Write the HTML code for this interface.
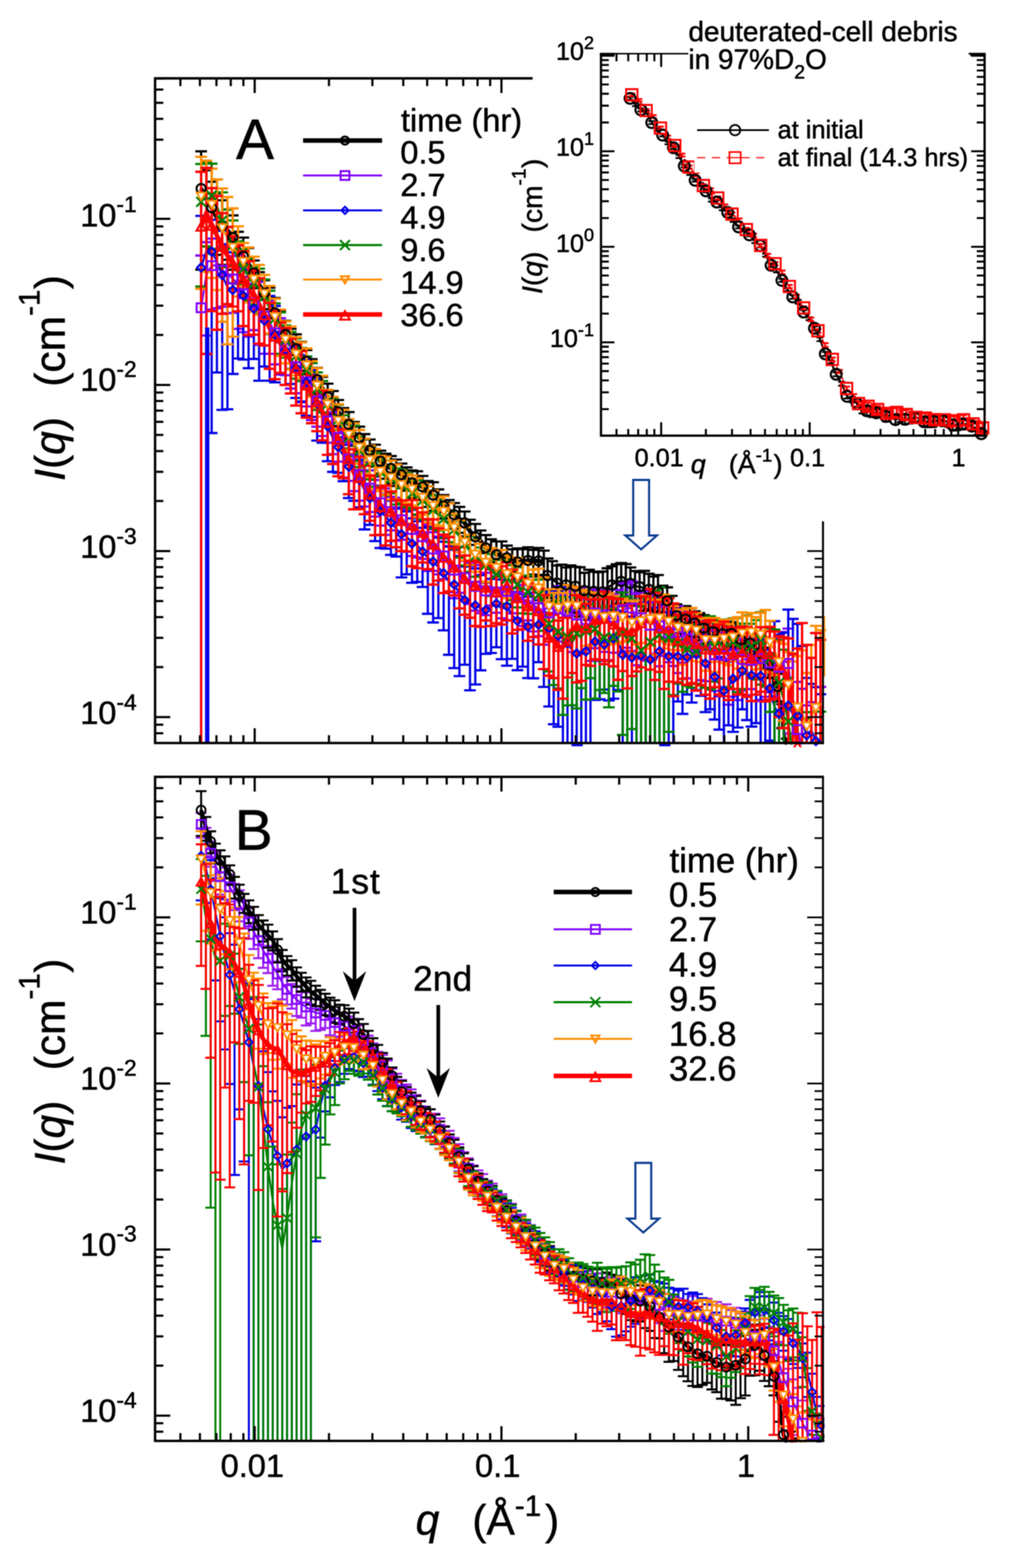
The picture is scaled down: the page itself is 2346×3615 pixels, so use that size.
<!DOCTYPE html>
<html lang="en"><head><meta charset="utf-8"><title>I(q) vs q : time evolution</title>
<style>html,body{margin:0;padding:0;background:#fff}svg{display:block}text{font-family:"Liberation Sans", sans-serif;fill:#000;stroke:#000;stroke-width:1.1px}</style>
</head><body>
<svg width="2346" height="3615" viewBox="0 0 2346 3615">
<defs><filter id="soft" filterUnits="userSpaceOnUse" x="0" y="0" width="2346" height="3615" color-interpolation-filters="sRGB"><feGaussianBlur stdDeviation="1.05"/></filter></defs>
<g filter="url(#soft)">
<rect width="2346" height="3615" fill="#fff"/>
<g id="panelA">
<clipPath id="clipA"><rect x="353.4" y="176.6" width="1550.8" height="1546.4"/></clipPath>
<g clip-path="url(#clipA)">
<g id="dataA">
<path d="M463.5 348.9V621.6M450 348.9h27M450 621.6h27M475.6 392.5V568.4M462.1 392.5h27M462.1 568.4h27M487.8 419V573.7M474.3 419h27M474.3 573.7h27M499.9 445.7V587.5M486.4 445.7h27M486.4 587.5h27M512.1 461.7V610.5M498.6 461.7h27M498.6 610.5h27M524.2 482.7V598.8M510.7 482.7h27M510.7 598.8h27M536.4 496.6V622M522.9 496.6h27M522.9 622h27M548.5 534.4V614.1M535 534.4h27M535 614.1h27M560.7 547.7V649.2M547.2 547.7h27M547.2 649.2h27M572.8 571.8V655.5M559.3 571.8h27M559.3 655.5h27M585 600.5V664.2M571.5 600.5h27M571.5 664.2h27M597.1 627.5V691.1M583.6 627.5h27M583.6 691.1h27M609.3 646.3V712.9M595.8 646.3h27M595.8 712.9h27M621.4 663.3V733.9M607.9 663.3h27M607.9 733.9h27M633.6 687V765.2M620.1 687h27M620.1 765.2h27M645.7 717V788.7M632.2 717h27M632.2 788.7h27M657.9 739.5V810.1M644.4 739.5h27M644.4 810.1h27M670 758.2V818.8M656.5 758.2h27M656.5 818.8h27M682.2 770.8V845.5M668.7 770.8h27M668.7 845.5h27M694.3 788V854.8M680.8 788h27M680.8 854.8h27M706.5 806.9V862.9M693 806.9h27M693 862.9h27M718.6 828V880.8M705.1 828h27M705.1 880.8h27M730.8 848.1V907.3M717.3 848.1h27M717.3 907.3h27M742.9 868.7V927.4M729.4 868.7h27M729.4 927.4h27M755.1 884.5V952.4M741.6 884.5h27M741.6 952.4h27M767.2 901.5V956.3M753.7 901.5h27M753.7 956.3h27M779.4 922.2V982M765.9 922.2h27M765.9 982h27M791.5 940.7V998.8M778 940.7h27M778 998.8h27M803.7 950V1012.6M790.2 950h27M790.2 1012.6h27M815.8 972.7V1028M802.3 972.7h27M802.3 1028h27M828 983.6V1039.9M814.5 983.6h27M814.5 1039.9h27M840.1 1000.9V1065.5M826.6 1000.9h27M826.6 1065.5h27M852.3 1013.3V1067.6M838.8 1013.3h27M838.8 1067.6h27M864.4 1025.3V1075.8M850.9 1025.3h27M850.9 1075.8h27M876.6 1039.1V1091.7M863.1 1039.1h27M863.1 1091.7h27M888.7 1046.1V1103.7M875.2 1046.1h27M875.2 1103.7h27M900.9 1051.4V1114.4M887.4 1051.4h27M887.4 1114.4h27M913 1059.5V1120.5M899.5 1059.5h27M899.5 1120.5h27M925.2 1068.8V1125.3M911.7 1068.8h27M911.7 1125.3h27M937.3 1077.6V1131.1M923.8 1077.6h27M923.8 1131.1h27M949.5 1084.6V1148M936 1084.6h27M936 1148h27M961.6 1086.5V1151.4M948.1 1086.5h27M948.1 1151.4h27M973.8 1097.2V1152.4M960.3 1097.2h27M960.3 1152.4h27M985.9 1109V1168.7M972.4 1109h27M972.4 1168.7h27M998.1 1111.7V1177.9M984.6 1111.7h27M984.6 1177.9h27M1010.2 1128.4V1180.9M996.7 1128.4h27M996.7 1180.9h27M1022.4 1141.4V1195.5M1008.9 1141.4h27M1008.9 1195.5h27M1034.5 1152.9V1202.4M1021 1152.9h27M1021 1202.4h27M1046.7 1159.7V1219M1033.2 1159.7h27M1033.2 1219h27M1058.8 1168.6V1228.5M1045.3 1168.6h27M1045.3 1228.5h27M1071 1179.3V1236.6M1057.5 1179.3h27M1057.5 1236.6h27M1083.1 1198.2V1256.3M1069.6 1198.2h27M1069.6 1256.3h27M1095.3 1208V1273.9M1081.8 1208h27M1081.8 1273.9h27M1107.4 1223V1275.2M1093.9 1223h27M1093.9 1275.2h27M1119.6 1233.6V1299M1106.1 1233.6h27M1106.1 1299h27M1131.7 1243.3V1296.6M1118.2 1243.3h27M1118.2 1296.6h27M1143.9 1248.3V1316.7M1130.4 1248.3h27M1130.4 1316.7h27M1156 1248.2V1317.1M1142.5 1248.2h27M1142.5 1317.1h27M1168.2 1257.9V1319.9M1154.7 1257.9h27M1154.7 1319.9h27M1180.4 1266.5V1318.9M1166.9 1266.5h27M1166.9 1318.9h27M1192.5 1264.4V1334.3M1179 1264.4h27M1179 1334.3h27M1204.7 1266.3V1331.2M1191.2 1266.3h27M1191.2 1331.2h27M1216.8 1261.7V1329.3M1203.3 1261.7h27M1203.3 1329.3h27M1229 1267.6V1324.6M1215.5 1267.6h27M1215.5 1324.6h27M1241.1 1263.4V1329.4M1227.6 1263.4h27M1227.6 1329.4h27M1253.3 1269.5V1325.6M1239.8 1269.5h27M1239.8 1325.6h27" stroke="#000" stroke-width="5.1" fill="none"/>
<path d="M463.5 434.7L475.6 458.2L487.8 479L499.9 501.9L512.1 520L524.2 530.8L536.4 547.8L548.5 569.5L560.7 590.8L572.8 608.5L585 629.3L597.1 656.3L609.3 676.3L621.4 694.9L633.6 721.5L645.7 749L657.9 771L670 785.8L682.2 804L694.3 818.1L706.5 832.6L718.6 852.3L730.8 875.1L742.9 895.5L755.1 915L767.2 926.6L779.4 949.5L791.5 967.2L803.7 978.4L815.8 998.1L828 1009.4L840.1 1030.1L852.3 1038.3L864.4 1048.7L876.6 1063.3L888.7 1072.4L900.9 1080L913 1087.2L925.2 1094.7L937.3 1102.2L949.5 1113.3L961.6 1115.8L973.8 1122.5L985.9 1136.2L998.1 1141.5L1010.2 1152.6L1022.4 1166.3L1034.5 1175.8L1046.7 1186.7L1058.8 1195.9L1071 1205.5L1083.1 1224.7L1095.3 1237.7L1107.4 1247L1119.6 1263.1L1131.7 1267.8L1143.9 1279L1156 1279.1L1168.2 1286L1180.4 1290.6L1192.5 1295.7L1204.7 1295.6L1216.8 1292.1L1229 1293.7L1241.1 1293.1L1253.3 1295.2" stroke="#000" stroke-width="10" fill="none" stroke-linejoin="round"/>
<path d="M1262 1287.5V1378.6M1248.5 1287.5h27M1248.5 1378.6h27M1272.6 1293.7V1387.3M1259.1 1293.7h27M1259.1 1387.3h27M1283.2 1303.8V1397.4M1269.7 1303.8h27M1269.7 1397.4h27M1293.8 1301.8V1406.4M1280.3 1301.8h27M1280.3 1406.4h27M1304.4 1308.2V1401.3M1290.9 1308.2h27M1290.9 1401.3h27M1315 1303.6V1411.5M1301.5 1303.6h27M1301.5 1411.5h27M1325.6 1306.7V1413.3M1312.1 1306.7h27M1312.1 1413.3h27M1336.2 1307.9V1422M1322.7 1307.9h27M1322.7 1422h27M1346.8 1320.6V1415.8M1333.3 1320.6h27M1333.3 1415.8h27M1357.4 1313.5V1429M1343.9 1313.5h27M1343.9 1429h27M1368 1317.9V1426.5M1354.5 1317.9h27M1354.5 1426.5h27M1378.6 1319.2V1426.3M1365.1 1319.2h27M1365.1 1426.3h27M1389.2 1317.6V1429.5M1375.7 1317.6h27M1375.7 1429.5h27M1399.8 1310.1V1414.1M1386.3 1310.1h27M1386.3 1414.1h27M1410.4 1305.5V1407M1396.9 1305.5h27M1396.9 1407h27M1421 1300.8V1392.3M1407.5 1300.8h27M1407.5 1392.3h27M1431.6 1298V1397.8M1418.1 1298h27M1418.1 1397.8h27M1442.2 1300.4V1389.5M1428.7 1300.4h27M1428.7 1389.5h27M1452.8 1308.3V1392.4M1439.3 1308.3h27M1439.3 1392.4h27M1463.4 1316.5V1396.5M1449.9 1316.5h27M1449.9 1396.5h27M1474 1319.1V1394.8M1460.5 1319.1h27M1460.5 1394.8h27M1484.6 1316.1V1408.4M1471.1 1316.1h27M1471.1 1408.4h27M1495.2 1322.9V1404.8M1481.7 1322.9h27M1481.7 1404.8h27M1505.8 1329.3V1408.7M1492.3 1329.3h27M1492.3 1408.7h27M1516.4 1325.8V1411.9M1502.9 1325.8h27M1502.9 1411.9h27M1527 1350.2V1412M1513.5 1350.2h27M1513.5 1412h27M1537.6 1354.1V1423.3M1524.1 1354.1h27M1524.1 1423.3h27M1548.2 1373.7V1436.9M1534.7 1373.7h27M1534.7 1436.9h27M1558.8 1393.3V1450.3M1545.3 1393.3h27M1545.3 1450.3h27M1569.4 1401.1V1459M1555.9 1401.1h27M1555.9 1459h27M1580 1397.3V1463.9M1566.5 1397.3h27M1566.5 1463.9h27M1590.6 1402.3V1470.2M1577.1 1402.3h27M1577.1 1470.2h27M1601.2 1409.3V1468.5M1587.7 1409.3h27M1587.7 1468.5h27M1611.8 1413.6V1476.8M1598.3 1413.6h27M1598.3 1476.8h27M1622.4 1418.4V1484.9M1608.9 1418.4h27M1608.9 1484.9h27M1633 1423.3V1481M1619.5 1423.3h27M1619.5 1481h27M1643.6 1431.5V1486.2M1630.1 1431.5h27M1630.1 1486.2h27M1654.2 1433V1483.3M1640.7 1433h27M1640.7 1483.3h27M1664.8 1430.5V1498.9M1651.3 1430.5h27M1651.3 1498.9h27M1675.4 1439V1491.2M1661.9 1439h27M1661.9 1491.2h27M1686 1434.3V1491.8M1672.5 1434.3h27M1672.5 1491.8h27M1696.6 1437.8V1494.7M1683.1 1437.8h27M1683.1 1494.7h27M1707.2 1444.1V1512.5M1693.7 1444.1h27M1693.7 1512.5h27M1717.8 1449.2V1511.8M1704.3 1449.2h27M1704.3 1511.8h27M1728.4 1459.9V1509.5M1714.9 1459.9h27M1714.9 1509.5h27M1739 1460.4V1523M1725.5 1460.4h27M1725.5 1523h27M1749.6 1482.1V1532.8M1736.1 1482.1h27M1736.1 1532.8h27M1760.2 1493.2V1542M1746.7 1493.2h27M1746.7 1542h27M1770.8 1506V1563.1M1757.3 1506h27M1757.3 1563.1h27M1781.4 1531.2V1584.8M1767.9 1531.2h27M1767.9 1584.8h27M1792 1553.8V1617.3M1778.5 1553.8h27M1778.5 1617.3h27M1802.6 1623.5V1678.6M1789.1 1623.5h27M1789.1 1678.6h27M1813.2 1703.1V1713M1799.7 1703.1h27M1823.8 1711.4V1713M1810.3 1711.4h27M1834.4 1711.5V1713M1820.9 1711.5h27" stroke="#000" stroke-width="5.1" fill="none"/>
<path d="M1262 1326.9L1272.6 1334L1283.2 1344.1L1293.8 1346L1304.4 1348.4L1315 1349L1325.6 1351.6L1336.2 1355.3L1346.8 1361.5L1357.4 1361.4L1368 1363.5L1378.6 1364.2L1389.2 1364.3L1399.8 1354.1L1410.4 1348.6L1421 1340.3L1431.6 1340.5L1442.2 1339.1L1452.8 1345.1L1463.4 1351.7L1474 1352.7L1484.6 1355.9L1495.2 1358.8L1505.8 1364.3L1516.4 1363.4L1527 1378.2L1537.6 1385.1L1548.2 1402.4L1558.8 1419.4L1569.4 1427.5L1580 1427.3L1590.6 1432.8L1601.2 1436.3L1611.8 1442.2L1622.4 1448.3L1633 1449.7L1643.6 1456.6L1654.2 1456.3L1664.8 1461.2L1675.4 1463.1L1686 1460.6L1696.6 1463.8L1707.2 1474.8L1717.8 1477.6L1728.4 1482.9L1739 1488.8L1749.6 1505.5L1760.2 1515.8L1770.8 1532.1L1781.4 1555.8L1792 1582.6L1802.6 1648.8L1811.3 1717" stroke="#000" stroke-width="5" fill="none" stroke-linejoin="round"/>
<path d="M463.5 589.1V1713M450 589.1h27M475.6 558.4V773.5M462.1 558.4h27M462.1 773.5h27M487.8 550.1V713.7M474.3 550.1h27M474.3 713.7h27M499.9 549.8V710.6M486.4 549.8h27M486.4 710.6h27M512.1 567.5V707.1M498.6 567.5h27M498.6 707.1h27M524.2 569.8V722M510.7 569.8h27M510.7 722h27M536.4 590.5V721.2M522.9 590.5h27M522.9 721.2h27M548.5 589.5V758.3M535 589.5h27M535 758.3h27M560.7 619.7V765.8M547.2 619.7h27M547.2 765.8h27M572.8 638.4V776.1M559.3 638.4h27M559.3 776.1h27M585 654.2V761.1M571.5 654.2h27M571.5 761.1h27M597.1 649.8V795.2M583.6 649.8h27M583.6 795.2h27M609.3 672.4V815.5M595.8 672.4h27M595.8 815.5h27M621.4 692.6V815.7M607.9 692.6h27M607.9 815.7h27M633.6 717.1V840.1M620.1 717.1h27M620.1 840.1h27M645.7 733.5V863.8M632.2 733.5h27M632.2 863.8h27M657.9 757.7V865M644.4 757.7h27M644.4 865h27M670 778.9V895.9M656.5 778.9h27M656.5 895.9h27M682.2 801.1V906.5M668.7 801.1h27M668.7 906.5h27M694.3 818.7V927.5M680.8 818.7h27M680.8 927.5h27M706.5 838V937M693 838h27M693 937h27M718.6 863.1V968.4M705.1 863.1h27M705.1 968.4h27M730.8 881.1V983.7M717.3 881.1h27M717.3 983.7h27M742.9 910.1V1005.3M729.4 910.1h27M729.4 1005.3h27M755.1 931.9V1020.8M741.6 931.9h27M741.6 1020.8h27M767.2 950.6V1047M753.7 950.6h27M753.7 1047h27M779.4 966.9V1064.3M765.9 966.9h27M765.9 1064.3h27M791.5 995.4V1101M778 995.4h27M778 1101h27M803.7 1019.6V1108.8M790.2 1019.6h27M790.2 1108.8h27M815.8 1036.8V1132.3M802.3 1036.8h27M802.3 1132.3h27M828 1050V1154.2M814.5 1050h27M814.5 1154.2h27M840.1 1066.6V1167.7M826.6 1066.6h27M826.6 1167.7h27M852.3 1084.4V1180.5M838.8 1084.4h27M838.8 1180.5h27M864.4 1106.8V1190.9M850.9 1106.8h27M850.9 1190.9h27M876.6 1119.2V1211.8M863.1 1119.2h27M863.1 1211.8h27M888.7 1126.3V1233.3M875.2 1126.3h27M875.2 1233.3h27M900.9 1145.4V1222.6M887.4 1145.4h27M887.4 1222.6h27M913 1147.6V1246.4M899.5 1147.6h27M899.5 1246.4h27M925.2 1162.3V1244.4M911.7 1162.3h27M911.7 1244.4h27M937.3 1174.2V1272.3M923.8 1174.2h27M923.8 1272.3h27M949.5 1175.8V1281.9M936 1175.8h27M936 1281.9h27M961.6 1187.1V1285.4M948.1 1187.1h27M948.1 1285.4h27M973.8 1198.3V1288.8M960.3 1198.3h27M960.3 1288.8h27M985.9 1209.6V1316.5M972.4 1209.6h27M972.4 1316.5h27M998.1 1227.1V1316.1M984.6 1227.1h27M984.6 1316.1h27M1010.2 1236.8V1324.2M996.7 1236.8h27M996.7 1324.2h27M1022.4 1241.4V1335.3M1008.9 1241.4h27M1008.9 1335.3h27M1034.5 1258.7V1365.4M1021 1258.7h27M1021 1365.4h27M1046.7 1267.9V1379.1M1033.2 1267.9h27M1033.2 1379.1h27M1058.8 1281.7V1366.6M1045.3 1281.7h27M1045.3 1366.6h27M1071 1293.2V1382.2M1057.5 1293.2h27M1057.5 1382.2h27M1083.1 1298.1V1392.5M1069.6 1298.1h27M1069.6 1392.5h27M1095.3 1310.1V1407.9M1081.8 1310.1h27M1081.8 1407.9h27M1107.4 1302.6V1413.7M1093.9 1302.6h27M1093.9 1413.7h27M1119.6 1320.6V1418.3M1106.1 1320.6h27M1106.1 1418.3h27M1131.7 1312.4V1396.1M1118.2 1312.4h27M1118.2 1396.1h27M1143.9 1328.2V1412.8M1130.4 1328.2h27M1130.4 1412.8h27M1156 1321.5V1425.6M1142.5 1321.5h27M1142.5 1425.6h27M1168.2 1316.3V1429.5M1154.7 1316.3h27M1154.7 1429.5h27M1180.4 1324.2V1413.9M1166.9 1324.2h27M1166.9 1413.9h27M1192.5 1339.1V1425.4M1179 1339.1h27M1179 1425.4h27M1204.7 1348.9V1443.3M1191.2 1348.9h27M1191.2 1443.3h27M1216.8 1342.3V1430.4M1203.3 1342.3h27M1203.3 1430.4h27M1229 1352V1455.7M1215.5 1352h27M1215.5 1455.7h27M1241.1 1354.2V1466.7M1227.6 1354.2h27M1227.6 1466.7h27M1253.3 1358.4V1486.3M1239.8 1358.4h27M1239.8 1486.3h27M1265.4 1369.2V1472.4M1251.9 1369.2h27M1251.9 1472.4h27M1276 1367.4V1475.3M1262.5 1367.4h27M1262.5 1475.3h27M1286.6 1351.6V1479.3M1273.1 1351.6h27M1273.1 1479.3h27M1297.2 1370.9V1490.3M1283.7 1370.9h27M1283.7 1490.3h27M1307.8 1357.1V1486.6M1294.3 1357.1h27M1294.3 1486.6h27M1318.4 1364.4V1503.3M1304.9 1364.4h27M1304.9 1503.3h27M1329 1358.5V1510.6M1315.5 1358.5h27M1315.5 1510.6h27M1339.6 1353.1V1507.2M1326.1 1353.1h27M1326.1 1507.2h27M1350.2 1380.3V1496.6M1336.7 1380.3h27M1336.7 1496.6h27M1360.8 1373.6V1523.8M1347.3 1373.6h27M1347.3 1523.8h27M1371.4 1359.2V1494.4M1357.9 1359.2h27M1357.9 1494.4h27M1382 1362.9V1524M1368.5 1362.9h27M1368.5 1524h27M1392.6 1361.5V1503M1379.1 1361.5h27M1379.1 1503h27M1403.2 1367.7V1522.1M1389.7 1367.7h27M1389.7 1522.1h27M1413.8 1368.9V1504.7M1400.3 1368.9h27M1400.3 1504.7h27M1424.4 1360V1482.2M1410.9 1360h27M1410.9 1482.2h27M1435 1345.7V1501.4M1421.5 1345.7h27M1421.5 1501.4h27M1445.6 1343.5V1493.4M1432.1 1343.5h27M1432.1 1493.4h27M1456.2 1340.4V1500.9M1442.7 1340.4h27M1442.7 1500.9h27M1466.8 1368.5V1533.7M1453.3 1368.5h27M1453.3 1533.7h27M1477.4 1364.8V1518.9M1463.9 1364.8h27M1463.9 1518.9h27M1488 1361.8V1522.9M1474.5 1361.8h27M1474.5 1522.9h27M1498.6 1388.9V1518.6M1485.1 1388.9h27M1485.1 1518.6h27M1509.2 1372.2V1506.7M1495.7 1372.2h27M1495.7 1506.7h27M1519.8 1383.2V1536M1506.3 1383.2h27M1506.3 1536h27M1530.4 1398.9V1512.3M1516.9 1398.9h27M1516.9 1512.3h27M1541 1411.7V1526.8M1527.5 1411.7h27M1527.5 1526.8h27M1551.6 1414.8V1535.4M1538.1 1414.8h27M1538.1 1535.4h27M1562.2 1397.8V1551.7M1548.7 1397.8h27M1548.7 1551.7h27M1572.8 1408.4V1527.8M1559.3 1408.4h27M1559.3 1527.8h27M1583.4 1413.7V1563.9M1569.9 1413.7h27M1569.9 1563.9h27M1594 1427.8V1576.1M1580.5 1427.8h27M1580.5 1576.1h27M1604.6 1439.2V1576.6M1591.1 1439.2h27M1591.1 1576.6h27M1615.2 1451.8V1568.1M1601.7 1451.8h27M1601.7 1568.1h27M1625.8 1431.3V1570.5M1612.3 1431.3h27M1612.3 1570.5h27M1636.4 1435.6V1586.1M1622.9 1435.6h27M1622.9 1586.1h27M1647 1453.9V1592.9M1633.5 1453.9h27M1633.5 1592.9h27M1657.6 1464.5V1605.5M1644.1 1464.5h27M1644.1 1605.5h27M1668.2 1458.1V1589.5M1654.7 1458.1h27M1654.7 1589.5h27M1678.8 1464.2V1624.8M1665.3 1464.2h27M1665.3 1624.8h27M1689.4 1448.7V1606.3M1675.9 1448.7h27M1675.9 1606.3h27M1700 1474.9V1614M1686.5 1474.9h27M1686.5 1614h27M1710.6 1470.3V1592.3M1697.1 1470.3h27M1697.1 1592.3h27M1721.2 1464.9V1602.8M1707.7 1464.9h27M1707.7 1602.8h27M1731.8 1475.2V1588.6M1718.3 1475.2h27M1718.3 1588.6h27M1742.4 1477.6V1616.2M1728.9 1477.6h27M1728.9 1616.2h27M1753 1458.6V1613.3M1739.5 1458.6h27M1739.5 1613.3h27M1763.6 1469.2V1606.5M1750.1 1469.2h27M1750.1 1606.5h27M1774.2 1480.8V1596M1760.7 1480.8h27M1760.7 1596h27M1784.8 1472V1605.1M1771.3 1472h27M1771.3 1605.1h27M1795.4 1476.4V1638.3M1781.9 1476.4h27M1781.9 1638.3h27M1806 1457V1627.3M1792.5 1457h27M1792.5 1627.3h27M1816.6 1449.3V1691.1M1803.1 1449.3h27M1803.1 1691.1h27M1827.2 1509.7V1713M1813.7 1509.7h27M1837.8 1572.1V1713M1824.3 1572.1h27M1848.4 1588.1V1713M1834.9 1588.1h27M1859 1626.2V1713M1845.5 1626.2h27M1869.6 1619V1713M1856.1 1619h27M1880.2 1584.2V1713M1866.7 1584.2h27M1890.8 1583.8V1713M1877.3 1583.8h27" stroke="#7f00ff" stroke-width="5.1" fill="none"/>
<path d="M463.5 709.5L475.6 633.3L487.8 612.5L499.9 611.4L512.1 623.1L524.2 629.1L536.4 643.3L548.5 653.4L560.7 677.2L572.8 693.4L585 699.2L597.1 707.1L609.3 729L621.4 743L633.6 767.5L645.7 786.2L657.9 802.8L670 827.3L682.2 845.6L694.3 864.4L706.5 880.2L718.6 907.5L730.8 924.6L742.9 951L755.1 970.5L767.2 991.9L779.4 1008.6L791.5 1039.9L803.7 1058.3L815.8 1077.8L828 1094L840.1 1109.6L852.3 1125.6L864.4 1143.6L876.6 1159.1L888.7 1171.3L900.9 1179.6L913 1189.8L925.2 1198.4L937.3 1216.2L949.5 1220.5L961.6 1229.1L973.8 1237.5L985.9 1254.6L998.1 1265.7L1010.2 1274.8L1022.4 1281.8L1034.5 1303.6L1046.7 1314.4L1058.8 1318.8L1071 1331.8L1083.1 1338.7L1095.3 1351.9L1107.4 1349.1L1119.6 1362.3L1131.7 1349.1L1143.9 1365.2L1156 1365.6L1168.2 1363.5L1180.4 1363.1L1192.5 1376.7L1204.7 1389.5L1216.8 1380.6L1229 1395.9L1241.1 1401.2L1253.3 1410.3L1265.4 1412.9L1276 1412.7L1286.6 1403.5L1297.2 1420.1L1307.8 1409.5L1318.4 1419.8L1329 1417.8L1339.6 1412.9L1350.2 1428.5L1360.8 1432.3L1371.4 1413.4L1382 1424.6L1392.6 1417.6L1403.2 1427.6L1413.8 1423.3L1424.4 1410.1L1435 1406L1445.6 1402.1L1456.2 1402L1466.8 1431.4L1477.4 1424.6L1488 1423.5L1498.6 1441.4L1509.2 1426.2L1519.8 1442.6L1530.4 1446.1L1541 1459.5L1551.6 1464.4L1562.2 1457.5L1572.8 1457.6L1583.4 1472.4L1594 1485.9L1604.6 1494.1L1615.2 1500L1625.8 1486.8L1636.4 1494.3L1647 1509.3L1657.6 1520.5L1668.2 1511.1L1678.8 1525.9L1689.4 1509.5L1700 1530.3L1710.6 1520.4L1721.2 1519.9L1731.8 1522.4L1742.4 1532.9L1753 1518.6L1763.6 1524.1L1774.2 1528.6L1784.8 1525.5L1795.4 1538.3L1806 1521.2L1816.6 1529.7L1827.2 1620.9L1837.8 1682.1L1846.6 1717" stroke="#7f00ff" stroke-width="4.4" fill="none" stroke-linejoin="round"/>
<path d="M463.5 497.8V1713M450 497.8h27M475.6 458.9V1713M462.1 458.9h27M487.8 471.7V998.4M474.3 471.7h27M474.3 998.4h27M499.9 506.8V858.8M486.4 506.8h27M486.4 858.8h27M512.1 532.1V945M498.6 532.1h27M498.6 945h27M524.2 563.1V943.5M510.7 563.1h27M510.7 943.5h27M536.4 581.6V862.1M522.9 581.6h27M522.9 862.1h27M548.5 583V826.5M535 583h27M535 826.5h27M560.7 604.4V829M547.2 604.4h27M547.2 829h27M572.8 621.8V848.9M559.3 621.8h27M559.3 848.9h27M585 643.7V827.6M571.5 643.7h27M571.5 827.6h27M597.1 642.6V877.7M583.6 642.6h27M583.6 877.7h27M609.3 675V845M595.8 675h27M595.8 845h27M621.4 682.4V877.8M607.9 682.4h27M607.9 877.8h27M633.6 705.4V881.5M620.1 705.4h27M620.1 881.5h27M645.7 750.3V860.7M632.2 750.3h27M632.2 860.7h27M657.9 754.7V887.2M644.4 754.7h27M644.4 887.2h27M670 781.5V885.3M656.5 781.5h27M656.5 885.3h27M682.2 799.2V917.5M668.7 799.2h27M668.7 917.5h27M694.3 820.5V925.6M680.8 820.5h27M680.8 925.6h27M706.5 827.9V958.4M693 827.9h27M693 958.4h27M718.6 853V961.3M705.1 853h27M705.1 961.3h27M730.8 874.1V1015.8M717.3 874.1h27M717.3 1015.8h27M742.9 916.2V1020.8M729.4 916.2h27M729.4 1020.8h27M755.1 929.1V1063.2M741.6 929.1h27M741.6 1063.2h27M767.2 957.4V1087.9M753.7 957.4h27M753.7 1087.9h27M779.4 987.4V1090.1M765.9 987.4h27M765.9 1090.1h27M791.5 1008.1V1109.4M778 1008.1h27M778 1109.4h27M803.7 1025.4V1148.2M790.2 1025.4h27M790.2 1148.2h27M815.8 1048V1154.8M802.3 1048h27M802.3 1154.8h27M828 1059.9V1169.9M814.5 1059.9h27M814.5 1169.9h27M840.1 1071.8V1220.6M826.6 1071.8h27M826.6 1220.6h27M852.3 1103.7V1210.1M838.8 1103.7h27M838.8 1210.1h27M864.4 1098.8V1247.5M850.9 1098.8h27M850.9 1247.5h27M876.6 1123.6V1263.4M863.1 1123.6h27M863.1 1263.4h27M888.7 1139.1V1264.9M875.2 1139.1h27M875.2 1264.9h27M900.9 1154.2V1279.2M887.4 1154.2h27M887.4 1279.2h27M913 1172.7V1283.1M899.5 1172.7h27M899.5 1283.1h27M925.2 1170V1331.3M911.7 1170h27M911.7 1331.3h27M937.3 1179.1V1324.1M923.8 1179.1h27M923.8 1324.1h27M949.5 1195V1343.6M936 1195h27M936 1343.6h27M961.6 1201.7V1341.6M948.1 1201.7h27M948.1 1341.6h27M973.8 1217V1353.2M960.3 1217h27M960.3 1353.2h27M985.9 1214.6V1415.1M972.4 1214.6h27M972.4 1415.1h27M998.1 1219.7V1435.1M984.6 1219.7h27M984.6 1435.1h27M1010.2 1239.8V1425M996.7 1239.8h27M996.7 1425h27M1022.4 1248.9V1453.2M1008.9 1248.9h27M1008.9 1453.2h27M1034.5 1260.3V1509.6M1021 1260.3h27M1021 1509.6h27M1046.7 1260.7V1540.3M1033.2 1260.7h27M1033.2 1540.3h27M1058.8 1282V1558.7M1045.3 1282h27M1045.3 1558.7h27M1071 1306.2V1532.5M1057.5 1306.2h27M1057.5 1532.5h27M1083.1 1304.1V1591.5M1069.6 1304.1h27M1069.6 1591.5h27M1095.3 1310.7V1578M1081.8 1310.7h27M1081.8 1578h27M1107.4 1325.9V1545.4M1093.9 1325.9h27M1093.9 1545.4h27M1119.6 1343.7V1507.5M1106.1 1343.7h27M1106.1 1507.5h27M1131.7 1334.6V1505.5M1118.2 1334.6h27M1118.2 1505.5h27M1143.9 1329.3V1492.3M1130.4 1329.3h27M1130.4 1492.3h27M1156 1336.2V1519.8M1142.5 1336.2h27M1142.5 1519.8h27M1168.2 1323.8V1534.7M1154.7 1323.8h27M1154.7 1534.7h27M1180.4 1356.2V1519M1166.9 1356.2h27M1166.9 1519h27M1192.5 1364.6V1545.1M1179 1364.6h27M1179 1545.1h27M1204.7 1369.6V1537M1191.2 1369.6h27M1191.2 1537h27M1216.8 1376V1563.2M1203.3 1376h27M1203.3 1563.2h27M1229 1366.5V1563.9M1215.5 1366.5h27M1215.5 1563.9h27M1241.1 1383.9V1526.6M1227.6 1383.9h27M1227.6 1526.6h27M1253.3 1366.3V1583.8M1239.8 1366.3h27M1239.8 1583.8h27M1265.4 1364.4V1628.7M1251.9 1364.4h27M1251.9 1628.7h27M1276 1361.8V1669.8M1262.5 1361.8h27M1262.5 1669.8h27M1286.6 1376.1V1675.5M1273.1 1376.1h27M1273.1 1675.5h27M1297.2 1351.9V1713M1283.7 1351.9h27M1307.8 1376.1V1713M1294.3 1376.1h27M1318.4 1388.9V1713M1304.9 1388.9h27M1329 1392V1713M1315.5 1392h27M1339.6 1411V1713M1326.1 1411h27M1350.2 1395.2V1713M1336.7 1395.2h27M1360.8 1384.2V1713M1347.3 1384.2h27M1371.4 1406V1613.6M1357.9 1406h27M1357.9 1613.6h27M1382 1403.8V1612.1M1368.5 1403.8h27M1368.5 1612.1h27M1392.6 1422.3V1589.8M1379.1 1422.3h27M1379.1 1589.8h27M1403.2 1417.3V1615M1389.7 1417.3h27M1389.7 1615h27M1413.8 1397.6V1610.7M1400.3 1397.6h27M1400.3 1610.7h27M1424.4 1408.4V1590.9M1410.9 1408.4h27M1410.9 1590.9h27M1435 1410.7V1713M1421.5 1410.7h27M1445.6 1395.3V1713M1432.1 1395.3h27M1456.2 1421.7V1713M1442.7 1421.7h27M1466.8 1421.9V1713M1453.3 1421.9h27M1477.4 1392.1V1713M1463.9 1392.1h27M1488 1389.2V1713M1474.5 1389.2h27M1498.6 1424.3V1713M1485.1 1424.3h27M1509.2 1400.9V1713M1495.7 1400.9h27M1519.8 1376.4V1713M1506.3 1376.4h27M1530.4 1393.9V1713M1516.9 1393.9h27M1541 1412V1713M1527.5 1412h27M1551.6 1408.9V1713M1538.1 1408.9h27M1562.2 1450.2V1617.2M1548.7 1450.2h27M1548.7 1617.2h27M1572.8 1453V1645.9M1559.3 1453h27M1559.3 1645.9h27M1583.4 1459V1601.2M1569.9 1459h27M1569.9 1601.2h27M1594 1455.1V1619.8M1580.5 1455.1h27M1580.5 1619.8h27M1604.6 1453.6V1591.1M1591.1 1453.6h27M1591.1 1591.1h27M1615.2 1462.4V1604.1M1601.7 1462.4h27M1601.7 1604.1h27M1625.8 1463.2V1641.7M1612.3 1463.2h27M1612.3 1641.7h27M1636.4 1485.5V1635.2M1622.9 1485.5h27M1622.9 1635.2h27M1647 1499.2V1658.9M1633.5 1499.2h27M1633.5 1658.9h27M1657.6 1515.1V1682.1M1644.1 1515.1h27M1644.1 1682.1h27M1668.2 1521.4V1713M1654.7 1521.4h27M1678.8 1525.8V1672.3M1665.3 1525.8h27M1665.3 1672.3h27M1689.4 1495.1V1687.2M1675.9 1495.1h27M1675.9 1687.2h27M1700 1505.7V1677.3M1686.5 1505.7h27M1686.5 1677.3h27M1710.6 1488.1V1635.4M1697.1 1488.1h27M1697.1 1635.4h27M1721.2 1492.2V1660.1M1707.7 1492.2h27M1707.7 1660.1h27M1731.8 1488.1V1675.1M1718.3 1488.1h27M1718.3 1675.1h27M1742.4 1501.9V1667.1M1728.9 1501.9h27M1728.9 1667.1h27M1753 1474.8V1713M1739.5 1474.8h27M1763.6 1498.1V1713M1750.1 1498.1h27M1774.2 1517.5V1707.5M1760.7 1517.5h27M1760.7 1707.5h27M1784.8 1432.1V1713M1771.3 1432.1h27M1795.4 1463.2V1713M1781.9 1463.2h27M1806 1458.6V1713M1792.5 1458.6h27M1816.6 1405.4V1713M1803.1 1405.4h27M1827.2 1426.9V1713M1813.7 1426.9h27M1837.8 1438.4V1713M1824.3 1438.4h27M1848.4 1489.2V1713M1834.9 1489.2h27M1859 1563V1713M1845.5 1563h27M1869.6 1576.7V1713M1856.1 1576.7h27M1880.2 1584.2V1713M1866.7 1584.2h27M1890.8 1600.5V1713M1877.3 1600.5h27" stroke="#0000e6" stroke-width="5.1" fill="none"/>
<path d="M463.5 616.8L475.6 578.7L487.8 580.1L499.9 603.1L512.1 634L524.2 662.3L536.4 668.6L548.5 663.7L560.7 681.3L572.8 699.3L585 711.4L597.1 721.7L609.3 739.2L621.4 752.9L633.6 771.1L645.7 796.5L657.9 808.1L670 825.4L682.2 848.1L694.3 864.8L706.5 880.6L718.6 898.5L730.8 930.3L742.9 960.4L755.1 983L767.2 1010.1L779.4 1030.9L791.5 1051.2L803.7 1075.7L815.8 1093L828 1105.9L840.1 1130.1L852.3 1148.5L864.4 1157.1L876.6 1179.2L888.7 1190.4L900.9 1205.2L913 1218.9L925.2 1231.8L937.3 1236.3L949.5 1253.2L961.6 1257.4L973.8 1271.5L985.9 1286.3L998.1 1294.7L1010.2 1307.8L1022.4 1321.4L1034.5 1342L1046.7 1347.6L1058.8 1368.4L1071 1383.5L1083.1 1392.2L1095.3 1395.6L1107.4 1401.8L1119.6 1406.2L1131.7 1399L1143.9 1391.6L1156 1403.8L1168.2 1397.9L1180.4 1418.4L1192.5 1431.5L1204.7 1433.1L1216.8 1444.6L1229 1437.4L1241.1 1440.4L1253.3 1441.8L1265.4 1448.8L1276 1452.9L1286.6 1466L1297.2 1468.6L1307.8 1482.4L1318.4 1499.1L1329 1506.5L1339.6 1508.7L1350.2 1501.9L1360.8 1480.9L1371.4 1479.3L1382 1477.2L1392.6 1485.8L1403.2 1488.3L1413.8 1472.1L1424.4 1475.8L1435 1509.8L1445.6 1512.6L1456.2 1516L1466.8 1517.3L1477.4 1511.3L1488 1513.4L1498.6 1520.5L1509.2 1527.1L1519.8 1501.6L1530.4 1505L1541 1513.2L1551.6 1504.1L1562.2 1513.6L1572.8 1522.9L1583.4 1515.4L1594 1517.8L1604.6 1508.5L1615.2 1518.6L1625.8 1529.6L1636.4 1544L1647 1560.6L1657.6 1578.5L1668.2 1592.5L1678.8 1583.5L1689.4 1564.9L1700 1570.3L1710.6 1546L1721.2 1555.8L1731.8 1556.6L1742.4 1564.7L1753 1558.1L1763.6 1583L1774.2 1586.7L1784.8 1630.1L1795.4 1645.3L1806 1640.4L1816.6 1626.8L1827.2 1647.3L1837.8 1650.8L1848.4 1663.3L1859 1695.2L1869.6 1683L1880.2 1708.7L1890.8 1710.2" stroke="#0000e6" stroke-width="4.4" fill="none" stroke-linejoin="round"/>
<path d="M463.5 378.1V660.5M450 378.1h27M450 660.5h27M475.6 372.9V568.4M462.1 372.9h27M462.1 568.4h27M487.8 377.4V585.1M474.3 377.4h27M474.3 585.1h27M499.9 413.6V574.3M486.4 413.6h27M486.4 574.3h27M512.1 443.5V616.1M498.6 443.5h27M498.6 616.1h27M524.2 483.4V612.3M510.7 483.4h27M510.7 612.3h27M536.4 508.3V652.6M522.9 508.3h27M522.9 652.6h27M548.5 556.3V654.6M535 556.3h27M535 654.6h27M560.7 575V681.1M547.2 575h27M547.2 681.1h27M572.8 596.2V692.7M559.3 596.2h27M559.3 692.7h27M585 616V702.2M571.5 616h27M571.5 702.2h27M597.1 619.5V723.9M583.6 619.5h27M583.6 723.9h27M609.3 644.3V733.6M595.8 644.3h27M595.8 733.6h27M621.4 670.3V770.1M607.9 670.3h27M607.9 770.1h27M633.6 699.4V778.9M620.1 699.4h27M620.1 778.9h27M645.7 720.3V815.5M632.2 720.3h27M632.2 815.5h27M657.9 750.3V824.5M644.4 750.3h27M644.4 824.5h27M670 765.2V850.2M656.5 765.2h27M656.5 850.2h27M682.2 780.1V873.1M668.7 780.1h27M668.7 873.1h27M694.3 802.4V878.7M680.8 802.4h27M680.8 878.7h27M706.5 821.8V893.4M693 821.8h27M693 893.4h27M718.6 837.2V911.1M705.1 837.2h27M705.1 911.1h27M730.8 858.5V945.3M717.3 858.5h27M717.3 945.3h27M742.9 878.4V950.9M729.4 878.4h27M729.4 950.9h27M755.1 899.3V971.6M741.6 899.3h27M741.6 971.6h27M767.2 918V990.8M753.7 918h27M753.7 990.8h27M779.4 933.1V1010.2M765.9 933.1h27M765.9 1010.2h27M791.5 957.5V1033.8M778 957.5h27M778 1033.8h27M803.7 974.9V1051.5M790.2 974.9h27M790.2 1051.5h27M815.8 981.5V1063M802.3 981.5h27M802.3 1063h27M828 1007.6V1076.7M814.5 1007.6h27M814.5 1076.7h27M840.1 1012V1086.8M826.6 1012h27M826.6 1086.8h27M852.3 1029.6V1105.5M838.8 1029.6h27M838.8 1105.5h27M864.4 1044.1V1121.9M850.9 1044.1h27M850.9 1121.9h27M876.6 1059.7V1122.6M863.1 1059.7h27M863.1 1122.6h27M888.7 1061.4V1142.2M875.2 1061.4h27M875.2 1142.2h27M900.9 1074.2V1137.2M887.4 1074.2h27M887.4 1137.2h27M913 1079.8V1163.1M899.5 1079.8h27M899.5 1163.1h27M925.2 1083.5V1159.8M911.7 1083.5h27M911.7 1159.8h27M937.3 1090.3V1169.2M923.8 1090.3h27M923.8 1169.2h27M949.5 1107.7V1174M936 1107.7h27M936 1174h27M961.6 1107.2V1186.1M948.1 1107.2h27M948.1 1186.1h27M973.8 1118.9V1197.6M960.3 1118.9h27M960.3 1197.6h27M985.9 1130.5V1198.5M972.4 1130.5h27M972.4 1198.5h27M998.1 1142V1218M984.6 1142h27M984.6 1218h27M1010.2 1149.7V1223.1M996.7 1149.7h27M996.7 1223.1h27M1022.4 1161.5V1240.3M1008.9 1161.5h27M1008.9 1240.3h27M1034.5 1177.8V1250M1021 1177.8h27M1021 1250h27M1046.7 1186.1V1265.9M1033.2 1186.1h27M1033.2 1265.9h27M1058.8 1200.9V1285.5M1045.3 1200.9h27M1045.3 1285.5h27M1071 1215.7V1303.7M1057.5 1215.7h27M1057.5 1303.7h27M1083.1 1235.8V1318.2M1069.6 1235.8h27M1069.6 1318.2h27M1095.3 1244.3V1329.6M1081.8 1244.3h27M1081.8 1329.6h27M1107.4 1262.3V1340.7M1093.9 1262.3h27M1093.9 1340.7h27M1119.6 1270.4V1342.1M1106.1 1270.4h27M1106.1 1342.1h27M1131.7 1277.2V1374.3M1118.2 1277.2h27M1118.2 1374.3h27M1143.9 1291V1365.1M1130.4 1291h27M1130.4 1365.1h27M1156 1291V1373.5M1142.5 1291h27M1142.5 1373.5h27M1168.2 1291.5V1391.7M1154.7 1291.5h27M1154.7 1391.7h27M1180.4 1302.8V1383.8M1166.9 1302.8h27M1166.9 1383.8h27M1192.5 1308V1400.4M1179 1308h27M1179 1400.4h27M1204.7 1335.1V1414M1191.2 1335.1h27M1191.2 1414h27M1216.8 1326.7V1415.3M1203.3 1326.7h27M1203.3 1415.3h27M1229 1336.8V1441.2M1215.5 1336.8h27M1215.5 1441.2h27M1241.1 1336.4V1415.9M1227.6 1336.4h27M1227.6 1415.9h27M1253.3 1359.5V1454.4M1239.8 1359.5h27M1239.8 1454.4h27M1265.4 1372.6V1548M1251.9 1372.6h27M1251.9 1548h27M1276 1390.3V1579.3M1262.5 1390.3h27M1262.5 1579.3h27M1286.6 1384.4V1587.2M1273.1 1384.4h27M1273.1 1587.2h27M1297.2 1376.9V1648.3M1283.7 1376.9h27M1283.7 1648.3h27M1307.8 1388.5V1626.2M1294.3 1388.5h27M1294.3 1626.2h27M1318.4 1406.7V1626M1304.9 1406.7h27M1304.9 1626h27M1329 1377.9V1633.2M1315.5 1377.9h27M1315.5 1633.2h27M1339.6 1398.8V1586.5M1326.1 1398.8h27M1326.1 1586.5h27M1350.2 1375.1V1613M1336.7 1375.1h27M1336.7 1613h27M1360.8 1392.5V1563.5M1347.3 1392.5h27M1347.3 1563.5h27M1371.4 1370.1V1610.5M1357.9 1370.1h27M1357.9 1610.5h27M1382 1404V1590.8M1368.5 1404h27M1368.5 1590.8h27M1392.6 1398V1597.8M1379.1 1398h27M1379.1 1597.8h27M1403.2 1379.8V1630.8M1389.7 1379.8h27M1389.7 1630.8h27M1413.8 1403.6V1581.3M1400.3 1403.6h27M1400.3 1581.3h27M1424.4 1376.6V1594.2M1410.9 1376.6h27M1410.9 1594.2h27M1435 1365.8V1694.2M1421.5 1365.8h27M1421.5 1694.2h27M1445.6 1375.5V1713M1432.1 1375.5h27M1456.2 1382.2V1680.7M1442.7 1382.2h27M1442.7 1680.7h27M1466.8 1393.7V1713M1453.3 1393.7h27M1477.4 1399V1713M1463.9 1399h27M1488 1378.1V1713M1474.5 1378.1h27M1498.6 1379V1713M1485.1 1379h27M1509.2 1361.9V1713M1495.7 1361.9h27M1519.8 1353.5V1713M1506.3 1353.5h27M1530.4 1376.9V1713M1516.9 1376.9h27M1541 1377.7V1687.2M1527.5 1377.7h27M1527.5 1687.2h27M1551.6 1419.5V1602.6M1538.1 1419.5h27M1538.1 1602.6h27M1562.2 1423.5V1576.1M1548.7 1423.5h27M1548.7 1576.1h27M1572.8 1435.8V1594.9M1559.3 1435.8h27M1559.3 1594.9h27M1583.4 1440.4V1581.2M1569.9 1440.4h27M1569.9 1581.2h27M1594 1438.8V1585.5M1580.5 1438.8h27M1580.5 1585.5h27M1604.6 1449.6V1576.6M1591.1 1449.6h27M1591.1 1576.6h27M1615.2 1446.5V1579.4M1601.7 1446.5h27M1601.7 1579.4h27M1625.8 1434.9V1585.5M1612.3 1434.9h27M1612.3 1585.5h27M1636.4 1420.8V1589.7M1622.9 1420.8h27M1622.9 1589.7h27M1647 1435.2V1571.4M1633.5 1435.2h27M1633.5 1571.4h27M1657.6 1428.8V1564M1644.1 1428.8h27M1644.1 1564h27M1668.2 1431.3V1589.7M1654.7 1431.3h27M1654.7 1589.7h27M1678.8 1428.2V1583.8M1665.3 1428.2h27M1665.3 1583.8h27M1689.4 1425.6V1563.2M1675.9 1425.6h27M1675.9 1563.2h27M1700 1424.6V1595.5M1686.5 1424.6h27M1686.5 1595.5h27M1710.6 1437.9V1588.6M1697.1 1437.9h27M1697.1 1588.6h27M1721.2 1418.9V1553.1M1707.7 1418.9h27M1707.7 1553.1h27M1731.8 1438.1V1564M1718.3 1438.1h27M1718.3 1564h27M1742.4 1429.7V1566.6M1728.9 1429.7h27M1728.9 1566.6h27M1753 1411.5V1578.3M1739.5 1411.5h27M1739.5 1578.3h27M1763.6 1446.7V1583.4M1750.1 1446.7h27M1750.1 1583.4h27M1774.2 1448.6V1641.2M1760.7 1448.6h27M1760.7 1641.2h27M1784.8 1451.6V1713M1771.3 1451.6h27M1795.4 1475.3V1713M1781.9 1475.3h27M1806 1498V1713M1792.5 1498h27M1816.6 1563.1V1713M1803.1 1563.1h27M1827.2 1634.4V1713M1813.7 1634.4h27M1837.8 1636.6V1713M1824.3 1636.6h27M1848.4 1642.1V1713M1834.9 1642.1h27M1859 1656.9V1713M1845.5 1656.9h27M1869.6 1641.9V1713M1856.1 1641.9h27M1880.2 1640.6V1713M1866.7 1640.6h27M1890.8 1640.8V1713M1877.3 1640.8h27" stroke="#008000" stroke-width="5.1" fill="none"/>
<path d="M463.5 465.4L475.6 443.5L487.8 450.7L499.9 475.2L512.1 508.3L524.2 535.6L536.4 565.3L548.5 598.3L560.7 619.7L572.8 637.6L585 653.6L597.1 663.6L609.3 683L621.4 712.8L633.6 734.5L645.7 761.2L657.9 783.3L670 802.3L682.2 820.2L694.3 836.2L706.5 853.7L718.6 870.1L730.8 896.3L742.9 910.7L755.1 931.6L767.2 950.4L779.4 967.2L791.5 991.3L803.7 1008.8L815.8 1017.3L828 1038.6L840.1 1045.2L852.3 1063.3L864.4 1078.5L876.6 1088.2L888.7 1096.9L900.9 1102.7L913 1116.3L925.2 1117.3L937.3 1125.1L949.5 1137.5L961.6 1142L973.8 1153.6L985.9 1161.1L998.1 1175.7L1010.2 1182.4L1022.4 1196.3L1034.5 1210L1046.7 1221.2L1058.8 1237.9L1071 1253.9L1083.1 1272L1095.3 1281.5L1107.4 1297L1119.6 1302.4L1131.7 1318.7L1143.9 1324L1156 1327.2L1168.2 1334.1L1180.4 1338.4L1192.5 1347.9L1204.7 1369.9L1216.8 1365.2L1229 1380.9L1241.1 1371.5L1253.3 1400.2L1265.4 1438.2L1276 1459.3L1286.6 1456.6L1297.2 1462.4L1307.8 1468L1318.4 1482.5L1329 1460.7L1339.6 1467.5L1350.2 1454.7L1360.8 1456.9L1371.4 1450.2L1382 1472.4L1392.6 1469.5L1403.2 1461.9L1413.8 1469.7L1424.4 1452.1L1435 1459.4L1445.6 1474.4L1456.2 1471.9L1466.8 1486.5L1477.4 1499.5L1488 1492.9L1498.6 1480L1509.2 1470L1519.8 1463.2L1530.4 1486.6L1541 1469L1551.6 1487.1L1562.2 1482.9L1572.8 1497L1583.4 1496.3L1594 1496.5L1604.6 1501.3L1615.2 1500L1625.8 1493.7L1636.4 1484.7L1647 1489.7L1657.6 1483.1L1668.2 1492.3L1678.8 1488.4L1689.4 1480.6L1700 1489L1710.6 1496.7L1721.2 1472.8L1731.8 1489.4L1742.4 1484.4L1753 1474.8L1763.6 1501.4L1774.2 1518.4L1784.8 1541.8L1795.4 1573.9L1806 1613.5L1816.6 1663.2L1824.2 1717" stroke="#008000" stroke-width="4.8" fill="none" stroke-linejoin="round"/>
<path d="M463.5 361.5V665.9M450 361.5h27M450 665.9h27M475.6 370.4V626.6M462.1 370.4h27M462.1 626.6h27M487.8 388.9V640.9M474.3 388.9h27M474.3 640.9h27M499.9 413.6V668.8M486.4 413.6h27M486.4 668.8h27M512.1 434.5V741.9M498.6 434.5h27M498.6 741.9h27M524.2 454.1V793.7M510.7 454.1h27M510.7 793.7h27M536.4 480.4V776.1M522.9 480.4h27M522.9 776.1h27M548.5 521.7V683.6M535 521.7h27M535 683.6h27M560.7 560.2V660.4M547.2 560.2h27M547.2 660.4h27M572.8 570.3V697.3M559.3 570.3h27M559.3 697.3h27M585 591.7V718.6M571.5 591.7h27M571.5 718.6h27M597.1 610.7V725.8M583.6 610.7h27M583.6 725.8h27M609.3 633.8V734.4M595.8 633.8h27M595.8 734.4h27M621.4 659.2V768.6M607.9 659.2h27M607.9 768.6h27M633.6 688.7V784.5M620.1 688.7h27M620.1 784.5h27M645.7 713.7V820.6M632.2 713.7h27M632.2 820.6h27M657.9 740.6V837.6M644.4 740.6h27M644.4 837.6h27M670 753V851.7M656.5 753h27M656.5 851.7h27M682.2 777.4V865.6M668.7 777.4h27M668.7 865.6h27M694.3 789.1V872.6M680.8 789.1h27M680.8 872.6h27M706.5 803.4V891.5M693 803.4h27M693 891.5h27M718.6 832.4V914.6M705.1 832.4h27M705.1 914.6h27M730.8 848.8V939.9M717.3 848.8h27M717.3 939.9h27M742.9 866.4V960.5M729.4 866.4h27M729.4 960.5h27M755.1 898.9V971.6M741.6 898.9h27M741.6 971.6h27M767.2 914.7V988.5M753.7 914.7h27M753.7 988.5h27M779.4 931.8V1018M765.9 931.8h27M765.9 1018h27M791.5 944.5V1037.1M778 944.5h27M778 1037.1h27M803.7 966.4V1045.6M790.2 966.4h27M790.2 1045.6h27M815.8 975.7V1069.1M802.3 975.7h27M802.3 1069.1h27M828 991.4V1082.5M814.5 991.4h27M814.5 1082.5h27M840.1 1011.2V1092.5M826.6 1011.2h27M826.6 1092.5h27M852.3 1027.4V1100.4M838.8 1027.4h27M838.8 1100.4h27M864.4 1035.1V1128M850.9 1035.1h27M850.9 1128h27M876.6 1050.6V1132.3M863.1 1050.6h27M863.1 1132.3h27M888.7 1052.7V1140.4M875.2 1052.7h27M875.2 1140.4h27M900.9 1062V1151.5M887.4 1062h27M887.4 1151.5h27M913 1070.9V1151.1M899.5 1070.9h27M899.5 1151.1h27M925.2 1086.1V1155.9M911.7 1086.1h27M911.7 1155.9h27M937.3 1093.2V1160M923.8 1093.2h27M923.8 1160h27M949.5 1096.2V1165.4M936 1096.2h27M936 1165.4h27M961.6 1102.8V1192.2M948.1 1102.8h27M948.1 1192.2h27M973.8 1114.5V1186.7M960.3 1114.5h27M960.3 1186.7h27M985.9 1121.1V1204.5M972.4 1121.1h27M972.4 1204.5h27M998.1 1130.8V1210M984.6 1130.8h27M984.6 1210h27M1010.2 1147.1V1211.9M996.7 1147.1h27M996.7 1211.9h27M1022.4 1144.3V1221.6M1008.9 1144.3h27M1008.9 1221.6h27M1034.5 1160.7V1236.6M1021 1160.7h27M1021 1236.6h27M1046.7 1184.3V1255.1M1033.2 1184.3h27M1033.2 1255.1h27M1058.8 1199.3V1273.2M1045.3 1199.3h27M1045.3 1273.2h27M1071 1215.4V1291.9M1057.5 1215.4h27M1057.5 1291.9h27M1083.1 1233.1V1302.3M1069.6 1233.1h27M1069.6 1302.3h27M1095.3 1245.5V1318.2M1081.8 1245.5h27M1081.8 1318.2h27M1107.4 1253.8V1340.2M1093.9 1253.8h27M1093.9 1340.2h27M1119.6 1260.6V1342.3M1106.1 1260.6h27M1106.1 1342.3h27M1131.7 1263.6V1354.4M1118.2 1263.6h27M1118.2 1354.4h27M1143.9 1268.1V1361.7M1130.4 1268.1h27M1130.4 1361.7h27M1156 1268.2V1370.4M1142.5 1268.2h27M1142.5 1370.4h27M1168.2 1280.6V1379.2M1154.7 1280.6h27M1154.7 1379.2h27M1180.4 1285V1371.2M1166.9 1285h27M1166.9 1371.2h27M1192.5 1286.5V1388.5M1179 1286.5h27M1179 1388.5h27M1204.7 1297.9V1388.5M1191.2 1297.9h27M1191.2 1388.5h27M1216.8 1300.4V1404.3M1203.3 1300.4h27M1203.3 1404.3h27M1229 1313.5V1390.8M1215.5 1313.5h27M1215.5 1390.8h27M1241.1 1311V1416.6M1227.6 1311h27M1227.6 1416.6h27M1253.3 1331.4V1428.4M1239.8 1331.4h27M1239.8 1428.4h27M1265.4 1358.5V1448.8M1251.9 1358.5h27M1251.9 1448.8h27M1276 1366.8V1451.7M1262.5 1366.8h27M1262.5 1451.7h27M1286.6 1358.1V1459.2M1273.1 1358.1h27M1273.1 1459.2h27M1297.2 1366.9V1469M1283.7 1366.9h27M1283.7 1469h27M1307.8 1348.5V1463.1M1294.3 1348.5h27M1294.3 1463.1h27M1318.4 1355.3V1452.2M1304.9 1355.3h27M1304.9 1452.2h27M1329 1352.9V1455.7M1315.5 1352.9h27M1315.5 1455.7h27M1339.6 1359.9V1450.5M1326.1 1359.9h27M1326.1 1450.5h27M1350.2 1363.4V1489.2M1336.7 1363.4h27M1336.7 1489.2h27M1360.8 1365.8V1487.4M1347.3 1365.8h27M1347.3 1487.4h27M1371.4 1366V1485.1M1357.9 1366h27M1357.9 1485.1h27M1382 1365.8V1482.5M1368.5 1365.8h27M1368.5 1482.5h27M1392.6 1371.7V1494.9M1379.1 1371.7h27M1379.1 1494.9h27M1403.2 1367.7V1486.3M1389.7 1367.7h27M1389.7 1486.3h27M1413.8 1373.8V1482.2M1400.3 1373.8h27M1400.3 1482.2h27M1424.4 1396.3V1484.4M1410.9 1396.3h27M1410.9 1484.4h27M1435 1380.4V1479.5M1421.5 1380.4h27M1421.5 1479.5h27M1445.6 1385.4V1475.7M1432.1 1385.4h27M1432.1 1475.7h27M1456.2 1385.7V1505.3M1442.7 1385.7h27M1442.7 1505.3h27M1466.8 1384.2V1485.5M1453.3 1384.2h27M1453.3 1485.5h27M1477.4 1392.4V1482.1M1463.9 1392.4h27M1463.9 1482.1h27M1488 1372.1V1495.1M1474.5 1372.1h27M1474.5 1495.1h27M1498.6 1381.4V1488.2M1485.1 1381.4h27M1485.1 1488.2h27M1509.2 1382.8V1509.1M1495.7 1382.8h27M1495.7 1509.1h27M1519.8 1383.5V1479.1M1506.3 1383.5h27M1506.3 1479.1h27M1530.4 1370.7V1494.7M1516.9 1370.7h27M1516.9 1494.7h27M1541 1391.1V1486.3M1527.5 1391.1h27M1527.5 1486.3h27M1551.6 1397.4V1498.6M1538.1 1397.4h27M1538.1 1498.6h27M1562.2 1405.1V1499.4M1548.7 1405.1h27M1548.7 1499.4h27M1572.8 1405.3V1532.4M1559.3 1405.3h27M1559.3 1532.4h27M1583.4 1401.7V1513.8M1569.9 1401.7h27M1569.9 1513.8h27M1594 1401.7V1524M1580.5 1401.7h27M1580.5 1524h27M1604.6 1413.3V1505.2M1591.1 1413.3h27M1591.1 1505.2h27M1615.2 1426.3V1526M1601.7 1426.3h27M1601.7 1526h27M1625.8 1424.5V1546.3M1612.3 1424.5h27M1612.3 1546.3h27M1636.4 1433.5V1526.4M1622.9 1433.5h27M1622.9 1526.4h27M1647 1424.9V1549.6M1633.5 1424.9h27M1633.5 1549.6h27M1657.6 1434.6V1525.5M1644.1 1434.6h27M1644.1 1525.5h27M1668.2 1429.2V1528.7M1654.7 1429.2h27M1654.7 1528.7h27M1678.8 1438.5V1533.8M1665.3 1438.5h27M1665.3 1533.8h27M1689.4 1426.9V1523.7M1675.9 1426.9h27M1675.9 1523.7h27M1700 1422.9V1541.5M1686.5 1422.9h27M1686.5 1541.5h27M1710.6 1411.7V1526.7M1697.1 1411.7h27M1697.1 1526.7h27M1721.2 1420.1V1533.8M1707.7 1420.1h27M1707.7 1533.8h27M1731.8 1413.3V1516.8M1718.3 1413.3h27M1718.3 1516.8h27M1742.4 1422.9V1543.2M1728.9 1422.9h27M1728.9 1543.2h27M1753 1412.9V1533.6M1739.5 1412.9h27M1739.5 1533.6h27M1763.6 1406.2V1544.5M1750.1 1406.2h27M1750.1 1544.5h27M1774.2 1431.2V1550.3M1760.7 1431.2h27M1760.7 1550.3h27M1784.8 1456.4V1556.2M1771.3 1456.4h27M1771.3 1556.2h27M1795.4 1479.3V1590.8M1781.9 1479.3h27M1781.9 1590.8h27M1806 1484.5V1661.6M1792.5 1484.5h27M1792.5 1661.6h27M1816.6 1503.7V1713M1803.1 1503.7h27M1827.2 1525.1V1713M1813.7 1525.1h27M1837.8 1512.7V1713M1824.3 1512.7h27M1848.4 1499.3V1713M1834.9 1499.3h27M1859 1551.5V1713M1845.5 1551.5h27M1869.6 1486.8V1713M1856.1 1486.8h27M1880.2 1443V1713M1866.7 1443h27M1890.8 1452.5V1713M1877.3 1452.5h27" stroke="#ff8c00" stroke-width="5.1" fill="none"/>
<path d="M463.5 452L475.6 453.4L487.8 471.1L499.9 496.4L512.1 525.4L524.2 549.1L536.4 569.7L548.5 583.7L560.7 602.9L572.8 622L585 643.3L597.1 658.5L609.3 676.6L621.4 705.1L633.6 729.8L645.7 758.7L657.9 782.1L670 795.1L682.2 815.7L694.3 825.6L706.5 841.7L718.6 868.5L730.8 888.2L742.9 906.9L755.1 931.3L767.2 947.5L779.4 969.4L791.5 984.5L803.7 1001.3L815.8 1016L828 1030.8L840.1 1046.9L852.3 1059.9L864.4 1075.2L876.6 1086.5L888.7 1090.8L900.9 1100.8L913 1106.2L925.2 1117.4L937.3 1123.3L949.5 1127.2L961.6 1141.5L973.8 1146.7L985.9 1157.6L998.1 1165.7L1010.2 1176.4L1022.4 1178.5L1034.5 1194.4L1046.7 1216L1058.8 1232.2L1071 1249.3L1083.1 1264.1L1095.3 1277.9L1107.4 1291.4L1119.6 1296.5L1131.7 1302.9L1143.9 1308.4L1156 1311.6L1168.2 1322.7L1180.4 1322.6L1192.5 1329.8L1204.7 1337.1L1216.8 1344.4L1229 1347.7L1241.1 1355.6L1253.3 1372.9L1265.4 1397.6L1276 1403.9L1286.6 1401.1L1297.2 1410.3L1307.8 1396.1L1318.4 1396.8L1329 1396.5L1339.6 1399.1L1350.2 1414.7L1360.8 1415.7L1371.4 1415.1L1382 1414.1L1392.6 1422.1L1403.2 1416.6L1413.8 1419.3L1424.4 1434.6L1435 1422.7L1445.6 1424.5L1456.2 1435L1466.8 1427.3L1477.4 1431.3L1488 1422.5L1498.6 1426.4L1509.2 1434.2L1519.8 1424.5L1530.4 1421.4L1541 1432L1551.6 1440.4L1562.2 1445.6L1572.8 1457L1583.4 1448.5L1594 1451.8L1604.6 1452.9L1615.2 1468.8L1625.8 1474.5L1636.4 1473.5L1647 1475.8L1657.6 1473.9L1668.2 1471.6L1678.8 1479.4L1689.4 1468.4L1700 1471.9L1710.6 1459.5L1721.2 1467.4L1731.8 1457.1L1742.4 1472.4L1753 1462.5L1763.6 1461.4L1774.2 1480.3L1784.8 1498.9L1795.4 1525.9L1806 1550.5L1816.6 1577.7L1827.2 1615.3L1837.8 1630.6L1848.4 1644.5L1859 1673.8L1869.6 1652.9L1880.2 1631.4L1890.8 1614.6" stroke="#ff8c00" stroke-width="4.4" fill="none" stroke-linejoin="round"/>
<path d="M463.5 396V1713M450 396h27M475.6 387V816M462.1 387h27M462.1 816h27M487.8 433.7V717.4M474.3 433.7h27M474.3 717.4h27M499.9 451.9V760.2M486.4 451.9h27M486.4 760.2h27M512.1 491.5V723.5M498.6 491.5h27M498.6 723.5h27M524.2 523.3V701.2M510.7 523.3h27M510.7 701.2h27M536.4 544.9V706.6M522.9 544.9h27M522.9 706.6h27M548.5 565.8V717.8M535 565.8h27M535 717.8h27M560.7 579.1V751.7M547.2 579.1h27M547.2 751.7h27M572.8 602.2V772.5M559.3 602.2h27M559.3 772.5h27M585 623.7V771.6M571.5 623.7h27M571.5 771.6h27M597.1 641.8V792.1M583.6 641.8h27M583.6 792.1h27M609.3 679V796.5M595.8 679h27M595.8 796.5h27M621.4 698.4V850.3M607.9 698.4h27M607.9 850.3h27M633.6 716.3V874.2M620.1 716.3h27M620.1 874.2h27M645.7 743.3V859.8M632.2 743.3h27M632.2 859.8h27M657.9 756.5V887.6M644.4 756.5h27M644.4 887.6h27M670 781.4V907.1M656.5 781.4h27M656.5 907.1h27M682.2 794.4V935M668.7 794.4h27M668.7 935h27M694.3 809.9V952.8M680.8 809.9h27M680.8 952.8h27M706.5 838.8V962.7M693 838.8h27M693 962.7h27M718.6 865.5V975.8M705.1 865.5h27M705.1 975.8h27M730.8 880.3V994.1M717.3 880.3h27M717.3 994.1h27M742.9 901.1V1015.3M729.4 901.1h27M729.4 1015.3h27M755.1 924.4V1048.6M741.6 924.4h27M741.6 1048.6h27M767.2 942.3V1069.7M753.7 942.3h27M753.7 1069.7h27M779.4 959.1V1098.1M765.9 959.1h27M765.9 1098.1h27M791.5 990.1V1102.6M778 990.1h27M778 1102.6h27M803.7 1006.3V1139.4M790.2 1006.3h27M790.2 1139.4h27M815.8 1036V1174.2M802.3 1036h27M802.3 1174.2h27M828 1053.5V1173.7M814.5 1053.5h27M814.5 1173.7h27M840.1 1073.8V1185.4M826.6 1073.8h27M826.6 1185.4h27M852.3 1096.6V1200.6M838.8 1096.6h27M838.8 1200.6h27M864.4 1095.9V1233.9M850.9 1095.9h27M850.9 1233.9h27M876.6 1124.2V1233.2M863.1 1124.2h27M863.1 1233.2h27M888.7 1119.7V1257.5M875.2 1119.7h27M875.2 1257.5h27M900.9 1133.2V1247M887.4 1133.2h27M887.4 1247h27M913 1152.2V1261.7M899.5 1152.2h27M899.5 1261.7h27M925.2 1153.6V1270.5M911.7 1153.6h27M911.7 1270.5h27M937.3 1164.1V1271.1M923.8 1164.1h27M923.8 1271.1h27M949.5 1152.9V1305.5M936 1152.9h27M936 1305.5h27M961.6 1170.9V1309.9M948.1 1170.9h27M948.1 1309.9h27M973.8 1181.2V1296.9M960.3 1181.2h27M960.3 1296.9h27M985.9 1196.9V1312.3M972.4 1196.9h27M972.4 1312.3h27M998.1 1197.5V1347.8M984.6 1197.5h27M984.6 1347.8h27M1010.2 1218V1338.6M996.7 1218h27M996.7 1338.6h27M1022.4 1232.4V1367.2M1008.9 1232.4h27M1008.9 1367.2h27M1034.5 1238.4V1363.4M1021 1238.4h27M1021 1363.4h27M1046.7 1263.6V1372.7M1033.2 1263.6h27M1033.2 1372.7h27M1058.8 1261.4V1402.6M1045.3 1261.4h27M1045.3 1402.6h27M1071 1280.8V1417.2M1057.5 1280.8h27M1057.5 1417.2h27M1083.1 1293.8V1424.2M1069.6 1293.8h27M1069.6 1424.2h27M1095.3 1291.9V1443.3M1081.8 1291.9h27M1081.8 1443.3h27M1107.4 1296.3V1445M1093.9 1296.3h27M1093.9 1445h27M1119.6 1304.2V1430.5M1106.1 1304.2h27M1106.1 1430.5h27M1131.7 1305.7V1443.2M1118.2 1305.7h27M1118.2 1443.2h27M1143.9 1316.5V1436.8M1130.4 1316.5h27M1130.4 1436.8h27M1156 1305.4V1439.8M1142.5 1305.4h27M1142.5 1439.8h27M1168.2 1296.8V1430.8M1154.7 1296.8h27M1154.7 1430.8h27M1180.4 1313.1V1460.4M1166.9 1313.1h27M1166.9 1460.4h27M1192.5 1329.5V1452M1179 1329.5h27M1179 1452h27M1204.7 1334.4V1450.7M1191.2 1334.4h27M1191.2 1450.7h27M1216.8 1345.5V1477.3M1203.3 1345.5h27M1203.3 1477.3h27M1229 1354.1V1468.8M1215.5 1354.1h27M1215.5 1468.8h27M1241.1 1358.2V1485.8M1227.6 1358.2h27M1227.6 1485.8h27M1253.3 1372.1V1542.6M1239.8 1372.1h27M1239.8 1542.6h27M1265.4 1414.3V1557.7M1251.9 1414.3h27M1251.9 1557.7h27M1276 1417.6V1563.2M1262.5 1417.6h27M1262.5 1563.2h27M1286.6 1430.8V1590.5M1273.1 1430.8h27M1273.1 1590.5h27M1297.2 1424V1610.9M1283.7 1424h27M1283.7 1610.9h27M1307.8 1424.2V1561.9M1294.3 1424.2h27M1294.3 1561.9h27M1318.4 1389.3V1551.6M1304.9 1389.3h27M1304.9 1551.6h27M1329 1372.3V1573.2M1315.5 1372.3h27M1315.5 1573.2h27M1339.6 1377.5V1569.6M1326.1 1377.5h27M1326.1 1569.6h27M1350.2 1392V1532.9M1336.7 1392h27M1336.7 1532.9h27M1360.8 1381.8V1535.1M1347.3 1381.8h27M1347.3 1535.1h27M1371.4 1372.2V1519.9M1357.9 1372.2h27M1357.9 1519.9h27M1382 1381.5V1521.5M1368.5 1381.5h27M1368.5 1521.5h27M1392.6 1364V1531.2M1379.1 1364h27M1379.1 1531.2h27M1403.2 1376.7V1524M1389.7 1376.7h27M1389.7 1524h27M1413.8 1380.2V1536.3M1400.3 1380.2h27M1400.3 1536.3h27M1424.4 1380.8V1567.3M1410.9 1380.8h27M1410.9 1567.3h27M1435 1394.3V1547.1M1421.5 1394.3h27M1421.5 1547.1h27M1445.6 1396.1V1587.1M1432.1 1396.1h27M1432.1 1587.1h27M1456.2 1392.5V1558.6M1442.7 1392.5h27M1442.7 1558.6h27M1466.8 1392.9V1548M1453.3 1392.9h27M1453.3 1548h27M1477.4 1374.9V1538.6M1463.9 1374.9h27M1463.9 1538.6h27M1488 1375.1V1518.1M1474.5 1375.1h27M1474.5 1518.1h27M1498.6 1357.8V1543.9M1485.1 1357.8h27M1485.1 1543.9h27M1509.2 1366.4V1567.6M1495.7 1366.4h27M1495.7 1567.6h27M1519.8 1387.6V1549.1M1506.3 1387.6h27M1506.3 1549.1h27M1530.4 1376.7V1588.4M1516.9 1376.7h27M1516.9 1588.4h27M1541 1379.6V1571.7M1527.5 1379.6h27M1527.5 1571.7h27M1551.6 1391.1V1605.1M1538.1 1391.1h27M1538.1 1605.1h27M1562.2 1417.1V1572.9M1548.7 1417.1h27M1548.7 1572.9h27M1572.8 1419.9V1565.1M1559.3 1419.9h27M1559.3 1565.1h27M1583.4 1413.5V1578.8M1569.9 1413.5h27M1569.9 1578.8h27M1594 1411.2V1575M1580.5 1411.2h27M1580.5 1575h27M1604.6 1421.2V1592.3M1591.1 1421.2h27M1591.1 1592.3h27M1615.2 1433.4V1580.1M1601.7 1433.4h27M1601.7 1580.1h27M1625.8 1434V1601.7M1612.3 1434h27M1612.3 1601.7h27M1636.4 1430V1610.8M1622.9 1430h27M1622.9 1610.8h27M1647 1444V1584.3M1633.5 1444h27M1633.5 1584.3h27M1657.6 1440V1601.3M1644.1 1440h27M1644.1 1601.3h27M1668.2 1433.4V1605.1M1654.7 1433.4h27M1654.7 1605.1h27M1678.8 1445.2V1613.9M1665.3 1445.2h27M1665.3 1613.9h27M1689.4 1455.4V1588.6M1675.9 1455.4h27M1675.9 1588.6h27M1700 1447.5V1601.4M1686.5 1447.5h27M1686.5 1601.4h27M1710.6 1445V1600.8M1697.1 1445h27M1697.1 1600.8h27M1721.2 1445.8V1606.8M1707.7 1445.8h27M1707.7 1606.8h27M1731.8 1457.9V1616.3M1718.3 1457.9h27M1718.3 1616.3h27M1742.4 1457.7V1601.4M1728.9 1457.7h27M1728.9 1601.4h27M1753 1446V1594.8M1739.5 1446h27M1739.5 1594.8h27M1763.6 1455.2V1617.3M1750.1 1455.2h27M1750.1 1617.3h27M1774.2 1445.2V1613.3M1760.7 1445.2h27M1760.7 1613.3h27M1784.8 1455.9V1609.9M1771.3 1455.9h27M1771.3 1609.9h27M1795.4 1466.7V1652.9M1781.9 1466.7h27M1781.9 1652.9h27M1806 1469.4V1678.5M1792.5 1469.4h27M1792.5 1678.5h27M1816.6 1472V1713M1803.1 1472h27M1827.2 1507.3V1713M1813.7 1507.3h27M1837.8 1495.2V1713M1824.3 1495.2h27M1848.4 1436.4V1713M1834.9 1436.4h27M1859 1486.7V1713M1845.5 1486.7h27M1869.6 1516.7V1713M1856.1 1516.7h27M1880.2 1459.5V1713M1866.7 1459.5h27M1890.8 1475.1V1713M1877.3 1475.1h27" stroke="#ff0000" stroke-width="5.4" fill="none"/>
<path d="M463.5 523.3L475.6 490.1L487.8 521.3L499.9 543L512.1 570L524.2 589.5L536.4 606.8L548.5 625L560.7 643.9L572.8 666.4L585 681.7L597.1 700.5L609.3 727.6L621.4 757.6L633.6 777.2L645.7 791.6L657.9 809.5L670 832.7L682.2 850.2L694.3 866.5L706.5 889.5L718.6 911.6L730.8 927.6L742.9 948.6L755.1 975.2L767.2 994.1L779.4 1014.5L791.5 1037L803.7 1059.9L815.8 1091.1L828 1103L840.1 1120.4L852.3 1140.6L864.4 1151L876.6 1169.9L888.7 1174.7L900.9 1180.5L913 1198.1L925.2 1201.9L937.3 1209.1L949.5 1212.3L961.6 1226.2L973.8 1229.2L985.9 1244.7L998.1 1256.2L1010.2 1267.6L1022.4 1286.5L1034.5 1289.4L1046.7 1309.4L1058.8 1317.4L1071 1335.4L1083.1 1346.6L1095.3 1351L1107.4 1354.6L1119.6 1355.6L1131.7 1360.6L1143.9 1366L1156 1359.4L1168.2 1350.7L1180.4 1370.9L1192.5 1379.7L1204.7 1382.6L1216.8 1398.7L1229 1401.8L1241.1 1410L1253.3 1436.4L1265.4 1471L1276 1474.9L1286.6 1492.2L1297.2 1492.5L1307.8 1479.2L1318.4 1451.4L1329 1444.1L1339.6 1447.2L1350.2 1448L1360.8 1441.4L1371.4 1430.2L1382 1437.2L1392.6 1427.4L1403.2 1434.5L1413.8 1440.5L1424.4 1449.2L1435 1453.8L1445.6 1465.6L1456.2 1455.6L1466.8 1453L1477.4 1437.4L1488 1431.7L1498.6 1426.1L1509.2 1438.3L1519.8 1449.5L1530.4 1450.9L1541 1449.3L1551.6 1465.8L1562.2 1477.4L1572.8 1477.1L1583.4 1476.4L1594 1473.7L1604.6 1485.7L1615.2 1491.1L1625.8 1497.6L1636.4 1496.9L1647 1499.8L1657.6 1501.8L1668.2 1498L1678.8 1509L1689.4 1509L1700 1507.2L1710.6 1505.3L1721.2 1507.5L1731.8 1518.9L1742.4 1514.5L1753 1504.3L1763.6 1517.3L1774.2 1508.9L1784.8 1515.7L1795.4 1535L1806 1543.1L1816.6 1572.8L1827.2 1625.8L1837.5 1717" stroke="#ff0000" stroke-width="10" fill="none" stroke-linejoin="round"/>
<path d="M452.9 434.7a10.6 10.6 0 1 0 21.2 0a10.6 10.6 0 1 0 -21.2 0zM477.2 479a10.6 10.6 0 1 0 21.2 0a10.6 10.6 0 1 0 -21.2 0zM501.5 520a10.6 10.6 0 1 0 21.2 0a10.6 10.6 0 1 0 -21.2 0zM525.8 547.8a10.6 10.6 0 1 0 21.2 0a10.6 10.6 0 1 0 -21.2 0zM550.1 590.8a10.6 10.6 0 1 0 21.2 0a10.6 10.6 0 1 0 -21.2 0zM574.4 629.3a10.6 10.6 0 1 0 21.2 0a10.6 10.6 0 1 0 -21.2 0zM598.7 676.3a10.6 10.6 0 1 0 21.2 0a10.6 10.6 0 1 0 -21.2 0zM623 721.5a10.6 10.6 0 1 0 21.2 0a10.6 10.6 0 1 0 -21.2 0zM647.3 771a10.6 10.6 0 1 0 21.2 0a10.6 10.6 0 1 0 -21.2 0zM671.6 804a10.6 10.6 0 1 0 21.2 0a10.6 10.6 0 1 0 -21.2 0zM695.9 832.6a10.6 10.6 0 1 0 21.2 0a10.6 10.6 0 1 0 -21.2 0zM720.2 875.1a10.6 10.6 0 1 0 21.2 0a10.6 10.6 0 1 0 -21.2 0zM744.5 915a10.6 10.6 0 1 0 21.2 0a10.6 10.6 0 1 0 -21.2 0zM768.8 949.5a10.6 10.6 0 1 0 21.2 0a10.6 10.6 0 1 0 -21.2 0zM793.1 978.4a10.6 10.6 0 1 0 21.2 0a10.6 10.6 0 1 0 -21.2 0zM817.4 1009.4a10.6 10.6 0 1 0 21.2 0a10.6 10.6 0 1 0 -21.2 0zM841.7 1038.3a10.6 10.6 0 1 0 21.2 0a10.6 10.6 0 1 0 -21.2 0zM866 1063.3a10.6 10.6 0 1 0 21.2 0a10.6 10.6 0 1 0 -21.2 0zM890.3 1080a10.6 10.6 0 1 0 21.2 0a10.6 10.6 0 1 0 -21.2 0zM914.6 1094.7a10.6 10.6 0 1 0 21.2 0a10.6 10.6 0 1 0 -21.2 0zM938.9 1113.3a10.6 10.6 0 1 0 21.2 0a10.6 10.6 0 1 0 -21.2 0zM963.2 1122.5a10.6 10.6 0 1 0 21.2 0a10.6 10.6 0 1 0 -21.2 0zM987.5 1141.5a10.6 10.6 0 1 0 21.2 0a10.6 10.6 0 1 0 -21.2 0zM1011.8 1166.3a10.6 10.6 0 1 0 21.2 0a10.6 10.6 0 1 0 -21.2 0zM1036.1 1186.7a10.6 10.6 0 1 0 21.2 0a10.6 10.6 0 1 0 -21.2 0zM1060.4 1205.5a10.6 10.6 0 1 0 21.2 0a10.6 10.6 0 1 0 -21.2 0zM1084.7 1237.7a10.6 10.6 0 1 0 21.2 0a10.6 10.6 0 1 0 -21.2 0zM1109 1263.1a10.6 10.6 0 1 0 21.2 0a10.6 10.6 0 1 0 -21.2 0zM1133.3 1279a10.6 10.6 0 1 0 21.2 0a10.6 10.6 0 1 0 -21.2 0zM1157.6 1286a10.6 10.6 0 1 0 21.2 0a10.6 10.6 0 1 0 -21.2 0zM1181.9 1295.7a10.6 10.6 0 1 0 21.2 0a10.6 10.6 0 1 0 -21.2 0zM1206.2 1292.1a10.6 10.6 0 1 0 21.2 0a10.6 10.6 0 1 0 -21.2 0zM1230.5 1293.1a10.6 10.6 0 1 0 21.2 0a10.6 10.6 0 1 0 -21.2 0z" stroke="#000" stroke-width="4.6" fill="none"/>
<path d="M1251.4 1326.9a10.6 10.6 0 1 0 21.2 0a10.6 10.6 0 1 0 -21.2 0zM1272.6 1344.1a10.6 10.6 0 1 0 21.2 0a10.6 10.6 0 1 0 -21.2 0zM1293.8 1348.4a10.6 10.6 0 1 0 21.2 0a10.6 10.6 0 1 0 -21.2 0zM1315 1351.6a10.6 10.6 0 1 0 21.2 0a10.6 10.6 0 1 0 -21.2 0zM1336.2 1361.5a10.6 10.6 0 1 0 21.2 0a10.6 10.6 0 1 0 -21.2 0zM1357.4 1363.5a10.6 10.6 0 1 0 21.2 0a10.6 10.6 0 1 0 -21.2 0zM1378.6 1364.3a10.6 10.6 0 1 0 21.2 0a10.6 10.6 0 1 0 -21.2 0zM1399.8 1348.6a10.6 10.6 0 1 0 21.2 0a10.6 10.6 0 1 0 -21.2 0zM1421 1340.5a10.6 10.6 0 1 0 21.2 0a10.6 10.6 0 1 0 -21.2 0zM1442.2 1345.1a10.6 10.6 0 1 0 21.2 0a10.6 10.6 0 1 0 -21.2 0zM1463.4 1352.7a10.6 10.6 0 1 0 21.2 0a10.6 10.6 0 1 0 -21.2 0zM1484.6 1358.8a10.6 10.6 0 1 0 21.2 0a10.6 10.6 0 1 0 -21.2 0zM1505.8 1363.4a10.6 10.6 0 1 0 21.2 0a10.6 10.6 0 1 0 -21.2 0zM1527 1385.1a10.6 10.6 0 1 0 21.2 0a10.6 10.6 0 1 0 -21.2 0zM1548.2 1419.4a10.6 10.6 0 1 0 21.2 0a10.6 10.6 0 1 0 -21.2 0zM1569.4 1427.3a10.6 10.6 0 1 0 21.2 0a10.6 10.6 0 1 0 -21.2 0zM1590.6 1436.3a10.6 10.6 0 1 0 21.2 0a10.6 10.6 0 1 0 -21.2 0zM1611.8 1448.3a10.6 10.6 0 1 0 21.2 0a10.6 10.6 0 1 0 -21.2 0zM1633 1456.6a10.6 10.6 0 1 0 21.2 0a10.6 10.6 0 1 0 -21.2 0zM1654.2 1461.2a10.6 10.6 0 1 0 21.2 0a10.6 10.6 0 1 0 -21.2 0zM1675.4 1460.6a10.6 10.6 0 1 0 21.2 0a10.6 10.6 0 1 0 -21.2 0zM1696.6 1474.8a10.6 10.6 0 1 0 21.2 0a10.6 10.6 0 1 0 -21.2 0zM1717.8 1482.9a10.6 10.6 0 1 0 21.2 0a10.6 10.6 0 1 0 -21.2 0zM1739 1505.5a10.6 10.6 0 1 0 21.2 0a10.6 10.6 0 1 0 -21.2 0zM1760.2 1532.1a10.6 10.6 0 1 0 21.2 0a10.6 10.6 0 1 0 -21.2 0zM1781.4 1582.6a10.6 10.6 0 1 0 21.2 0a10.6 10.6 0 1 0 -21.2 0z" stroke="#000" stroke-width="4.6" fill="none"/>
<path d="M453.2 699.2h20.6v20.6h-20.6zM477.5 602.2h20.6v20.6h-20.6zM501.8 612.8h20.6v20.6h-20.6zM526.1 633h20.6v20.6h-20.6zM550.4 666.9h20.6v20.6h-20.6zM574.7 688.9h20.6v20.6h-20.6zM599 718.7h20.6v20.6h-20.6zM623.3 757.2h20.6v20.6h-20.6zM647.6 792.6h20.6v20.6h-20.6zM671.9 835.3h20.6v20.6h-20.6zM696.2 870h20.6v20.6h-20.6zM720.5 914.3h20.6v20.6h-20.6zM744.8 960.2h20.6v20.6h-20.6zM769.1 998.3h20.6v20.6h-20.6zM793.4 1048h20.6v20.6h-20.6zM817.7 1083.8h20.6v20.6h-20.6zM842 1115.3h20.6v20.6h-20.6zM866.3 1148.8h20.6v20.6h-20.6zM890.6 1169.3h20.6v20.6h-20.6zM914.9 1188.1h20.6v20.6h-20.6zM939.2 1210.3h20.6v20.6h-20.6zM963.5 1227.2h20.6v20.6h-20.6zM987.8 1255.4h20.6v20.6h-20.6zM1012.1 1271.5h20.6v20.6h-20.6zM1036.4 1304.1h20.6v20.6h-20.6zM1060.7 1321.5h20.6v20.6h-20.6zM1085 1341.6h20.6v20.6h-20.6zM1109.3 1352.1h20.6v20.6h-20.6zM1133.6 1354.9h20.6v20.6h-20.6zM1157.9 1353.2h20.6v20.6h-20.6zM1182.2 1366.4h20.6v20.6h-20.6zM1206.5 1370.3h20.6v20.6h-20.6zM1230.8 1390.9h20.6v20.6h-20.6zM1255.1 1402.6h20.6v20.6h-20.6zM1276.3 1393.2h20.6v20.6h-20.6zM1297.5 1399.2h20.6v20.6h-20.6zM1318.7 1407.5h20.6v20.6h-20.6zM1339.9 1418.2h20.6v20.6h-20.6zM1361.1 1403.1h20.6v20.6h-20.6zM1382.3 1407.3h20.6v20.6h-20.6zM1403.5 1413h20.6v20.6h-20.6zM1424.7 1395.7h20.6v20.6h-20.6zM1445.9 1391.7h20.6v20.6h-20.6zM1467.1 1414.3h20.6v20.6h-20.6zM1488.3 1431.2h20.6v20.6h-20.6zM1509.5 1432.3h20.6v20.6h-20.6zM1530.7 1449.2h20.6v20.6h-20.6zM1551.9 1447.3h20.6v20.6h-20.6zM1573.1 1462.1h20.6v20.6h-20.6zM1594.3 1483.8h20.6v20.6h-20.6zM1615.5 1476.5h20.6v20.6h-20.6zM1636.7 1499h20.6v20.6h-20.6zM1657.9 1500.9h20.6v20.6h-20.6zM1679.1 1499.2h20.6v20.6h-20.6zM1700.3 1510.1h20.6v20.6h-20.6zM1721.5 1512.1h20.6v20.6h-20.6zM1742.7 1508.3h20.6v20.6h-20.6zM1763.9 1518.3h20.6v20.6h-20.6zM1785.1 1528.1h20.6v20.6h-20.6zM1806.3 1519.4h20.6v20.6h-20.6zM1827.5 1671.8h20.6v20.6h-20.6z" stroke="#7f00ff" stroke-width="4.6" fill="none"/>
<path d="M463.5 607.5l9.3 9.3l-9.3 9.3l-9.3 -9.3zM487.8 570.7l9.3 9.3l-9.3 9.3l-9.3 -9.3zM512.1 624.7l9.3 9.3l-9.3 9.3l-9.3 -9.3zM536.4 659.3l9.3 9.3l-9.3 9.3l-9.3 -9.3zM560.7 672l9.3 9.3l-9.3 9.3l-9.3 -9.3zM585 702.1l9.3 9.3l-9.3 9.3l-9.3 -9.3zM609.3 729.8l9.3 9.3l-9.3 9.3l-9.3 -9.3zM633.6 761.8l9.3 9.3l-9.3 9.3l-9.3 -9.3zM657.9 798.8l9.3 9.3l-9.3 9.3l-9.3 -9.3zM682.2 838.7l9.3 9.3l-9.3 9.3l-9.3 -9.3zM706.5 871.3l9.3 9.3l-9.3 9.3l-9.3 -9.3zM730.8 921l9.3 9.3l-9.3 9.3l-9.3 -9.3zM755.1 973.6l9.3 9.3l-9.3 9.3l-9.3 -9.3zM779.4 1021.6l9.3 9.3l-9.3 9.3l-9.3 -9.3zM803.7 1066.4l9.3 9.3l-9.3 9.3l-9.3 -9.3zM828 1096.6l9.3 9.3l-9.3 9.3l-9.3 -9.3zM852.3 1139.2l9.3 9.3l-9.3 9.3l-9.3 -9.3zM876.6 1169.9l9.3 9.3l-9.3 9.3l-9.3 -9.3zM900.9 1195.9l9.3 9.3l-9.3 9.3l-9.3 -9.3zM925.2 1222.5l9.3 9.3l-9.3 9.3l-9.3 -9.3zM949.5 1243.9l9.3 9.3l-9.3 9.3l-9.3 -9.3zM973.8 1262.2l9.3 9.3l-9.3 9.3l-9.3 -9.3zM998.1 1285.4l9.3 9.3l-9.3 9.3l-9.3 -9.3zM1022.4 1312.1l9.3 9.3l-9.3 9.3l-9.3 -9.3zM1046.7 1338.3l9.3 9.3l-9.3 9.3l-9.3 -9.3zM1071 1374.2l9.3 9.3l-9.3 9.3l-9.3 -9.3zM1095.3 1386.3l9.3 9.3l-9.3 9.3l-9.3 -9.3zM1119.6 1396.8l9.3 9.3l-9.3 9.3l-9.3 -9.3zM1143.9 1382.2l9.3 9.3l-9.3 9.3l-9.3 -9.3zM1168.2 1388.6l9.3 9.3l-9.3 9.3l-9.3 -9.3zM1192.5 1422.1l9.3 9.3l-9.3 9.3l-9.3 -9.3zM1216.8 1435.2l9.3 9.3l-9.3 9.3l-9.3 -9.3zM1241.1 1431.1l9.3 9.3l-9.3 9.3l-9.3 -9.3zM1265.4 1439.5l9.3 9.3l-9.3 9.3l-9.3 -9.3zM1286.6 1456.6l9.3 9.3l-9.3 9.3l-9.3 -9.3zM1307.8 1473.1l9.3 9.3l-9.3 9.3l-9.3 -9.3zM1329 1497.2l9.3 9.3l-9.3 9.3l-9.3 -9.3zM1350.2 1492.6l9.3 9.3l-9.3 9.3l-9.3 -9.3zM1371.4 1470l9.3 9.3l-9.3 9.3l-9.3 -9.3zM1392.6 1476.5l9.3 9.3l-9.3 9.3l-9.3 -9.3zM1413.8 1462.8l9.3 9.3l-9.3 9.3l-9.3 -9.3zM1435 1500.4l9.3 9.3l-9.3 9.3l-9.3 -9.3zM1456.2 1506.7l9.3 9.3l-9.3 9.3l-9.3 -9.3zM1477.4 1502l9.3 9.3l-9.3 9.3l-9.3 -9.3zM1498.6 1511.2l9.3 9.3l-9.3 9.3l-9.3 -9.3zM1519.8 1492.2l9.3 9.3l-9.3 9.3l-9.3 -9.3zM1541 1503.9l9.3 9.3l-9.3 9.3l-9.3 -9.3zM1562.2 1504.3l9.3 9.3l-9.3 9.3l-9.3 -9.3zM1583.4 1506l9.3 9.3l-9.3 9.3l-9.3 -9.3zM1604.6 1499.2l9.3 9.3l-9.3 9.3l-9.3 -9.3zM1625.8 1520.2l9.3 9.3l-9.3 9.3l-9.3 -9.3zM1647 1551.2l9.3 9.3l-9.3 9.3l-9.3 -9.3zM1668.2 1583.2l9.3 9.3l-9.3 9.3l-9.3 -9.3zM1689.4 1555.5l9.3 9.3l-9.3 9.3l-9.3 -9.3zM1710.6 1536.6l9.3 9.3l-9.3 9.3l-9.3 -9.3zM1731.8 1547.3l9.3 9.3l-9.3 9.3l-9.3 -9.3zM1753 1548.7l9.3 9.3l-9.3 9.3l-9.3 -9.3zM1774.2 1577.4l9.3 9.3l-9.3 9.3l-9.3 -9.3zM1795.4 1635.9l9.3 9.3l-9.3 9.3l-9.3 -9.3zM1816.6 1617.5l9.3 9.3l-9.3 9.3l-9.3 -9.3zM1837.8 1641.5l9.3 9.3l-9.3 9.3l-9.3 -9.3zM1859 1685.9l9.3 9.3l-9.3 9.3l-9.3 -9.3zM1880.2 1699.3l9.3 9.3l-9.3 9.3l-9.3 -9.3z" stroke="#0000e6" stroke-width="4.8" fill="none"/>
<path d="M452.4 454.3l22.3 22.3M452.4 476.5l22.3 -22.3M476.7 439.6l22.3 22.3M476.7 461.8l22.3 -22.3M501 497.2l22.3 22.3M501 519.5l22.3 -22.3M525.3 554.2l22.3 22.3M525.3 576.4l22.3 -22.3M549.6 608.6l22.3 22.3M549.6 630.9l22.3 -22.3M573.9 642.4l22.3 22.3M573.9 664.7l22.3 -22.3M598.2 671.9l22.3 22.3M598.2 694.2l22.3 -22.3M622.5 723.3l22.3 22.3M622.5 745.6l22.3 -22.3M646.8 772.2l22.3 22.3M646.8 794.4l22.3 -22.3M671.1 809.1l22.3 22.3M671.1 831.3l22.3 -22.3M695.4 842.6l22.3 22.3M695.4 864.9l22.3 -22.3M719.7 885.1l22.3 22.3M719.7 907.4l22.3 -22.3M744 920.5l22.3 22.3M744 942.7l22.3 -22.3M768.3 956.1l22.3 22.3M768.3 978.3l22.3 -22.3M792.6 997.7l22.3 22.3M792.6 1019.9l22.3 -22.3M816.9 1027.5l22.3 22.3M816.9 1049.7l22.3 -22.3M841.2 1052.2l22.3 22.3M841.2 1074.4l22.3 -22.3M865.5 1077.1l22.3 22.3M865.5 1099.3l22.3 -22.3M889.8 1091.6l22.3 22.3M889.8 1113.9l22.3 -22.3M914.1 1106.2l22.3 22.3M914.1 1128.4l22.3 -22.3M938.4 1126.4l22.3 22.3M938.4 1148.7l22.3 -22.3M962.7 1142.5l22.3 22.3M962.7 1164.8l22.3 -22.3M987 1164.6l22.3 22.3M987 1186.8l22.3 -22.3M1011.3 1185.1l22.3 22.3M1011.3 1207.4l22.3 -22.3M1035.6 1210.1l22.3 22.3M1035.6 1232.4l22.3 -22.3M1059.9 1242.8l22.3 22.3M1059.9 1265.1l22.3 -22.3M1084.2 1270.4l22.3 22.3M1084.2 1292.7l22.3 -22.3M1108.5 1291.3l22.3 22.3M1108.5 1313.5l22.3 -22.3M1132.8 1312.9l22.3 22.3M1132.8 1335.1l22.3 -22.3M1157.1 1323l22.3 22.3M1157.1 1345.3l22.3 -22.3M1181.4 1336.8l22.3 22.3M1181.4 1359l22.3 -22.3M1205.7 1354l22.3 22.3M1205.7 1376.3l22.3 -22.3M1230 1360.3l22.3 22.3M1230 1382.6l22.3 -22.3M1254.3 1427l22.3 22.3M1254.3 1449.3l22.3 -22.3M1275.5 1445.5l22.3 22.3M1275.5 1467.7l22.3 -22.3M1296.7 1456.9l22.3 22.3M1296.7 1479.2l22.3 -22.3M1317.9 1449.6l22.3 22.3M1317.9 1471.8l22.3 -22.3M1339.1 1443.5l22.3 22.3M1339.1 1465.8l22.3 -22.3M1360.3 1439l22.3 22.3M1360.3 1461.3l22.3 -22.3M1381.5 1458.4l22.3 22.3M1381.5 1480.7l22.3 -22.3M1402.7 1458.6l22.3 22.3M1402.7 1480.9l22.3 -22.3M1423.9 1448.3l22.3 22.3M1423.9 1470.5l22.3 -22.3M1445.1 1460.8l22.3 22.3M1445.1 1483l22.3 -22.3M1466.3 1488.4l22.3 22.3M1466.3 1510.6l22.3 -22.3M1487.5 1468.9l22.3 22.3M1487.5 1491.2l22.3 -22.3M1508.7 1452l22.3 22.3M1508.7 1474.3l22.3 -22.3M1529.9 1457.8l22.3 22.3M1529.9 1480.1l22.3 -22.3M1551.1 1471.7l22.3 22.3M1551.1 1494l22.3 -22.3M1572.3 1485.2l22.3 22.3M1572.3 1507.5l22.3 -22.3M1593.5 1490.2l22.3 22.3M1593.5 1512.4l22.3 -22.3M1614.7 1482.6l22.3 22.3M1614.7 1504.8l22.3 -22.3M1635.9 1478.6l22.3 22.3M1635.9 1500.9l22.3 -22.3M1657.1 1481.2l22.3 22.3M1657.1 1503.4l22.3 -22.3M1678.3 1469.4l22.3 22.3M1678.3 1491.7l22.3 -22.3M1699.5 1485.6l22.3 22.3M1699.5 1507.9l22.3 -22.3M1720.7 1478.3l22.3 22.3M1720.7 1500.6l22.3 -22.3M1741.9 1463.6l22.3 22.3M1741.9 1485.9l22.3 -22.3M1763.1 1507.3l22.3 22.3M1763.1 1529.6l22.3 -22.3M1784.3 1562.8l22.3 22.3M1784.3 1585l22.3 -22.3M1805.5 1652.1l22.3 22.3M1805.5 1674.3l22.3 -22.3" stroke="#008000" stroke-width="4.6" fill="none"/>
<path d="M452.9 531.8h21.2l-10.6 -18.6zM477.2 529.7h21.2l-10.6 -18.6zM501.5 578.4h21.2l-10.6 -18.6zM525.8 615.3h21.2l-10.6 -18.6zM550.1 652.4h21.2l-10.6 -18.6zM574.4 690.2h21.2l-10.6 -18.6zM598.7 736.1h21.2l-10.6 -18.6zM623 785.7h21.2l-10.6 -18.6zM647.3 818h21.2l-10.6 -18.6zM671.6 858.7h21.2l-10.6 -18.6zM695.9 897.9h21.2l-10.6 -18.6zM720.2 936.1h21.2l-10.6 -18.6zM744.5 983.7h21.2l-10.6 -18.6zM768.8 1023h21.2l-10.6 -18.6zM793.1 1068.3h21.2l-10.6 -18.6zM817.4 1111.4h21.2l-10.6 -18.6zM841.7 1149.1h21.2l-10.6 -18.6zM866 1178.4h21.2l-10.6 -18.6zM890.3 1189h21.2l-10.6 -18.6zM914.6 1210.4h21.2l-10.6 -18.6zM938.9 1220.8h21.2l-10.6 -18.6zM963.2 1237.7h21.2l-10.6 -18.6zM987.5 1264.7h21.2l-10.6 -18.6zM1011.8 1295h21.2l-10.6 -18.6zM1036.1 1317.8h21.2l-10.6 -18.6zM1060.4 1343.9h21.2l-10.6 -18.6zM1084.7 1359.4h21.2l-10.6 -18.6zM1109 1364.1h21.2l-10.6 -18.6zM1133.3 1374.5h21.2l-10.6 -18.6zM1157.6 1359.2h21.2l-10.6 -18.6zM1181.9 1388.2h21.2l-10.6 -18.6zM1206.2 1407.2h21.2l-10.6 -18.6zM1230.5 1418.5h21.2l-10.6 -18.6zM1254.8 1479.4h21.2l-10.6 -18.6zM1276 1500.6h21.2l-10.6 -18.6zM1297.2 1487.7h21.2l-10.6 -18.6zM1318.4 1452.5h21.2l-10.6 -18.6zM1339.6 1456.5h21.2l-10.6 -18.6zM1360.8 1438.7h21.2l-10.6 -18.6zM1382 1435.9h21.2l-10.6 -18.6zM1403.2 1449h21.2l-10.6 -18.6zM1424.4 1462.2h21.2l-10.6 -18.6zM1445.6 1464.1h21.2l-10.6 -18.6zM1466.8 1445.8h21.2l-10.6 -18.6zM1488 1434.6h21.2l-10.6 -18.6zM1509.2 1458h21.2l-10.6 -18.6zM1530.4 1457.8h21.2l-10.6 -18.6zM1551.6 1485.9h21.2l-10.6 -18.6zM1572.8 1484.9h21.2l-10.6 -18.6zM1594 1494.2h21.2l-10.6 -18.6zM1615.2 1506.1h21.2l-10.6 -18.6zM1636.4 1508.3h21.2l-10.6 -18.6zM1657.6 1506.5h21.2l-10.6 -18.6zM1678.8 1517.5h21.2l-10.6 -18.6zM1700 1513.8h21.2l-10.6 -18.6zM1721.2 1527.4h21.2l-10.6 -18.6zM1742.4 1512.8h21.2l-10.6 -18.6zM1763.6 1517.4h21.2l-10.6 -18.6zM1784.8 1543.5h21.2l-10.6 -18.6zM1806 1581.3h21.2l-10.6 -18.6zM1827.2 1728.4h21.2l-10.6 -18.6z" stroke="#ff0000" stroke-width="4.6" fill="none"/>
<path d="M453.1 443.7h20.8l-10.4 18.2zM477.4 462.8h20.8l-10.4 18.2zM501.7 517.1h20.8l-10.4 18.2zM526 561.4h20.8l-10.4 18.2zM550.3 594.6h20.8l-10.4 18.2zM574.6 635h20.8l-10.4 18.2zM598.9 668.3h20.8l-10.4 18.2zM623.2 721.5h20.8l-10.4 18.2zM647.5 773.8h20.8l-10.4 18.2zM671.8 807.4h20.8l-10.4 18.2zM696.1 833.4h20.8l-10.4 18.2zM720.4 879.9h20.8l-10.4 18.2zM744.7 923h20.8l-10.4 18.2zM769 961.1h20.8l-10.4 18.2zM793.3 993h20.8l-10.4 18.2zM817.6 1022.5h20.8l-10.4 18.2zM841.9 1051.6h20.8l-10.4 18.2zM866.2 1078.1h20.8l-10.4 18.2zM890.5 1092.5h20.8l-10.4 18.2zM914.8 1109h20.8l-10.4 18.2zM939.1 1118.9h20.8l-10.4 18.2zM963.4 1138.4h20.8l-10.4 18.2zM987.7 1157.4h20.8l-10.4 18.2zM1012 1170.2h20.8l-10.4 18.2zM1036.3 1207.7h20.8l-10.4 18.2zM1060.6 1241h20.8l-10.4 18.2zM1084.9 1269.6h20.8l-10.4 18.2zM1109.2 1288.2h20.8l-10.4 18.2zM1133.5 1300.1h20.8l-10.4 18.2zM1157.8 1314.4h20.8l-10.4 18.2zM1182.1 1321.5h20.8l-10.4 18.2zM1206.4 1336.1h20.8l-10.4 18.2zM1230.7 1347.3h20.8l-10.4 18.2zM1255 1389.3h20.8l-10.4 18.2zM1276.2 1392.8h20.8l-10.4 18.2zM1297.4 1387.8h20.8l-10.4 18.2zM1318.6 1388.2h20.8l-10.4 18.2zM1339.8 1406.4h20.8l-10.4 18.2zM1361 1406.8h20.8l-10.4 18.2zM1382.2 1413.8h20.8l-10.4 18.2zM1403.4 1411h20.8l-10.4 18.2zM1424.6 1414.4h20.8l-10.4 18.2zM1445.8 1426.7h20.8l-10.4 18.2zM1467 1423h20.8l-10.4 18.2zM1488.2 1418h20.8l-10.4 18.2zM1509.4 1416.2h20.8l-10.4 18.2zM1530.6 1423.7h20.8l-10.4 18.2zM1551.8 1437.3h20.8l-10.4 18.2zM1573 1440.2h20.8l-10.4 18.2zM1594.2 1444.6h20.8l-10.4 18.2zM1615.4 1466.2h20.8l-10.4 18.2zM1636.6 1467.5h20.8l-10.4 18.2zM1657.8 1463.3h20.8l-10.4 18.2zM1679 1460.1h20.8l-10.4 18.2zM1700.2 1451.2h20.8l-10.4 18.2zM1721.4 1448.8h20.8l-10.4 18.2zM1742.6 1454.2h20.8l-10.4 18.2zM1763.8 1472h20.8l-10.4 18.2zM1785 1517.6h20.8l-10.4 18.2zM1806.2 1569.4h20.8l-10.4 18.2zM1827.4 1622.3h20.8l-10.4 18.2zM1848.6 1665.5h20.8l-10.4 18.2zM1869.8 1623.1h20.8l-10.4 18.2z" stroke="#ff8c00" stroke-width="4" fill="#fff"/>
<path d="M477.5 755V1713" stroke="#0000e6" stroke-width="10"/>
<path d="M1317 1718h26M1519 1718h26" stroke="#0000e6" stroke-width="5"/>
<path d="M1899 1420V1560" stroke="#ff8c00" stroke-width="5"/>
</g>
</g>
<path d="M1260 180.6H357.4V1713H1896.2" fill="none" stroke="#000" stroke-width="5.6" stroke-linecap="square"/>
<path d="M415.7 1713v-18M460.7 1713v-18M498.8 1713v-18M531.8 1713v-18M560.9 1713v-18M586.9 1713v-34M758.1 1713v-18M858.2 1713v-18M929.3 1713v-18M984.4 1713v-18M1029.4 1713v-18M1067.5 1713v-18M1100.5 1713v-18M1129.6 1713v-18M1155.6 1713v-34M1326.8 1713v-18M1426.9 1713v-18M1498 1713v-18M1553.1 1713v-18M1598.1 1713v-18M1636.2 1713v-18M1669.2 1713v-18M1698.3 1713v-18M1724.3 1713v-34M415.7 180.6v18M460.7 180.6v18M498.8 180.6v18M531.8 180.6v18M560.9 180.6v18M586.9 180.6v34M758.1 180.6v18M858.2 180.6v18M929.3 180.6v18M984.4 180.6v18M1029.4 180.6v18M1067.5 180.6v18M1100.5 180.6v18M1129.6 180.6v18M1155.6 180.6v34M357.4 1690.4h19M357.4 1670.8h19M357.4 1653.3h35M357.4 1538h19M357.4 1470.6h19M357.4 1422.8h19M357.4 1385.7h19M357.4 1355.3h19M357.4 1329.7h19M357.4 1307.5h19M357.4 1287.9h19M357.4 1270.4h35M357.4 1155.1h19M357.4 1087.7h19M357.4 1039.9h19M357.4 1002.8h19M357.4 972.4h19M357.4 946.8h19M357.4 924.6h19M357.4 905h19M357.4 887.5h35M357.4 772.2h19M357.4 704.8h19M357.4 657h19M357.4 619.9h19M357.4 589.5h19M357.4 563.9h19M357.4 541.7h19M357.4 522.1h19M357.4 504.6h35M357.4 389.3h19M357.4 321.9h19M357.4 274.1h19M357.4 237h19M357.4 206.6h19M357.4 181h19" stroke="#000" stroke-width="5" fill="none"/>
<text x="315" y="521.5" font-size="75" text-anchor="end">10<tspan font-size="52.5" dy="-32.2">-1</tspan></text>
<text x="315" y="901" font-size="75" text-anchor="end">10<tspan font-size="52.5" dy="-32.2">-2</tspan></text>
<text x="315" y="1285.8" font-size="75" text-anchor="end">10<tspan font-size="52.5" dy="-32.2">-3</tspan></text>
<text x="315" y="1669" font-size="75" text-anchor="end">10<tspan font-size="52.5" dy="-32.2">-4</tspan></text>
<text transform="translate(149 1108.5) rotate(-90)" font-size="98" style="white-space:pre"><tspan font-style="italic">I</tspan>(<tspan font-style="italic">q</tspan>)  <tspan dx="15.5">(cm</tspan><tspan font-size="68" dy="-58">-1</tspan><tspan dy="58" dx="1">)</tspan></text>
<text x="544" y="367" font-size="131">A</text>
<g>
<path d="M698.5 324H880.5" stroke="#000" stroke-width="10.5"/>
<path d="M785.7 324a9.3 9.3 0 1 0 18.6 0a9.3 9.3 0 1 0 -18.6 0z" stroke="#000" stroke-width="4.5" fill="none"/>
<path d="M698.5 404.5H880.5" stroke="#7f00ff" stroke-width="4.5"/>
<path d="M784.9 394.4h20.3v20.3h-20.3z" stroke="#7f00ff" stroke-width="4.5" fill="none"/>
<path d="M698.5 485H880.5" stroke="#0000e6" stroke-width="4.5"/>
<path d="M795 476.7l8.3 8.3l-8.3 8.3l-8.3 -8.3z" stroke="#0000e6" stroke-width="4.5" fill="none"/>
<path d="M698.5 565H880.5" stroke="#008000" stroke-width="5"/>
<path d="M783.6 553.6l22.7 22.7M783.6 576.4l22.7 -22.7" stroke="#008000" stroke-width="4.5" fill="none"/>
<path d="M698.5 644.5H880.5" stroke="#ff8c00" stroke-width="4.5"/>
<path d="M785.5 636.9h19l-9.5 16.6z" stroke="#ff8c00" stroke-width="4.5" fill="none"/>
<path d="M698.5 725H880.5" stroke="#ff0000" stroke-width="10.5"/>
<path d="M783.6 737.1h22.8l-11.4 -19.9z" stroke="#ff0000" stroke-width="4.5" fill="none"/>
<text x="924" y="303" font-size="75">time (hr)</text>
<text x="922.5" y="377" font-size="75">0.5</text>
<text x="922.5" y="452" font-size="75">2.7</text>
<text x="922.5" y="527" font-size="75">4.9</text>
<text x="922.5" y="601.5" font-size="75">9.6</text>
<text x="922.5" y="676.5" font-size="75">14.9</text>
<text x="922.5" y="751.5" font-size="75">36.6</text>
</g>
</g>
<rect x="1227.5" y="0" width="1118.5" height="1202" fill="#fff"/>
<path d="M1896.6 1202V1715.8" stroke="#000" stroke-width="4.6"/>
<path d="M1896.2 1690.4h-19M1896.2 1670.8h-19M1896.2 1653.3h-36M1896.2 1538h-19M1896.2 1470.6h-19M1896.2 1422.8h-19M1896.2 1385.7h-19M1896.2 1355.3h-19M1896.2 1329.7h-19M1896.2 1307.5h-19M1896.2 1287.9h-19M1896.2 1270.4h-36" stroke="#000" stroke-width="4" fill="none"/>
<g id="inset">
<g id="dataI">
<path d="M1452 223.6V230.2M1444 223.6h16M1444 230.2h16M1464.5 237.8V244.7M1456.5 237.8h16M1456.5 244.7h16M1477 249.8V256.8M1469 249.8h16M1469 256.8h16M1489.5 255.6V261.8M1481.5 255.6h16M1481.5 261.8h16M1502 279.4V286M1494 279.4h16M1494 286h16M1514.5 296.3V301.9M1506.5 296.3h16M1506.5 301.9h16M1527 308.6V314.5M1519 308.6h16M1519 314.5h16M1539.5 326V332.6M1531.5 326h16M1531.5 332.6h16M1552 337.7V343.6M1544 337.7h16M1544 343.6h16M1564.5 356.9V364.3M1556.5 356.9h16M1556.5 364.3h16M1577 379.9V385.8M1569 379.9h16M1569 385.8h16M1589.5 397.4V403.3M1581.5 397.4h16M1581.5 403.3h16M1602 412.7V418.6M1594 412.7h16M1594 418.6h16M1614.5 421.8V429.3M1606.5 421.8h16M1606.5 429.3h16M1627 437.1V443.3M1619 437.1h16M1619 443.3h16M1639.5 457.1V464.8M1631.5 457.1h16M1631.5 464.8h16M1652 462V469.9M1644 462h16M1644 469.9h16M1664.5 477.4V484.8M1656.5 477.4h16M1656.5 484.8h16M1677 485.9V493.9M1669 485.9h16M1669 493.9h16M1689.5 503.6V511.7M1681.5 503.6h16M1681.5 511.7h16M1702 519.8V526.5M1694 519.8h16M1694 526.5h16M1714.5 527.4V533.8M1706.5 527.4h16M1706.5 533.8h16M1727 538.4V544.6M1719 538.4h16M1719 544.6h16M1739.5 552.8V560.3M1731.5 552.8h16M1731.5 560.3h16M1752 562.6V570.4M1744 562.6h16M1744 570.4h16M1764.5 584.8V591.8M1756.5 584.8h16M1756.5 591.8h16M1777 608V615.4M1769 608h16M1769 615.4h16M1789.5 620.3V627.8M1781.5 620.3h16M1781.5 627.8h16M1802 643.2V649.8M1794 643.2h16M1794 649.8h16M1814.5 664.5V671M1806.5 664.5h16M1806.5 671h16M1827 680.5V689M1819 680.5h16M1819 689h16M1839.5 691.7V700.1M1831.5 691.7h16M1831.5 700.1h16M1852 715.5V723.4M1844 715.5h16M1844 723.4h16M1864.5 731.4V738.2M1856.5 731.4h16M1856.5 738.2h16M1877 752.5V761.5M1869 752.5h16M1869 761.5h16M1889.5 778V786.5M1881.5 778h16M1881.5 786.5h16M1902 811.5V820.6M1894 811.5h16M1894 820.6h16M1914.5 830.5V838.1M1906.5 830.5h16M1906.5 838.1h16M1927 858.7V867.5M1919 858.7h16M1919 867.5h16M1939.5 880.3V889.1M1931.5 880.3h16M1931.5 889.1h16M1952 909.1V918.6M1944 909.1h16M1944 918.6h16M1964.5 915V927.7M1956.5 915h16M1956.5 927.7h16M1975.5 925V937.9M1967.5 925h16M1967.5 937.9h16M1986.5 935.1V953.2M1978.5 935.1h16M1978.5 953.2h16M1997.5 937.1V958M1989.5 937.1h16M1989.5 958h16M2008.5 943.7V961.6M2000.5 943.7h16M2000.5 961.6h16M2019.5 943.6V960.9M2011.5 943.6h16M2011.5 960.9h16M2030.5 943.1V960.4M2022.5 943.1h16M2022.5 960.4h16M2041.5 949.5V972.2M2033.5 949.5h16M2033.5 972.2h16M2052.5 948.5V965.5M2044.5 948.5h16M2044.5 965.5h16M2063.5 958V978.2M2055.5 958h16M2055.5 978.2h16M2074.5 954.7V973.2M2066.5 954.7h16M2066.5 973.2h16M2085.5 956.1V978.5M2077.5 956.1h16M2077.5 978.5h16M2096.5 956.6V976.6M2088.5 956.6h16M2088.5 976.6h16M2107.5 951.9V975.4M2099.5 951.9h16M2099.5 975.4h16M2118.5 953.8V974.6M2110.5 953.8h16M2110.5 974.6h16M2129.5 963.5V982.2M2121.5 963.5h16M2121.5 982.2h16M2140.5 960.8V985.1M2132.5 960.8h16M2132.5 985.1h16M2151.5 961V984.5M2143.5 961h16M2143.5 984.5h16M2162.5 958.2V979.4M2154.5 958.2h16M2154.5 979.4h16M2173.5 958.4V982.6M2165.5 958.4h16M2165.5 982.6h16M2184.5 962V983.7M2176.5 962h16M2176.5 983.7h16M2195.5 968.2V992.9M2187.5 968.2h16M2187.5 992.9h16M2206.5 970.2V992.2M2198.5 970.2h16M2198.5 992.2h16M2217.5 966.1V990.3M2209.5 966.1h16M2209.5 990.3h16M2228.5 968.4V989.7M2220.5 968.4h16M2220.5 989.7h16M2239.5 972.8V993.2M2231.5 972.8h16M2231.5 993.2h16M2250.5 976.1V1002.9M2242.5 976.1h16M2242.5 1002.9h16M2261.5 988.5V1004.4M2253.5 988.5h16" stroke="#000" stroke-width="4.2" fill="none"/>
<path d="M1452 226.8L1464.5 241.2L1477 253.3L1489.5 258.7L1502 282.6L1514.5 299.1L1527 311.5L1539.5 329.2L1552 340.6L1564.5 360.5L1577 382.8L1589.5 400.3L1602 415.6L1614.5 425.5L1627 440.1L1639.5 460.9L1652 465.9L1664.5 481L1677 489.8L1689.5 507.6L1702 523.1L1714.5 530.5L1727 541.5L1739.5 556.5L1752 566.4L1764.5 588.2L1777 611.7L1789.5 624L1802 646.5L1814.5 667.7L1827 684.7L1839.5 695.8L1852 719.4L1864.5 734.8L1877 756.9L1889.5 782.2L1902 815.9L1914.5 834.2L1927 863L1939.5 884.6L1952 913.8L1964.5 921.1L1975.5 931.2L1986.5 943.7L1997.5 947L2008.5 952.3L2019.5 951.8L2030.5 951.4L2041.5 960.2L2052.5 956.6L2063.5 967.5L2074.5 963.5L2085.5 966.6L2096.5 966.1L2107.5 962.9L2118.5 963.6L2129.5 972.4L2140.5 972.2L2151.5 972L2162.5 968.2L2173.5 969.8L2184.5 972.3L2195.5 979.7L2206.5 980.6L2217.5 977.4L2228.5 978.5L2239.5 982.5L2250.5 988.6L2261.5 999.9" stroke="#000" stroke-width="4.4" fill="none" stroke-linejoin="round"/>
<path d="M1456 215.7V221.6M1448 215.7h16M1448 221.6h16M1472.5 228.3V234M1464.5 228.3h16M1464.5 234h16M1489 251.3V258.3M1481 251.3h16M1481 258.3h16M1505.5 265.3V272.2M1497.5 265.3h16M1497.5 272.2h16M1522 291.9V298.6M1514 291.9h16M1514 298.6h16M1538.5 312.9V319.9M1530.5 312.9h16M1530.5 319.9h16M1555 332.1V339M1547 332.1h16M1547 339h16M1571.5 354.1V360.6M1563.5 354.1h16M1563.5 360.6h16M1588 381.6V388.7M1580 381.6h16M1580 388.7h16M1604.5 399V406.6M1596.5 399h16M1596.5 406.6h16M1621 424.5V431.4M1613 424.5h16M1613 431.4h16M1637.5 434.1V441M1629.5 434.1h16M1629.5 441h16M1654 452.9V460.2M1646 452.9h16M1646 460.2h16M1670.5 471.4V479.1M1662.5 471.4h16M1662.5 479.1h16M1687 489.9V497.6M1679 489.9h16M1679 497.6h16M1703.5 503.7V511.2M1695.5 503.7h16M1695.5 511.2h16M1720 525.4V533.3M1712 525.4h16M1712 533.3h16M1736.5 538.6V546.6M1728.5 538.6h16M1728.5 546.6h16M1753 562.1V569.9M1745 562.1h16M1745 569.9h16M1769.5 585.3V593.7M1761.5 585.3h16M1761.5 593.7h16M1786 604.3V611.9M1778 604.3h16M1778 611.9h16M1802.5 623.7V632.1M1794.5 623.7h16M1794.5 632.1h16M1819 656.8V664.3M1811 656.8h16M1811 664.3h16M1835.5 679.5V687.7M1827.5 679.5h16M1827.5 687.7h16M1852 706.3V713.3M1844 706.3h16M1844 713.3h16M1868.5 732.3V740.3M1860.5 732.3h16M1860.5 740.3h16M1885 758.8V766.5M1877 758.8h16M1877 766.5h16M1901.5 791.1V799.7M1893.5 791.1h16M1893.5 799.7h16M1918 824.4V833M1910 824.4h16M1910 833h16M1934.5 852.8V860.1M1926.5 852.8h16M1926.5 860.1h16M1951 891.3V900.1M1943 891.3h16M1943 900.1h16M1967.5 908.6V921.2M1959.5 908.6h16M1959.5 921.2h16M1978.5 924.5V936.7M1970.5 924.5h16M1970.5 936.7h16M1989.5 927.6V942.8M1981.5 927.6h16M1981.5 942.8h16M2000.5 928.6V945.3M1992.5 928.6h16M1992.5 945.3h16M2011.5 935.1V952.3M2003.5 935.1h16M2003.5 952.3h16M2022.5 936.2V952.7M2014.5 936.2h16M2014.5 952.7h16M2033.5 940.3V959.1M2025.5 940.3h16M2025.5 959.1h16M2044.5 943.4V963.6M2036.5 943.4h16M2036.5 963.6h16M2055.5 940.5V962.9M2047.5 940.5h16M2047.5 962.9h16M2066.5 941.5V960.9M2058.5 941.5h16M2058.5 960.9h16M2077.5 946.5V966.1M2069.5 946.5h16M2069.5 966.1h16M2088.5 944.9V967.5M2080.5 944.9h16M2080.5 967.5h16M2099.5 950.7V968.3M2091.5 950.7h16M2091.5 968.3h16M2110.5 953.7V971.8M2102.5 953.7h16M2102.5 971.8h16M2121.5 953.1V973M2113.5 953.1h16M2113.5 973h16M2132.5 952.4V976.6M2124.5 952.4h16M2124.5 976.6h16M2143.5 957V977.8M2135.5 957h16M2135.5 977.8h16M2154.5 957V979.5M2146.5 957h16M2146.5 979.5h16M2165.5 955.3V974.5M2157.5 955.3h16M2157.5 974.5h16M2176.5 957.2V979.5M2168.5 957.2h16M2168.5 979.5h16M2187.5 960.2V985.6M2179.5 960.2h16M2179.5 985.6h16M2198.5 960V981.2M2190.5 960h16M2190.5 981.2h16M2209.5 964.7V983.5M2201.5 964.7h16M2201.5 983.5h16M2220.5 957.1V980.2M2212.5 957.1h16M2212.5 980.2h16M2231.5 963.9V984M2223.5 963.9h16M2223.5 984h16M2242.5 965.2V991M2234.5 965.2h16M2234.5 991h16M2253.5 970.8V993.4M2245.5 970.8h16M2245.5 993.4h16M2264.5 976.2V998M2256.5 976.2h16M2256.5 998h16" stroke="#ff0000" stroke-width="4.2" fill="none"/>
<path d="M1456 218.6L1472.5 231.1L1489 254.8L1505.5 268.7L1522 295.2L1538.5 316.3L1555 335.5L1571.5 357.3L1588 385.1L1604.5 402.7L1621 427.9L1637.5 437.5L1654 456.5L1670.5 475.2L1687 493.6L1703.5 507.4L1720 529.2L1736.5 542.5L1753 565.9L1769.5 589.4L1786 608L1802.5 627.8L1819 660.5L1835.5 683.5L1852 709.8L1868.5 736.2L1885 762.6L1901.5 795.3L1918 828.6L1934.5 856.4L1951 895.6L1967.5 914.7L1978.5 930.4L1989.5 934.9L2000.5 936.6L2011.5 943.3L2022.5 944.1L2033.5 949.2L2044.5 953L2055.5 951.1L2066.5 950.7L2077.5 955.8L2088.5 955.6L2099.5 959.1L2110.5 962.4L2121.5 962.5L2132.5 963.7L2143.5 966.8L2154.5 967.6L2165.5 964.5L2176.5 967.7L2187.5 972.1L2198.5 970L2209.5 973.6L2220.5 967.9L2231.5 973.4L2242.5 977.2L2253.5 981.4L2264.5 986.5" stroke="#ff0000" stroke-width="3" fill="none" stroke-linejoin="round" stroke-dasharray="14 10"/>
<path d="M1439.5 226.8a12.5 12.5 0 1 0 25 0a12.5 12.5 0 1 0 -25 0zM1464.5 253.3a12.5 12.5 0 1 0 25 0a12.5 12.5 0 1 0 -25 0zM1489.5 282.6a12.5 12.5 0 1 0 25 0a12.5 12.5 0 1 0 -25 0zM1514.5 311.5a12.5 12.5 0 1 0 25 0a12.5 12.5 0 1 0 -25 0zM1539.5 340.6a12.5 12.5 0 1 0 25 0a12.5 12.5 0 1 0 -25 0zM1564.5 382.8a12.5 12.5 0 1 0 25 0a12.5 12.5 0 1 0 -25 0zM1589.5 415.6a12.5 12.5 0 1 0 25 0a12.5 12.5 0 1 0 -25 0zM1614.5 440.1a12.5 12.5 0 1 0 25 0a12.5 12.5 0 1 0 -25 0zM1639.5 465.9a12.5 12.5 0 1 0 25 0a12.5 12.5 0 1 0 -25 0zM1664.5 489.8a12.5 12.5 0 1 0 25 0a12.5 12.5 0 1 0 -25 0zM1689.5 523.1a12.5 12.5 0 1 0 25 0a12.5 12.5 0 1 0 -25 0zM1714.5 541.5a12.5 12.5 0 1 0 25 0a12.5 12.5 0 1 0 -25 0zM1739.5 566.4a12.5 12.5 0 1 0 25 0a12.5 12.5 0 1 0 -25 0zM1764.5 611.7a12.5 12.5 0 1 0 25 0a12.5 12.5 0 1 0 -25 0zM1789.5 646.5a12.5 12.5 0 1 0 25 0a12.5 12.5 0 1 0 -25 0zM1814.5 684.7a12.5 12.5 0 1 0 25 0a12.5 12.5 0 1 0 -25 0zM1839.5 719.4a12.5 12.5 0 1 0 25 0a12.5 12.5 0 1 0 -25 0zM1864.5 756.9a12.5 12.5 0 1 0 25 0a12.5 12.5 0 1 0 -25 0zM1889.5 815.9a12.5 12.5 0 1 0 25 0a12.5 12.5 0 1 0 -25 0zM1914.5 863a12.5 12.5 0 1 0 25 0a12.5 12.5 0 1 0 -25 0zM1939.5 913.8a12.5 12.5 0 1 0 25 0a12.5 12.5 0 1 0 -25 0zM1963 931.2a12.5 12.5 0 1 0 25 0a12.5 12.5 0 1 0 -25 0zM1985 947a12.5 12.5 0 1 0 25 0a12.5 12.5 0 1 0 -25 0zM2007 951.8a12.5 12.5 0 1 0 25 0a12.5 12.5 0 1 0 -25 0zM2029 960.2a12.5 12.5 0 1 0 25 0a12.5 12.5 0 1 0 -25 0zM2051 967.5a12.5 12.5 0 1 0 25 0a12.5 12.5 0 1 0 -25 0zM2073 966.6a12.5 12.5 0 1 0 25 0a12.5 12.5 0 1 0 -25 0zM2095 962.9a12.5 12.5 0 1 0 25 0a12.5 12.5 0 1 0 -25 0zM2117 972.4a12.5 12.5 0 1 0 25 0a12.5 12.5 0 1 0 -25 0zM2139 972a12.5 12.5 0 1 0 25 0a12.5 12.5 0 1 0 -25 0zM2161 969.8a12.5 12.5 0 1 0 25 0a12.5 12.5 0 1 0 -25 0zM2183 979.7a12.5 12.5 0 1 0 25 0a12.5 12.5 0 1 0 -25 0zM2205 977.4a12.5 12.5 0 1 0 25 0a12.5 12.5 0 1 0 -25 0zM2227 982.5a12.5 12.5 0 1 0 25 0a12.5 12.5 0 1 0 -25 0zM2249 999.9a12.5 12.5 0 1 0 25 0a12.5 12.5 0 1 0 -25 0z" stroke="#000" stroke-width="4.8" fill="none"/>
<path d="M1442.9 205.5h26.2v26.2h-26.2zM1475.9 241.7h26.2v26.2h-26.2zM1508.9 282.1h26.2v26.2h-26.2zM1541.9 322.4h26.2v26.2h-26.2zM1574.9 372h26.2v26.2h-26.2zM1607.9 414.8h26.2v26.2h-26.2zM1640.9 443.4h26.2v26.2h-26.2zM1673.9 480.5h26.2v26.2h-26.2zM1706.9 516.2h26.2v26.2h-26.2zM1739.9 552.8h26.2v26.2h-26.2zM1772.9 594.9h26.2v26.2h-26.2zM1805.9 647.4h26.2v26.2h-26.2zM1838.9 696.7h26.2v26.2h-26.2zM1871.9 749.5h26.2v26.2h-26.2zM1904.9 815.5h26.2v26.2h-26.2zM1937.9 882.5h26.2v26.2h-26.2zM1965.4 917.3h26.2v26.2h-26.2zM1987.4 923.5h26.2v26.2h-26.2zM2009.4 931h26.2v26.2h-26.2zM2031.4 939.9h26.2v26.2h-26.2zM2053.4 937.6h26.2v26.2h-26.2zM2075.4 942.5h26.2v26.2h-26.2zM2097.4 949.3h26.2v26.2h-26.2zM2119.4 950.6h26.2v26.2h-26.2zM2141.4 954.5h26.2v26.2h-26.2zM2163.4 954.6h26.2v26.2h-26.2zM2185.4 956.9h26.2v26.2h-26.2zM2207.4 954.8h26.2v26.2h-26.2zM2229.4 964.1h26.2v26.2h-26.2zM2251.4 973.4h26.2v26.2h-26.2z" stroke="#ff0000" stroke-width="4.4" fill="none"/>
</g>
<path d="M1385 124.3V1004.4H2269V124.3" fill="none" stroke="#000" stroke-width="5.2"/>
<path d="M1385 123.8H2269" fill="none" stroke="#000" stroke-width="3.6"/>
<path d="M1420.7 1004.4v-15.5M1447.8 1004.4v-15.5M1470.7 1004.4v-15.5M1490.5 1004.4v-15.5M1508 1004.4v-15.5M1523.7 1004.4v-31M1626.7 1004.4v-15.5M1687 1004.4v-15.5M1729.7 1004.4v-15.5M1762.9 1004.4v-15.5M1790 1004.4v-15.5M1812.9 1004.4v-15.5M1832.7 1004.4v-15.5M1850.2 1004.4v-15.5M1865.9 1004.4v-31M1968.9 1004.4v-15.5M2029.2 1004.4v-15.5M2071.9 1004.4v-15.5M2105.1 1004.4v-15.5M2132.2 1004.4v-15.5M2155.1 1004.4v-15.5M2174.9 1004.4v-15.5M2192.4 1004.4v-15.5M2208.1 1004.4v-31M1385 943.3h18M1385 904.5h18M1385 877h18M1385 855.6h18M1385 838.2h18M1385 823.4h18M1385 810.6h18M1385 799.4h18M1385 789.3h31M1385 723h18M1385 684.2h18M1385 656.7h18M1385 635.3h18M1385 617.9h18M1385 603.1h18M1385 590.3h18M1385 579.1h18M1385 569h31M1385 502.7h18M1385 463.9h18M1385 436.4h18M1385 415h18M1385 397.6h18M1385 382.8h18M1385 370h18M1385 358.8h18M1385 348.7h31M1385 282.4h18M1385 243.6h18M1385 216.1h18M1385 194.7h18M1385 177.3h18M1385 162.5h18M1385 149.7h18M1385 138.5h18M1385 128.4h31M2269 943.3h-18M2269 904.5h-18M2269 877h-18M2269 855.6h-18M2269 838.2h-18M2269 823.4h-18M2269 810.6h-18M2269 799.4h-18M2269 789.3h-31M2269 723h-18M2269 684.2h-18M2269 656.7h-18M2269 635.3h-18M2269 617.9h-18M2269 603.1h-18M2269 590.3h-18M2269 579.1h-18M2269 569h-31M2269 502.7h-18M2269 463.9h-18M2269 436.4h-18M2269 415h-18M2269 397.6h-18M2269 382.8h-18M2269 370h-18M2269 358.8h-18M2269 348.7h-31M2269 282.4h-18M2269 243.6h-18M2269 216.1h-18M2269 194.7h-18M2269 177.3h-18M2269 162.5h-18M2269 149.7h-18M2269 138.5h-18M2269 128.4h-31" stroke="#000" stroke-width="4.6" fill="none"/>
<path d="M1420.7 124.3v17M1447.8 124.3v17M1470.7 124.3v17M1490.5 124.3v17M1508 124.3v17M1523.7 124.3v30" stroke="#000" stroke-width="4.6" fill="none"/>
<path d="M1382.4 125.3h34M2271.6 125.3h-36" stroke="#000" stroke-width="7"/>
<rect x="1586" y="30" width="646" height="150" fill="#fff"/>
<text x="1586.5" y="95" font-size="64.5">deuterated-cell debris</text>
<text x="1586.5" y="158.5" font-size="64.5">in 97%D<tspan font-size="45" dy="22">2</tspan><tspan dy="-22">O</tspan></text>
<rect x="1600" y="262" width="636" height="136" fill="#fff"/>
<path d="M1606.5 300H1772" stroke="#000" stroke-width="4.2"/>
<circle cx="1694" cy="300" r="12" fill="none" stroke="#000" stroke-width="4"/>
<path d="M1606.5 363.5H1772" stroke="#f00" stroke-width="2.6" stroke-dasharray="19 15"/>
<rect x="1681" y="350.5" width="26" height="26" fill="#fff" stroke="#f00" stroke-width="3.8"/>
<path d="M1683 363.5h22" stroke="#f00" stroke-width="2.6"/>
<text x="1792" y="319" font-size="58.5">at initial</text>
<text x="1792" y="383" font-size="58.5">at final (14.3 hrs)</text>
<text x="1369" y="137.5" font-size="58" text-anchor="end">10<tspan font-size="41.8" dy="-24.9">2</tspan></text>
<text x="1369" y="359" font-size="58" text-anchor="end">10<tspan font-size="41.8" dy="-24.9">1</tspan></text>
<text x="1369" y="580.5" font-size="58" text-anchor="end">10<tspan font-size="41.8" dy="-24.9">0</tspan></text>
<text x="1369" y="800" font-size="58" text-anchor="end">10<tspan font-size="41.8" dy="-24.9">-1</tspan></text>
<text transform="translate(1249 677.5) rotate(-90)" font-size="65" style="white-space:pre"><tspan font-style="italic">I</tspan>(<tspan font-style="italic">q</tspan>)  <tspan dx="7.9">(cm</tspan><tspan font-size="44" dy="-38">-1</tspan><tspan dy="38" dx="1">)</tspan></text>
<text x="1519" y="1075" font-size="58" text-anchor="middle">0.01</text>
<text x="1861" y="1075" font-size="58" text-anchor="middle">0.1</text>
<text x="2209" y="1075" font-size="58" text-anchor="middle">1</text>
<text x="1592" y="1091" font-size="62" style="white-space:pre"><tspan font-style="italic">q</tspan>  <tspan dx="18.5">(Å</tspan><tspan font-size="43" dy="-27">-1</tspan><tspan dy="27" dx="3">)</tspan></text>
</g>
<g id="panelB">
<clipPath id="clipB"><rect x="353.4" y="1787" width="1546.8" height="1539"/></clipPath>
<g clip-path="url(#clipB)">
<g id="dataB">
<path d="M463.5 1874.5V1931.5M451 1874.5h25M451 1931.5h25M474.5 1908.6V1973.3M462 1908.6h25M462 1973.3h25M485.5 1940.6V1998.4M473 1940.6h25M473 1998.4h25M496.5 1965.2V2031.1M484 1965.2h25M484 2031.1h25M507.5 1987.8V2062.4M495 1987.8h25M495 2062.4h25M518.5 2000.4V2073.9M506 2000.4h25M506 2073.9h25M529.5 2016.2V2078.5M517 2016.2h25M517 2078.5h25M540.5 2037.8V2098.2M528 2037.8h25M528 2098.2h25M551.5 2052.6V2124.1M539 2052.6h25M539 2124.1h25M562.5 2077.9V2140.4M550 2077.9h25M550 2140.4h25M573.5 2093.9V2164.4M561 2093.9h25M561 2164.4h25M584.5 2113.8V2188M572 2113.8h25M572 2188h25M595.5 2135.9V2209.1M583 2135.9h25M583 2209.1h25M606.5 2158.8V2231.4M594 2158.8h25M594 2231.4h25M617.5 2180.9V2243.4M605 2180.9h25M605 2243.4h25M628.5 2192V2272.6M616 2192h25M616 2272.6h25M639.5 2216.9V2280.7M627 2216.9h25M627 2280.7h25M650.5 2234.6V2304.1M638 2234.6h25M638 2304.1h25M661.5 2252.6V2315.9M649 2252.6h25M649 2315.9h25M672.5 2268.5V2325.4M660 2268.5h25M660 2325.4h25M683.5 2273.5V2342.3M671 2273.5h25M671 2342.3h25M694.5 2287.1V2346.2M682 2287.1h25M682 2346.2h25M705.5 2287.9V2364.1M693 2287.9h25M693 2364.1h25M716.5 2302.7V2359.4M704 2302.7h25M704 2359.4h25M727.5 2302.6V2376.7M715 2302.6h25M715 2376.7h25M738.5 2304.7V2374.5M726 2304.7h25M726 2374.5h25M749.5 2316.7V2370M737 2316.7h25M737 2370h25M760.5 2321.6V2386.8M748 2321.6h25M748 2386.8h25M771.5 2329.3V2391.5M759 2329.3h25M759 2391.5h25M782.5 2335.4V2389.6M770 2335.4h25M770 2389.6h25M793.5 2336V2403M781 2336h25M781 2403h25M804.5 2343.4V2406.9M792 2343.4h25M792 2406.9h25M815.5 2348.9V2408.5M803 2348.9h25M803 2408.5h25M826.5 2364.7V2411.4M814 2364.7h25M814 2411.4h25M837.5 2377.1V2424.7M825 2377.1h25M825 2424.7h25M848.5 2387.6V2432.4M836 2387.6h25M836 2432.4h25M859.5 2405.6V2450.8M847 2405.6h25M847 2450.8h25M870.5 2424.7V2466.8M858 2424.7h25M858 2466.8h25M881.5 2432.3V2485.5M869 2432.3h25M869 2485.5h25M892.5 2445.2V2494.3M880 2445.2h25M880 2494.3h25M903.5 2464V2513.5M891 2464h25M891 2513.5h25M914.5 2475.5V2527.5M902 2475.5h25M902 2527.5h25M925.5 2489.9V2538.6M913 2489.9h25M913 2538.6h25M936.5 2500.4V2554M924 2500.4h25M924 2554h25M947.5 2511.6V2564.5M935 2511.6h25M935 2564.5h25M958.5 2524.5V2569.2M946 2524.5h25M946 2569.2h25M969.5 2537.6V2586.7M957 2537.6h25M957 2586.7h25M980.5 2551.5V2594.5M968 2551.5h25M968 2594.5h25M991.5 2557.6V2609.6M979 2557.6h25M979 2609.6h25M1002.5 2567.6V2609.5M990 2567.6h25M990 2609.5h25M1013.5 2578.3V2633.1M1001 2578.3h25M1001 2633.1h25M1024.5 2596.3V2642.5M1012 2596.3h25M1012 2642.5h25M1035.5 2607.1V2659.3M1023 2607.1h25M1023 2659.3h25M1046.5 2623.6V2671.6M1034 2623.6h25M1034 2671.6h25M1057.5 2637.9V2692M1045 2637.9h25M1045 2692h25M1068.5 2656.3V2708.9M1056 2656.3h25M1056 2708.9h25M1079.5 2670.5V2719.4M1067 2670.5h25M1067 2719.4h25M1090.5 2687V2737.7M1078 2687h25M1078 2737.7h25M1101.5 2698.4V2752.3M1089 2698.4h25M1089 2752.3h25M1112.5 2706.8V2754.8M1100 2706.8h25M1100 2754.8h25M1123.5 2722V2765.9M1111 2722h25M1111 2765.9h25M1134.5 2728.8V2785.6M1122 2728.8h25M1122 2785.6h25M1145.5 2747.9V2791M1133 2747.9h25M1133 2791h25M1156.5 2753.3V2801.2M1144 2753.3h25M1144 2801.2h25M1167.5 2769.1V2819M1155 2769.1h25M1155 2819h25M1178.5 2775.3V2827.1M1166 2775.3h25M1166 2827.1h25M1189.5 2791.7V2835.6M1177 2791.7h25M1177 2835.6h25M1200.5 2799.7V2860.3M1188 2799.7h25M1188 2860.3h25M1211.5 2815.5V2872.2M1199 2815.5h25M1199 2872.2h25M1222.5 2824.5V2878.7M1210 2824.5h25M1210 2878.7h25M1233.5 2839.3V2897.5M1221 2839.3h25M1221 2897.5h25M1244.5 2855V2901.4M1232 2855h25M1232 2901.4h25M1255.5 2868.8V2919.4M1243 2868.8h25M1243 2919.4h25M1266.5 2877.5V2932.1M1254 2877.5h25M1254 2932.1h25M1277.5 2890.3V2943.1M1265 2890.3h25M1265 2943.1h25M1288.5 2893V2947.9M1276 2893h25M1276 2947.9h25M1299.5 2902V2964.4M1287 2902h25M1287 2964.4h25M1310.5 2911V2972M1298 2911h25M1298 2972h25M1321.5 2916.2V2979.7M1309 2916.2h25M1309 2979.7h25M1332.5 2916.8V2984.4M1320 2916.8h25M1320 2984.4h25M1343.5 2933.9V2985.4M1331 2933.9h25M1331 2985.4h25M1354.5 2930.4V2998.4M1342 2930.4h25M1342 2998.4h25M1365.5 2937.8V2992.8M1353 2937.8h25M1353 2992.8h25M1376.5 2935.5V3005.7M1364 2935.5h25M1364 3005.7h25M1387.5 2935.8V3011.6M1375 2935.8h25M1375 3011.6h25M1398.5 2944.8V3014.3M1386 2944.8h25M1386 3014.3h25M1409.5 2952.2V3011.7M1397 2952.2h25M1397 3011.7h25M1420.5 2945.7V3015.1M1408 2945.7h25M1408 3015.1h25M1431.5 2947V3027.7M1419 2947h25M1419 3027.7h25M1442.5 2954.1V3027.9M1430 2954.1h25M1430 3027.9h25M1453.5 2953V3036.2M1441 2953h25M1441 3036.2h25M1464.5 2955V3034.1M1452 2955h25M1452 3034.1h25M1475.5 2962.5V3034.3M1463 2962.5h25M1463 3034.3h25M1486.5 2964.5V3031.1M1474 2964.5h25M1474 3031.1h25M1497.5 2962.2V3034.5M1485 2962.2h25M1485 3034.5h25M1508.5 2972.7V3039.1M1496 2972.7h25M1496 3039.1h25M1519.5 2976.9V3050.8M1507 2976.9h25M1507 3050.8h25M1530.5 2982.2V3068.4M1518 2982.2h25M1518 3068.4h25M1541.5 2983.4V3072.2M1529 2983.4h25M1529 3072.2h25M1552.5 2988.7V3058M1540 2988.7h25M1540 3058h25M1563.5 2993.3V3066.1M1551 2993.3h25M1551 3066.1h25M1574.5 2997.6V3076.4M1562 2997.6h25M1562 3076.4h25M1585.5 3000.4V3074.8M1573 3000.4h25M1573 3074.8h25M1596.5 2988.3V3074.1M1584 2988.3h25M1584 3074.1h25M1607.5 3000.4V3076.3M1595 3000.4h25M1595 3076.3h25M1618.5 2996.4V3094M1606 2996.4h25M1606 3094h25M1629.5 2994.3V3092.9M1617 2994.3h25M1617 3092.9h25M1640.5 3008.7V3083.2M1628 3008.7h25M1628 3083.2h25M1651.5 3001.8V3094.6M1639 3001.8h25M1639 3094.6h25M1662.5 3009.4V3090.5M1650 3009.4h25M1650 3090.5h25M1673.5 3007.1V3096.4M1661 3007.1h25M1661 3096.4h25M1684.5 3020.2V3094M1672 3020.2h25M1672 3094h25M1695.5 3015.1V3097.3M1683 3015.1h25M1683 3097.3h25M1706.5 3028.3V3105.1M1694 3028.3h25M1694 3105.1h25M1717.5 3023.9V3101.2M1705 3023.9h25M1705 3101.2h25M1728.5 3026.2V3114M1716 3026.2h25M1716 3114h25M1739.5 3042.8V3128.6M1727 3042.8h25M1727 3128.6h25M1750.5 3032.3V3128.9M1738 3032.3h25M1738 3128.9h25M1761.5 3040.5V3134.5M1749 3040.5h25M1749 3134.5h25M1772.5 3058.7V3149.6M1760 3058.7h25M1760 3149.6h25M1783.5 3071.9V3170.3M1771 3071.9h25M1771 3170.3h25M1794.5 3093.9V3203M1782 3093.9h25M1782 3203h25M1805.5 3128.5V3242.8M1793 3128.5h25M1793 3242.8h25M1816.5 3155.7V3265.9M1804 3155.7h25M1804 3265.9h25M1827.5 3180.1V3308.2M1815 3180.1h25M1815 3308.2h25M1838.5 3199.8V3322M1826 3199.8h25M1849.5 3228.9V3322M1837 3228.9h25M1860.5 3256.4V3322M1848 3256.4h25M1871.5 3249.3V3322M1859 3249.3h25M1882.5 3260.3V3322M1870 3260.3h25M1893.5 3270V3322M1881 3270h25" stroke="#a020f0" stroke-width="4.6" fill="none"/>
<path d="M463.5 1900.6L474.5 1937.8L485.5 1967L496.5 1994.9L507.5 2021L518.5 2033.1L529.5 2044.5L540.5 2065.2L551.5 2084.5L562.5 2106.3L573.5 2125.4L584.5 2146.8L595.5 2168.5L606.5 2191.2L617.5 2209.2L628.5 2227.4L639.5 2245.7L650.5 2265.7L661.5 2281.2L672.5 2294.5L683.5 2304.4L694.5 2314L705.5 2321.7L716.5 2328.7L727.5 2335.5L738.5 2336L749.5 2341.2L760.5 2351L771.5 2357.5L782.5 2360.3L793.5 2366.2L804.5 2372.1L815.5 2376L826.5 2386.4L837.5 2399.2L848.5 2408.5L859.5 2426.6L870.5 2444.4L881.5 2456.8L892.5 2467.9L903.5 2486.9L914.5 2499.5L925.5 2512.5L936.5 2525.1L947.5 2536L958.5 2545.3L969.5 2560.4L980.5 2571.6L991.5 2581.6L1002.5 2587.3L1013.5 2603.5L1024.5 2617.8L1035.5 2631.2L1046.5 2645.9L1057.5 2662.7L1068.5 2680.6L1079.5 2693.1L1090.5 2710.4L1101.5 2723.2L1112.5 2729.1L1123.5 2742.5L1134.5 2754.8L1145.5 2768.1L1156.5 2775.5L1167.5 2792.2L1178.5 2799.2L1189.5 2812.2L1200.5 2827.3L1211.5 2841.4L1222.5 2849.4L1233.5 2865.8L1244.5 2876.6L1255.5 2892.2L1266.5 2902.6L1277.5 2914.6L1288.5 2918.2L1299.5 2930.3L1310.5 2938.7L1321.5 2944.9L1332.5 2947.2L1343.5 2957.7L1354.5 2960.9L1365.5 2963L1376.5 2966.9L1387.5 2969.4L1398.5 2975.9L1409.5 2979.3L1420.5 2976.8L1431.5 2982.5L1442.5 2986.9L1453.5 2989.5L1464.5 2989.9L1475.5 2994.6L1486.5 2994.5L1497.5 2994.4L1508.5 3002.6L1519.5 3009.8L1530.5 3019.8L1541.5 3022L1552.5 3019.7L1563.5 3025.8L1574.5 3032.4L1585.5 3033.5L1596.5 3025.7L1607.5 3034.1L1618.5 3038.2L1629.5 3036.4L1640.5 3041.8L1651.5 3041.8L1662.5 3045L1673.5 3045.8L1684.5 3053L1695.5 3051.1L1706.5 3062.3L1717.5 3058.1L1728.5 3064.4L1739.5 3080.3L1750.5 3073.7L1761.5 3081L1772.5 3098L1783.5 3113.9L1794.5 3139.7L1805.5 3176L1816.5 3201.8L1827.5 3232.1L1838.5 3254.6L1849.5 3281.1L1860.5 3302.5L1871.5 3308.3L1882.5 3323.4L1893.5 3324.2" stroke="#7f00ff" stroke-width="4.2" fill="none" stroke-linejoin="round"/>
<path d="M463.5 1824V1927.2M451 1824h25M451 1927.2h25M474.5 1883.5V1938.5M462 1883.5h25M462 1938.5h25M485.5 1916.6V1967.3M473 1916.6h25M473 1967.3h25M496.5 1945V1990.7M484 1945h25M484 1990.7h25M507.5 1960.4V2011.2M495 1960.4h25M495 2011.2h25M518.5 1974.3V2025.1M506 1974.3h25M506 2025.1h25M529.5 1995V2039.6M517 1995h25M517 2039.6h25M540.5 2021.6V2071.6M528 2021.6h25M528 2071.6h25M551.5 2039.8V2095M539 2039.8h25M539 2095h25M562.5 2060.9V2104.7M550 2060.9h25M550 2104.7h25M573.5 2075.7V2128.2M561 2075.7h25M561 2128.2h25M584.5 2090.8V2143.7M572 2090.8h25M572 2143.7h25M595.5 2109.8V2158.3M583 2109.8h25M583 2158.3h25M606.5 2122.1V2170.6M594 2122.1h25M594 2170.6h25M617.5 2131.8V2184.9M605 2131.8h25M605 2184.9h25M628.5 2147.2V2190.8M616 2147.2h25M616 2190.8h25M639.5 2165.1V2218.9M627 2165.1h25M627 2218.9h25M650.5 2190.1V2239.4M638 2190.1h25M638 2239.4h25M661.5 2204.3V2249.2M649 2204.3h25M649 2249.2h25M672.5 2213.7V2260.7M660 2213.7h25M660 2260.7h25M683.5 2230.3V2275.1M671 2230.3h25M671 2275.1h25M694.5 2242.7V2285.9M682 2242.7h25M682 2285.9h25M705.5 2253.5V2299.5M693 2253.5h25M693 2299.5h25M716.5 2261.2V2315.8M704 2261.2h25M704 2315.8h25M727.5 2272.6V2319.8M715 2272.6h25M715 2319.8h25M738.5 2282.1V2328.2M726 2282.1h25M726 2328.2h25M749.5 2291.1V2340.9M737 2291.1h25M737 2340.9h25M760.5 2300.1V2342.8M748 2300.1h25M748 2342.8h25M771.5 2306.1V2358.2M759 2306.1h25M759 2358.2h25M782.5 2316.3V2360.9M770 2316.3h25M770 2360.9h25M793.5 2317.5V2372.8M781 2317.5h25M781 2372.8h25M804.5 2325.4V2380.9M792 2325.4h25M792 2380.9h25M815.5 2334.6V2390.4M803 2334.6h25M803 2390.4h25M826.5 2349.6V2396.4M814 2349.6h25M814 2396.4h25M837.5 2360.8V2413.7M825 2360.8h25M825 2413.7h25M848.5 2376.5V2431.9M836 2376.5h25M836 2431.9h25M859.5 2393.6V2448.4M847 2393.6h25M847 2448.4h25M870.5 2409V2464.3M858 2409h25M858 2464.3h25M881.5 2427.5V2472.7M869 2427.5h25M869 2472.7h25M892.5 2440.6V2486.2M880 2440.6h25M880 2486.2h25M903.5 2461V2501.8M891 2461h25M891 2501.8h25M914.5 2482.9V2525.4M902 2482.9h25M902 2525.4h25M925.5 2492V2545.7M913 2492h25M913 2545.7h25M936.5 2506.1V2546.7M924 2506.1h25M924 2546.7h25M947.5 2519V2560.3M935 2519h25M935 2560.3h25M958.5 2526.8V2577.5M946 2526.8h25M946 2577.5h25M969.5 2539.3V2583.9M957 2539.3h25M957 2583.9h25M980.5 2552.4V2597.1M968 2552.4h25M968 2597.1h25M991.5 2557.2V2608.3M979 2557.2h25M979 2608.3h25M1002.5 2569.7V2620.5M990 2569.7h25M990 2620.5h25M1013.5 2585.7V2629.2M1001 2585.7h25M1001 2629.2h25M1024.5 2597.6V2646.9M1012 2597.6h25M1012 2646.9h25M1035.5 2615.5V2656.1M1023 2615.5h25M1023 2656.1h25M1046.5 2627.7V2670.3M1034 2627.7h25M1034 2670.3h25M1057.5 2645.3V2689.8M1045 2645.3h25M1045 2689.8h25M1068.5 2658.8V2706.8M1056 2658.8h25M1056 2706.8h25M1079.5 2673.9V2718.9M1067 2673.9h25M1067 2718.9h25M1090.5 2688.8V2732.5M1078 2688.8h25M1078 2732.5h25M1101.5 2705.2V2744.5M1089 2705.2h25M1089 2744.5h25M1112.5 2718.4V2755.9M1100 2718.4h25M1100 2755.9h25M1123.5 2725.1V2769.5M1111 2725.1h25M1111 2769.5h25M1134.5 2734.3V2779.5M1122 2734.3h25M1122 2779.5h25M1145.5 2747.4V2791.5M1133 2747.4h25M1133 2791.5h25M1156.5 2762.6V2800.7M1144 2762.6h25M1144 2800.7h25M1167.5 2767.5V2817.6M1155 2767.5h25M1155 2817.6h25M1178.5 2777.8V2829.8M1166 2777.8h25M1166 2829.8h25M1189.5 2791.5V2841.2M1177 2791.5h25M1177 2841.2h25M1200.5 2805.1V2851.7M1188 2805.1h25M1188 2851.7h25M1211.5 2821.4V2862.9M1199 2821.4h25M1199 2862.9h25M1222.5 2832.9V2881M1210 2832.9h25M1210 2881h25M1233.5 2844.9V2894.5M1221 2844.9h25M1221 2894.5h25M1244.5 2855.9V2905.8M1232 2855.9h25M1232 2905.8h25M1255.5 2862.9V2919.4M1243 2862.9h25M1243 2919.4h25M1266.5 2872.8V2929.6M1254 2872.8h25M1254 2929.6h25M1277.5 2891V2942M1265 2891h25M1265 2942h25M1288.5 2897.5V2951.9M1276 2897.5h25M1276 2951.9h25M1299.5 2907.4V2956M1287 2907.4h25M1287 2956h25M1310.5 2913V2964.3M1298 2913h25M1298 2964.3h25M1321.5 2913.1V2977.9M1309 2913.1h25M1309 2977.9h25M1332.5 2920V2976.1M1320 2920h25M1320 2976.1h25M1343.5 2919.2V2986M1331 2919.2h25M1331 2986h25M1354.5 2923.9V2987.6M1342 2923.9h25M1342 2987.6h25M1365.5 2925.8V2985.8M1353 2925.8h25M1353 2985.8h25M1376.5 2926.2V2986.8M1364 2926.2h25M1364 2986.8h25M1387.5 2922.3V2999.8M1375 2922.3h25M1375 2999.8h25M1398.5 2933.9V2996M1386 2933.9h25M1386 2996h25M1409.5 2938.8V3003.1M1397 2938.8h25M1397 3003.1h25M1420.5 2941.6V3016M1408 2941.6h25M1408 3016h25M1431.5 2950.7V3022.5M1419 2950.7h25M1419 3022.5h25M1442.5 2955.9V3029.4M1430 2955.9h25M1430 3029.4h25M1453.5 2956.9V3043.5M1441 2956.9h25M1441 3043.5h25M1464.5 2952.5V3046.9M1452 2952.5h25M1452 3046.9h25M1475.5 2963.4V3046.6M1463 2963.4h25M1463 3046.6h25M1486.5 2961.1V3061.9M1474 2961.1h25M1474 3061.9h25M1497.5 2968.2V3068.4M1485 2968.2h25M1485 3068.4h25M1508.5 2981.7V3084.7M1496 2981.7h25M1496 3084.7h25M1519.5 2999V3085.8M1507 2999h25M1507 3085.8h25M1530.5 3006.5V3119.8M1518 3006.5h25M1518 3119.8h25M1541.5 3006.4V3139.6M1529 3006.4h25M1529 3139.6h25M1552.5 3033.5V3137.9M1540 3033.5h25M1540 3137.9h25M1563.5 3031V3158.2M1551 3031h25M1551 3158.2h25M1574.5 3039.4V3172.9M1562 3039.4h25M1562 3172.9h25M1585.5 3051.5V3184.5M1573 3051.5h25M1573 3184.5h25M1596.5 3058.7V3195.3M1584 3058.7h25M1584 3195.3h25M1607.5 3068.8V3197.6M1595 3068.8h25M1595 3197.6h25M1618.5 3076.6V3192.9M1606 3076.6h25M1606 3192.9h25M1629.5 3081.9V3188.1M1617 3081.9h25M1617 3188.1h25M1640.5 3091.7V3203.4M1628 3091.7h25M1628 3203.4h25M1651.5 3092.4V3209.6M1639 3092.4h25M1639 3209.6h25M1662.5 3096.6V3224.6M1650 3096.6h25M1650 3224.6h25M1673.5 3101.4V3225.2M1661 3101.4h25M1661 3225.2h25M1684.5 3093.7V3228.6M1672 3093.7h25M1672 3228.6h25M1695.5 3089.1V3238.9M1683 3089.1h25M1683 3238.9h25M1706.5 3080.5V3223.5M1694 3080.5h25M1694 3223.5h25M1717.5 3077.8V3217.3M1705 3077.8h25M1705 3217.3h25M1728.5 3065.8V3171.6M1716 3065.8h25M1716 3171.6h25M1739.5 3053.5V3170.7M1727 3053.5h25M1727 3170.7h25M1750.5 3065.8V3160.1M1738 3065.8h25M1738 3160.1h25M1761.5 3082.4V3183.8M1749 3082.4h25M1749 3183.8h25M1772.5 3112.5V3195.9M1760 3112.5h25M1760 3195.9h25M1783.5 3138.4V3217M1771 3138.4h25M1771 3217h25M1794.5 3187.5V3277.9M1782 3187.5h25M1782 3277.9h25M1805.5 3266.5V3322M1793 3266.5h25M1816.5 3298V3322M1804 3298h25M1827.5 3300.4V3322M1815 3300.4h25M1838.5 3316.1V3322M1826 3316.1h25" stroke="#000" stroke-width="4.6" fill="none"/>
<path d="M463.5 1867.7L474.5 1908.7L485.5 1940L496.5 1966.3L507.5 1983.9L518.5 1997.8L529.5 2015.8L540.5 2044.7L551.5 2065.1L562.5 2081.3L573.5 2099.9L584.5 2115.2L595.5 2132.3L606.5 2144.6L617.5 2156.2L628.5 2167.6L639.5 2189.8L650.5 2212.9L661.5 2225.3L672.5 2235.5L683.5 2251.2L694.5 2262.9L705.5 2274.9L716.5 2286.3L727.5 2294.5L738.5 2303.5L749.5 2314.1L760.5 2320.1L771.5 2330.1L782.5 2337.1L793.5 2342.9L804.5 2350.9L815.5 2360.1L826.5 2371.3L837.5 2385.2L848.5 2401.9L859.5 2418.7L870.5 2434.4L881.5 2448.6L892.5 2461.8L903.5 2480.1L914.5 2502.8L925.5 2516.7L936.5 2525.2L947.5 2538.4L958.5 2550.2L969.5 2560.1L980.5 2573.3L991.5 2580.8L1002.5 2593.2L1013.5 2606L1024.5 2620.4L1035.5 2634.6L1046.5 2647.6L1057.5 2666.1L1068.5 2681.1L1079.5 2694.9L1090.5 2709.2L1101.5 2723.7L1112.5 2736.1L1123.5 2745.9L1134.5 2755.4L1145.5 2767.9L1156.5 2780.6L1167.5 2790.7L1178.5 2801.8L1189.5 2814.5L1200.5 2826.7L1211.5 2840.9L1222.5 2855.2L1233.5 2867.9L1244.5 2879L1255.5 2888.8L1266.5 2898.8L1277.5 2914.5L1288.5 2922.5L1299.5 2929.9L1310.5 2936.7L1321.5 2942.3L1332.5 2945.7L1343.5 2949.3L1354.5 2952.7L1365.5 2953.1L1376.5 2953.7L1387.5 2956.6L1398.5 2962.1L1409.5 2967.9L1420.5 2974.7L1431.5 2982.8L1442.5 2988.6L1453.5 2994.6L1464.5 2993.1L1475.5 2999.8L1486.5 3004L1497.5 3010.9L1508.5 3025.3L1519.5 3036.8L1530.5 3053.7L1541.5 3060L1552.5 3077.6L1563.5 3082.7L1574.5 3093.1L1585.5 3105.1L1596.5 3113.4L1607.5 3121L1618.5 3124.8L1629.5 3126.7L1640.5 3138.3L1651.5 3140.9L1662.5 3148.6L1673.5 3152L1684.5 3147.8L1695.5 3147.7L1706.5 3137L1717.5 3133.3L1728.5 3110.4L1739.5 3101.9L1750.5 3106.4L1761.5 3125.5L1772.5 3149L1783.5 3173.1L1794.5 3226.7L1805.5 3307.6L1812.9 3326" stroke="#000" stroke-width="9" fill="none" stroke-linejoin="round"/>
<path d="M463.5 1910.1V2075.7M451 1910.1h25M451 2075.7h25M474.5 1945.9V2081.6M462 1945.9h25M462 2081.6h25M485.5 1982.7V2166.1M473 1982.7h25M473 2166.1h25M496.5 2024.5V2260.3M484 2024.5h25M484 2260.3h25M507.5 2070.8V2354.8M495 2070.8h25M495 2354.8h25M518.5 2114.7V2419.5M506 2114.7h25M506 2419.5h25M529.5 2151.5V2499.1M517 2151.5h25M517 2499.1h25M540.5 2177.9V2708.9M528 2177.9h25M528 2708.9h25M551.5 2233.5V2557.6M539 2233.5h25M539 2557.6h25M562.5 2261V2677.8M550 2261h25M550 2677.8h25M573.5 2266.7V3322M561 2266.7h25M584.5 2303.4V3322M572 2303.4h25M595.5 2349.5V3322M583 2349.5h25M606.5 2424V3322M594 2424h25M617.5 2471.8V3322M605 2471.8h25M628.5 2516.1V3322M616 2516.1h25M639.5 2538V3322M627 2538h25M650.5 2575.9V3322M638 2575.9h25M661.5 2554V3322M649 2554h25M672.5 2550.1V3322M660 2550.1h25M683.5 2500.2V3322M671 2500.2h25M694.5 2493.2V3322M682 2493.2h25M705.5 2480.7V3322M693 2480.7h25M716.5 2493.1V3322M704 2493.1h25M727.5 2507.5V2861.9M715 2507.5h25M715 2861.9h25M738.5 2499.7V2622.7M726 2499.7h25M726 2622.7h25M749.5 2459.3V2562.4M737 2459.3h25M737 2562.4h25M760.5 2445.7V2529.9M748 2445.7h25M748 2529.9h25M771.5 2431V2501.5M759 2431h25M759 2501.5h25M782.5 2422.2V2494.9M770 2422.2h25M770 2494.9h25M793.5 2413.1V2475.7M781 2413.1h25M781 2475.7h25M804.5 2416.6V2464.6M792 2416.6h25M792 2464.6h25M815.5 2409.6V2468M803 2409.6h25M803 2468h25M826.5 2415.4V2469.8M814 2415.4h25M814 2469.8h25M837.5 2423.9V2483.3M825 2423.9h25M825 2483.3h25M848.5 2431.7V2482.2M836 2431.7h25M836 2482.2h25M859.5 2448.2V2500.8M847 2448.2h25M847 2500.8h25M870.5 2461.2V2515.5M858 2461.2h25M858 2515.5h25M881.5 2484.4V2534.3M869 2484.4h25M869 2534.3h25M892.5 2496.6V2549.9M880 2496.6h25M880 2549.9h25M903.5 2509.3V2561.7M891 2509.3h25M891 2561.7h25M914.5 2521.6V2562.7M902 2521.6h25M902 2562.7h25M925.5 2528.6V2581.3M913 2528.6h25M913 2581.3h25M936.5 2541.6V2586.1M924 2541.6h25M924 2586.1h25M947.5 2551.4V2600.7M935 2551.4h25M935 2600.7h25M958.5 2556V2607.8M946 2556h25M946 2607.8h25M969.5 2568V2611.4M957 2568h25M957 2611.4h25M980.5 2580.6V2621.2M968 2580.6h25M968 2621.2h25M991.5 2584.9V2630.7M979 2584.9h25M979 2630.7h25M1002.5 2587.7V2638M990 2587.7h25M990 2638h25M1013.5 2605.1V2648.2M1001 2605.1h25M1001 2648.2h25M1024.5 2611.1V2658.7M1012 2611.1h25M1012 2658.7h25M1035.5 2626.1V2672.3M1023 2626.1h25M1023 2672.3h25M1046.5 2641.5V2682.6M1034 2641.5h25M1034 2682.6h25M1057.5 2660.5V2701M1045 2660.5h25M1045 2701h25M1068.5 2671.6V2717.3M1056 2671.6h25M1056 2717.3h25M1079.5 2683.2V2735.3M1067 2683.2h25M1067 2735.3h25M1090.5 2706.1V2746.3M1078 2706.1h25M1078 2746.3h25M1101.5 2714.9V2757.4M1089 2714.9h25M1089 2757.4h25M1112.5 2725.3V2766.5M1100 2725.3h25M1100 2766.5h25M1123.5 2729.9V2785.2M1111 2729.9h25M1111 2785.2h25M1134.5 2742V2785.7M1122 2742h25M1122 2785.7h25M1145.5 2748.3V2803.7M1133 2748.3h25M1133 2803.7h25M1156.5 2766.9V2811.4M1144 2766.9h25M1144 2811.4h25M1167.5 2774.6V2829.1M1155 2774.6h25M1155 2829.1h25M1178.5 2784.5V2843.5M1166 2784.5h25M1166 2843.5h25M1189.5 2791.2V2846.7M1177 2791.2h25M1177 2846.7h25M1200.5 2805.1V2852M1188 2805.1h25M1188 2852h25M1211.5 2820.7V2868.7M1199 2820.7h25M1199 2868.7h25M1222.5 2829.3V2880M1210 2829.3h25M1210 2880h25M1233.5 2838.9V2900.1M1221 2838.9h25M1221 2900.1h25M1244.5 2854V2909.2M1232 2854h25M1232 2909.2h25M1255.5 2868.9V2918M1243 2868.9h25M1243 2918h25M1266.5 2876.3V2936.3M1254 2876.3h25M1254 2936.3h25M1277.5 2889.7V2944.6M1265 2889.7h25M1265 2944.6h25M1288.5 2899.6V2948.1M1276 2899.6h25M1276 2948.1h25M1299.5 2903.6V2963.1M1287 2903.6h25M1287 2963.1h25M1310.5 2913.5V2981.4M1298 2913.5h25M1298 2981.4h25M1321.5 2915.7V2984.3M1309 2915.7h25M1309 2984.3h25M1332.5 2922.4V2999.3M1320 2922.4h25M1320 2999.3h25M1343.5 2931V2996.7M1331 2931h25M1331 2996.7h25M1354.5 2940.2V3001.4M1342 2940.2h25M1342 3001.4h25M1365.5 2939.1V3014.4M1353 2939.1h25M1353 3014.4h25M1376.5 2946.1V3029.4M1364 2946.1h25M1364 3029.4h25M1387.5 2950.8V3024.6M1375 2950.8h25M1375 3024.6h25M1398.5 2951.7V3046.4M1386 2951.7h25M1386 3046.4h25M1409.5 2973.5V3064.4M1397 2973.5h25M1397 3064.4h25M1420.5 2975.1V3081.7M1408 2975.1h25M1408 3081.7h25M1431.5 2963.4V3078.6M1419 2963.4h25M1419 3078.6h25M1442.5 2957.5V3069.4M1430 2957.5h25M1430 3069.4h25M1453.5 2956.6V3058.7M1441 2956.6h25M1441 3058.7h25M1464.5 2944.9V3052.2M1452 2944.9h25M1452 3052.2h25M1475.5 2952.7V3038.3M1463 2952.7h25M1463 3038.3h25M1486.5 2940.8V3024M1474 2940.8h25M1474 3024h25M1497.5 2938.4V3021.6M1485 2938.4h25M1485 3021.6h25M1508.5 2953.6V3026.7M1496 2953.6h25M1496 3026.7h25M1519.5 2955.7V3035.8M1507 2955.7h25M1507 3035.8h25M1530.5 2959.2V3041.3M1518 2959.2h25M1518 3041.3h25M1541.5 2968.8V3041.8M1529 2968.8h25M1529 3041.8h25M1552.5 2971V3050.2M1540 2971h25M1540 3050.2h25M1563.5 2975.2V3060M1551 2975.2h25M1551 3060h25M1574.5 2971.1V3067.3M1562 2971.1h25M1562 3067.3h25M1585.5 2983.3V3051.8M1573 2983.3h25M1573 3051.8h25M1596.5 2979.8V3067.3M1584 2979.8h25M1584 3067.3h25M1607.5 2983.5V3072.3M1595 2983.5h25M1595 3072.3h25M1618.5 2992.8V3069.1M1606 2992.8h25M1606 3069.1h25M1629.5 3007.1V3075.8M1617 3007.1h25M1617 3075.8h25M1640.5 3001.1V3097.7M1628 3001.1h25M1628 3097.7h25M1651.5 3026.1V3105M1639 3026.1h25M1639 3105h25M1662.5 3041.2V3125.1M1650 3041.2h25M1650 3125.1h25M1673.5 3046.4V3124M1661 3046.4h25M1661 3124h25M1684.5 3037.7V3125.5M1672 3037.7h25M1672 3125.5h25M1695.5 3039.9V3127.4M1683 3039.9h25M1683 3127.4h25M1706.5 3023.5V3103.6M1694 3023.5h25M1694 3103.6h25M1717.5 3016.6V3091.9M1705 3016.6h25M1705 3091.9h25M1728.5 2996.9V3087.8M1716 2996.9h25M1716 3087.8h25M1739.5 2990.6V3070.4M1727 2990.6h25M1727 3070.4h25M1750.5 2979V3069.8M1738 2979h25M1738 3069.8h25M1761.5 2988.6V3061.6M1749 2988.6h25M1749 3061.6h25M1772.5 2989.2V3090.4M1760 2989.2h25M1760 3090.4h25M1783.5 3003.1V3099M1771 3003.1h25M1771 3099h25M1794.5 3026.8V3099.6M1782 3026.8h25M1782 3099.6h25M1805.5 3034.3V3114M1793 3034.3h25M1793 3114h25M1816.5 3041V3133.6M1804 3041h25M1804 3133.6h25M1827.5 3060.1V3144.7M1815 3060.1h25M1815 3144.7h25M1838.5 3072.5V3153.7M1826 3072.5h25M1826 3153.7h25M1849.5 3097.4V3175.4M1837 3097.4h25M1837 3175.4h25M1860.5 3118.6V3220.7M1848 3118.6h25M1848 3220.7h25M1871.5 3167V3266M1859 3167h25M1859 3266h25M1882.5 3220.6V3317.9M1870 3220.6h25M1870 3317.9h25M1893.5 3241.5V3322M1881 3241.5h25" stroke="#0000e6" stroke-width="4.6" fill="none"/>
<path d="M463.5 1973.1L474.5 2000.3L485.5 2050.3L496.5 2103.7L507.5 2158.4L518.5 2205.3L529.5 2247.4L540.5 2286.5L551.5 2326.6L562.5 2363.2L573.5 2402.8L584.5 2458.8L595.5 2503.4L606.5 2553L617.5 2603.1L628.5 2638.7L639.5 2665.1L650.5 2696.6L661.5 2681.9L672.5 2669.2L683.5 2650.2L694.5 2629.4L705.5 2620L716.5 2615.5L727.5 2604.1L738.5 2550.1L749.5 2503L760.5 2482.6L771.5 2462.6L782.5 2454.6L793.5 2441.5L804.5 2438.9L815.5 2436.2L826.5 2440.4L837.5 2450.9L848.5 2455L859.5 2472.4L870.5 2486.2L881.5 2507.5L892.5 2521.1L903.5 2533.5L914.5 2540.9L925.5 2552.9L936.5 2562.4L947.5 2574.2L958.5 2579.9L969.5 2588.3L980.5 2599.6L991.5 2606.2L1002.5 2611L1013.5 2625.2L1024.5 2633.2L1035.5 2647.6L1046.5 2660.8L1057.5 2679.5L1068.5 2692.9L1079.5 2707.2L1090.5 2725L1101.5 2734.8L1112.5 2744.7L1123.5 2755.3L1134.5 2762.4L1145.5 2773.7L1156.5 2787.7L1167.5 2799.7L1178.5 2811.4L1189.5 2816.6L1200.5 2826.9L1211.5 2843L1222.5 2852.7L1233.5 2866.7L1244.5 2879.3L1255.5 2891.7L1266.5 2903.6L1277.5 2914.9L1288.5 2922.1L1299.5 2930.7L1310.5 2944L1321.5 2946.5L1332.5 2956.5L1343.5 2960.7L1354.5 2968L1365.5 2972.5L1376.5 2982.6L1387.5 2983.6L1398.5 2992.4L1409.5 3012.8L1420.5 3020L1431.5 3011.2L1442.5 3004.2L1453.5 2999.9L1464.5 2990L1475.5 2990.1L1486.5 2977.2L1497.5 2974.9L1508.5 2986.2L1519.5 2991L1530.5 2995.2L1541.5 3001.4L1552.5 3005.9L1563.5 3012.3L1574.5 3012.3L1585.5 3014L1596.5 3017.8L1607.5 3022.1L1618.5 3026.7L1629.5 3037.9L1640.5 3042.5L1651.5 3060.9L1662.5 3077.9L1673.5 3080.7L1684.5 3075.9L1695.5 3078L1706.5 3058.8L1717.5 3050L1728.5 3036.2L1739.5 3025.8L1750.5 3018.3L1761.5 3021.1L1772.5 3032.2L1783.5 3044.2L1794.5 3059.2L1805.5 3069.4L1816.5 3080.9L1827.5 3097.1L1838.5 3108.2L1849.5 3131.8L1860.5 3161.9L1871.5 3209.2L1882.5 3262.3L1893.5 3287" stroke="#0000e6" stroke-width="4.2" fill="none" stroke-linejoin="round"/>
<path d="M463.5 1980.5V2170.2M451 1980.5h25M451 2170.2h25M474.5 2019.3V2388.1M462 2019.3h25M462 2388.1h25M485.5 2051.6V2784.2M473 2051.6h25M473 2784.2h25M496.5 2068.1V3322M484 2068.1h25M507.5 2085.8V3322M495 2085.8h25M518.5 2129.6V2342.1M506 2129.6h25M506 2342.1h25M529.5 2135.5V2319.4M517 2135.5h25M517 2319.4h25M540.5 2198.6V2337.1M528 2198.6h25M528 2337.1h25M551.5 2233.6V2406.7M539 2233.6h25M539 2406.7h25M562.5 2253.7V2494.9M550 2253.7h25M550 2494.9h25M573.5 2271.6V2663.6M561 2271.6h25M561 2663.6h25M584.5 2298.5V3322M572 2298.5h25M595.5 2362.1V3322M583 2362.1h25M606.5 2458.1V3322M594 2458.1h25M617.5 2541.1V3322M605 2541.1h25M628.5 2643.6V3322M616 2643.6h25M639.5 2684.3V3322M627 2684.3h25M650.5 2741V3322M638 2741h25M661.5 2661.9V3322M649 2661.9h25M672.5 2588.2V3322M660 2588.2h25M683.5 2522.8V3322M671 2522.8h25M694.5 2465.7V3322M682 2465.7h25M705.5 2442.3V3322M693 2442.3h25M716.5 2444V3322M704 2444h25M727.5 2454.2V2852.8M715 2454.2h25M715 2852.8h25M738.5 2448.2V2715.6M726 2448.2h25M726 2715.6h25M749.5 2438.4V2638.9M737 2438.4h25M737 2638.9h25M760.5 2437.9V2569.3M748 2437.9h25M748 2569.3h25M771.5 2421.1V2547.7M759 2421.1h25M759 2547.7h25M782.5 2422V2497.8M770 2422h25M770 2497.8h25M793.5 2409.8V2488.2M781 2409.8h25M781 2488.2h25M804.5 2415V2468.9M792 2415h25M792 2468.9h25M815.5 2417.1V2475.7M803 2417.1h25M803 2475.7h25M826.5 2419.9V2480.3M814 2419.9h25M814 2480.3h25M837.5 2427.1V2475M825 2427.1h25M825 2475h25M848.5 2438.7V2489.1M836 2438.7h25M836 2489.1h25M859.5 2458.3V2502.4M847 2458.3h25M847 2502.4h25M870.5 2471.3V2523.4M858 2471.3h25M858 2523.4h25M881.5 2483.1V2537.6M869 2483.1h25M869 2537.6h25M892.5 2503.1V2550.5M880 2503.1h25M880 2550.5h25M903.5 2510.4V2562.1M891 2510.4h25M891 2562.1h25M914.5 2522.6V2566.9M902 2522.6h25M902 2566.9h25M925.5 2533.6V2573.6M913 2533.6h25M913 2573.6h25M936.5 2544.2V2584.7M924 2544.2h25M924 2584.7h25M947.5 2552.9V2597.9M935 2552.9h25M935 2597.9h25M958.5 2558.6V2605.4M946 2558.6h25M946 2605.4h25M969.5 2570.3V2613.6M957 2570.3h25M957 2613.6h25M980.5 2577.6V2622.4M968 2577.6h25M968 2622.4h25M991.5 2576.5V2630.6M979 2576.5h25M979 2630.6h25M1002.5 2593.5V2636.9M990 2593.5h25M990 2636.9h25M1013.5 2600.6V2649.2M1001 2600.6h25M1001 2649.2h25M1024.5 2611V2659M1012 2611h25M1012 2659h25M1035.5 2625.8V2669.8M1023 2625.8h25M1023 2669.8h25M1046.5 2642.1V2682.6M1034 2642.1h25M1034 2682.6h25M1057.5 2649.6V2704.5M1045 2649.6h25M1045 2704.5h25M1068.5 2672.9V2717.7M1056 2672.9h25M1056 2717.7h25M1079.5 2689.8V2734.6M1067 2689.8h25M1067 2734.6h25M1090.5 2700.6V2745.3M1078 2700.6h25M1078 2745.3h25M1101.5 2710.2V2756.9M1089 2710.2h25M1089 2756.9h25M1112.5 2722V2764.6M1100 2722h25M1100 2764.6h25M1123.5 2727V2773.6M1111 2727h25M1111 2773.6h25M1134.5 2736.7V2792.5M1122 2736.7h25M1122 2792.5h25M1145.5 2745.5V2794.5M1133 2745.5h25M1133 2794.5h25M1156.5 2758.6V2802.7M1144 2758.6h25M1144 2802.7h25M1167.5 2769V2813.9M1155 2769h25M1155 2813.9h25M1178.5 2778.6V2830.3M1166 2778.6h25M1166 2830.3h25M1189.5 2792.5V2848.9M1177 2792.5h25M1177 2848.9h25M1200.5 2804.8V2856.2M1188 2804.8h25M1188 2856.2h25M1211.5 2812.1V2865.7M1199 2812.1h25M1199 2865.7h25M1222.5 2825.7V2873M1210 2825.7h25M1210 2873h25M1233.5 2830.2V2895.2M1221 2830.2h25M1221 2895.2h25M1244.5 2842.6V2900.4M1232 2842.6h25M1232 2900.4h25M1255.5 2852.6V2916.2M1243 2852.6h25M1243 2916.2h25M1266.5 2863.8V2923.2M1254 2863.8h25M1254 2923.2h25M1277.5 2880.1V2939.4M1265 2880.1h25M1265 2939.4h25M1288.5 2880.1V2949M1276 2880.1h25M1276 2949h25M1299.5 2886.9V2957.5M1287 2886.9h25M1287 2957.5h25M1310.5 2900.7V2974M1298 2900.7h25M1298 2974h25M1321.5 2910.8V2975.9M1309 2910.8h25M1309 2975.9h25M1332.5 2910.8V2981.5M1320 2910.8h25M1320 2981.5h25M1343.5 2914.3V2986M1331 2914.3h25M1331 2986h25M1354.5 2920.4V2993.4M1342 2920.4h25M1342 2993.4h25M1365.5 2922.6V2992.3M1353 2922.6h25M1353 2992.3h25M1376.5 2911.3V3008.2M1364 2911.3h25M1364 3008.2h25M1387.5 2921.9V3006.7M1375 2921.9h25M1375 3006.7h25M1398.5 2925.2V3024.9M1386 2925.2h25M1386 3024.9h25M1409.5 2921.3V3016.9M1397 2921.3h25M1397 3016.9h25M1420.5 2923V3022.2M1408 2923h25M1408 3022.2h25M1431.5 2920.8V3010.3M1419 2920.8h25M1419 3010.3h25M1442.5 2919.3V3021.4M1430 2919.3h25M1430 3021.4h25M1453.5 2910.4V3017.6M1441 2910.4h25M1441 3017.6h25M1464.5 2915.2V3005.5M1452 2915.2h25M1452 3005.5h25M1475.5 2904.4V3007.1M1463 2904.4h25M1463 3007.1h25M1486.5 2891.7V2989.7M1474 2891.7h25M1474 2989.7h25M1497.5 2893.5V3013.9M1485 2893.5h25M1485 3013.9h25M1508.5 2915.6V3022.2M1496 2915.6h25M1496 3022.2h25M1519.5 2931.2V3033.3M1507 2931.2h25M1507 3033.3h25M1530.5 2945.4V3052.4M1518 2945.4h25M1518 3052.4h25M1541.5 2950.6V3074.7M1529 2950.6h25M1529 3074.7h25M1552.5 2984.5V3072.1M1540 2984.5h25M1540 3072.1h25M1563.5 3007.2V3096.5M1551 3007.2h25M1551 3096.5h25M1574.5 3012V3113.9M1562 3012h25M1562 3113.9h25M1585.5 3026.1V3127.4M1573 3026.1h25M1573 3127.4h25M1596.5 3037.3V3141.2M1584 3037.3h25M1584 3141.2h25M1607.5 3042V3151.2M1595 3042h25M1595 3151.2h25M1618.5 3044.8V3137.1M1606 3044.8h25M1606 3137.1h25M1629.5 3049.5V3144.7M1617 3049.5h25M1617 3144.7h25M1640.5 3052.8V3166.8M1628 3052.8h25M1628 3166.8h25M1651.5 3055.6V3167.5M1639 3055.6h25M1639 3167.5h25M1662.5 3066.2V3174.9M1650 3066.2h25M1650 3174.9h25M1673.5 3078.4V3195.9M1661 3078.4h25M1661 3195.9h25M1684.5 3092.6V3176.2M1672 3092.6h25M1672 3176.2h25M1695.5 3067.2V3163.4M1683 3067.2h25M1683 3163.4h25M1706.5 3038.1V3153.9M1694 3038.1h25M1694 3153.9h25M1717.5 3027.6V3111.5M1705 3027.6h25M1705 3111.5h25M1728.5 2988.2V3093.2M1716 2988.2h25M1716 3093.2h25M1739.5 2969.3V3072.3M1727 2969.3h25M1727 3072.3h25M1750.5 2973.8V3075.9M1738 2973.8h25M1738 3075.9h25M1761.5 2966.7V3083M1749 2966.7h25M1749 3083h25M1772.5 2978.4V3074.8M1760 2978.4h25M1760 3074.8h25M1783.5 2986.8V3081M1771 2986.8h25M1771 3081h25M1794.5 2992.6V3100.2M1782 2992.6h25M1782 3100.2h25M1805.5 3008.3V3101.7M1793 3008.3h25M1793 3101.7h25M1816.5 3020.7V3137.6M1804 3020.7h25M1804 3137.6h25M1827.5 3016.7V3129.5M1815 3016.7h25M1815 3129.5h25M1838.5 3026.4V3136.4M1826 3026.4h25M1826 3136.4h25M1849.5 3083V3197.5M1837 3083h25M1837 3197.5h25M1860.5 3154.1V3252.8M1848 3154.1h25M1848 3252.8h25M1871.5 3212.7V3308.2M1859 3212.7h25M1859 3308.2h25M1882.5 3258.7V3322M1870 3258.7h25M1893.5 3276V3322M1881 3276h25" stroke="#008000" stroke-width="4.6" fill="none"/>
<path d="M463.5 2049.6L474.5 2117.4L485.5 2164.8L496.5 2209.9L507.5 2214.9L518.5 2204L529.5 2203.2L540.5 2253.8L551.5 2298.6L562.5 2334L573.5 2371.9L584.5 2452.6L595.5 2505.9L606.5 2592.9L617.5 2690L628.5 2769.4L639.5 2825L650.5 2878.7L661.5 2808.4L672.5 2728.3L683.5 2659.8L694.5 2603.1L705.5 2570.6L716.5 2562.8L727.5 2555L738.5 2533.1L749.5 2510.1L760.5 2490.9L771.5 2472.6L782.5 2455.6L793.5 2444.5L804.5 2439.8L815.5 2443.9L826.5 2447.4L837.5 2449.3L848.5 2462L859.5 2478.9L870.5 2495.3L881.5 2508.1L892.5 2525.1L903.5 2534.2L914.5 2543.3L925.5 2552.4L936.5 2563.2L947.5 2573.8L958.5 2580.3L969.5 2590.5L980.5 2598.5L991.5 2601.4L1002.5 2613.8L1013.5 2623.1L1024.5 2633.3L1035.5 2646.3L1046.5 2661.1L1057.5 2674.8L1068.5 2693.8L1079.5 2710.7L1090.5 2721.4L1101.5 2731.9L1112.5 2741.9L1123.5 2748.7L1134.5 2762.2L1145.5 2768.2L1156.5 2779.2L1167.5 2789.9L1178.5 2802.5L1189.5 2818.3L1200.5 2828.5L1211.5 2836.7L1222.5 2847.6L1233.5 2859.5L1244.5 2869L1255.5 2881.4L1266.5 2890.9L1277.5 2907.2L1288.5 2911L1299.5 2918.5L1310.5 2933.4L1321.5 2940.1L1332.5 2942.4L1343.5 2946.3L1354.5 2952.9L1365.5 2953.9L1376.5 2952.8L1387.5 2958.9L1398.5 2967.7L1409.5 2962.3L1420.5 2965.3L1431.5 2959.6L1442.5 2962.7L1453.5 2955.5L1464.5 2954.3L1475.5 2947.9L1486.5 2933.6L1497.5 2943.1L1508.5 2960.5L1519.5 2974.5L1530.5 2990.5L1541.5 3001.3L1552.5 3022.6L1563.5 3045.9L1574.5 3055.2L1585.5 3069.2L1596.5 3081.3L1607.5 3087.8L1618.5 3084.6L1629.5 3090.4L1640.5 3100.2L1651.5 3102.3L1662.5 3111.8L1673.5 3127L1684.5 3129.2L1695.5 3108.4L1706.5 3086.1L1717.5 3064.3L1728.5 3032.5L1739.5 3012.9L1750.5 3017.1L1761.5 3014.9L1772.5 3019.7L1783.5 3027.3L1794.5 3037.8L1805.5 3048.5L1816.5 3069.1L1827.5 3063.7L1838.5 3072.5L1849.5 3130.6L1860.5 3196.2L1871.5 3253.7L1882.5 3304L1893.5 3315.3" stroke="#008000" stroke-width="4.4" fill="none" stroke-linejoin="round"/>
<path d="M463.5 1916.3V2085.4M451 1916.3h25M451 2085.4h25M474.5 1947.3V2146.1M462 1947.3h25M462 2146.1h25M485.5 1989.3V2175.8M473 1989.3h25M473 2175.8h25M496.5 2017.5V2190.6M484 2017.5h25M484 2190.6h25M507.5 2024.9V2219.3M495 2024.9h25M495 2219.3h25M518.5 2054.1V2200.1M506 2054.1h25M506 2200.1h25M529.5 2055.3V2234.7M517 2055.3h25M517 2234.7h25M540.5 2092.6V2232.8M528 2092.6h25M528 2232.8h25M551.5 2114.3V2264.8M539 2114.3h25M539 2264.8h25M562.5 2152.3V2327.5M550 2152.3h25M550 2327.5h25M573.5 2201.8V2345.1M561 2201.8h25M561 2345.1h25M584.5 2242.5V2371.6M572 2242.5h25M572 2371.6h25M595.5 2256.3V2417.7M583 2256.3h25M583 2417.7h25M606.5 2290.3V2430M594 2290.3h25M594 2430h25M617.5 2312.6V2427.8M605 2312.6h25M605 2427.8h25M628.5 2320.5V2443.3M616 2320.5h25M616 2443.3h25M639.5 2309V2463.9M627 2309h25M627 2463.9h25M650.5 2318.4V2442.1M638 2318.4h25M638 2442.1h25M661.5 2337.4V2453.1M649 2337.4h25M649 2453.1h25M672.5 2351.7V2485M660 2351.7h25M660 2485h25M683.5 2375.4V2473.9M671 2375.4h25M671 2473.9h25M694.5 2389.4V2492.2M682 2389.4h25M682 2492.2h25M705.5 2398.9V2497.3M693 2398.9h25M693 2497.3h25M716.5 2399.7V2503.7M704 2399.7h25M704 2503.7h25M727.5 2407.7V2499.5M715 2407.7h25M715 2499.5h25M738.5 2400V2486.1M726 2400h25M726 2486.1h25M749.5 2400.9V2478M737 2400.9h25M737 2478h25M760.5 2391.5V2475.4M748 2391.5h25M748 2475.4h25M771.5 2397.8V2459.4M759 2397.8h25M759 2459.4h25M782.5 2396V2453.7M770 2396h25M770 2453.7h25M793.5 2385.3V2447.5M781 2385.3h25M781 2447.5h25M804.5 2384.1V2449.2M792 2384.1h25M792 2449.2h25M815.5 2387.3V2448.6M803 2387.3h25M803 2448.6h25M826.5 2398V2447.8M814 2398h25M814 2447.8h25M837.5 2404.8V2465.3M825 2404.8h25M825 2465.3h25M848.5 2416.7V2462.5M836 2416.7h25M836 2462.5h25M859.5 2431.6V2485.4M847 2431.6h25M847 2485.4h25M870.5 2446.2V2505M858 2446.2h25M858 2505h25M881.5 2464.5V2518.1M869 2464.5h25M869 2518.1h25M892.5 2488.3V2534.8M880 2488.3h25M880 2534.8h25M903.5 2501.4V2543.8M891 2501.4h25M891 2543.8h25M914.5 2508.9V2557.4M902 2508.9h25M902 2557.4h25M925.5 2519.1V2571.1M913 2519.1h25M913 2571.1h25M936.5 2529.5V2582.5M924 2529.5h25M924 2582.5h25M947.5 2542.7V2582.9M935 2542.7h25M935 2582.9h25M958.5 2548.6V2599.7M946 2548.6h25M946 2599.7h25M969.5 2562.7V2609.9M957 2562.7h25M957 2609.9h25M980.5 2573.4V2613.5M968 2573.4h25M968 2613.5h25M991.5 2580.7V2629.2M979 2580.7h25M979 2629.2h25M1002.5 2586.8V2634.1M990 2586.8h25M990 2634.1h25M1013.5 2601.7V2648.7M1001 2601.7h25M1001 2648.7h25M1024.5 2611.3V2663.3M1012 2611.3h25M1012 2663.3h25M1035.5 2622.5V2674.9M1023 2622.5h25M1023 2674.9h25M1046.5 2643.7V2688.5M1034 2643.7h25M1034 2688.5h25M1057.5 2655.5V2703.1M1045 2655.5h25M1045 2703.1h25M1068.5 2676.3V2716.1M1056 2676.3h25M1056 2716.1h25M1079.5 2691.5V2742.7M1067 2691.5h25M1067 2742.7h25M1090.5 2704.4V2755.9M1078 2704.4h25M1078 2755.9h25M1101.5 2710.6V2764.5M1089 2710.6h25M1089 2764.5h25M1112.5 2724.2V2768.4M1100 2724.2h25M1100 2768.4h25M1123.5 2733.6V2784.9M1111 2733.6h25M1111 2784.9h25M1134.5 2745.9V2787.9M1122 2745.9h25M1122 2787.9h25M1145.5 2763.1V2804.9M1133 2763.1h25M1133 2804.9h25M1156.5 2769.4V2818.9M1144 2769.4h25M1144 2818.9h25M1167.5 2779.7V2836.2M1155 2779.7h25M1155 2836.2h25M1178.5 2790.1V2841.9M1166 2790.1h25M1166 2841.9h25M1189.5 2805.8V2853.4M1177 2805.8h25M1177 2853.4h25M1200.5 2807.4V2867.9M1188 2807.4h25M1188 2867.9h25M1211.5 2824.6V2882.5M1199 2824.6h25M1199 2882.5h25M1222.5 2841.8V2887.6M1210 2841.8h25M1210 2887.6h25M1233.5 2849.2V2898.3M1221 2849.2h25M1221 2898.3h25M1244.5 2862.7V2922.6M1232 2862.7h25M1232 2922.6h25M1255.5 2870.7V2924.5M1243 2870.7h25M1243 2924.5h25M1266.5 2886.1V2941.4M1254 2886.1h25M1254 2941.4h25M1277.5 2891V2947.3M1265 2891h25M1265 2947.3h25M1288.5 2894.1V2951.6M1276 2894.1h25M1276 2951.6h25M1299.5 2898.2V2955.4M1287 2898.2h25M1287 2955.4h25M1310.5 2911.7V2960.4M1298 2911.7h25M1298 2960.4h25M1321.5 2922.9V2980.9M1309 2922.9h25M1309 2980.9h25M1332.5 2928.5V2984.9M1320 2928.5h25M1320 2984.9h25M1343.5 2942.3V2998.5M1331 2942.3h25M1331 2998.5h25M1354.5 2940V2999.1M1342 2940h25M1342 2999.1h25M1365.5 2948.3V3010.6M1353 2948.3h25M1353 3010.6h25M1376.5 2948.4V3011.6M1364 2948.4h25M1364 3011.6h25M1387.5 2948.7V3018.8M1375 2948.7h25M1375 3018.8h25M1398.5 2953.7V3009.6M1386 2953.7h25M1386 3009.6h25M1409.5 2949.9V3018.4M1397 2949.9h25M1397 3018.4h25M1420.5 2953V3019.1M1408 2953h25M1408 3019.1h25M1431.5 2943.4V3013.1M1419 2943.4h25M1419 3013.1h25M1442.5 2957.7V3013.6M1430 2957.7h25M1430 3013.6h25M1453.5 2950.8V3009.2M1441 2950.8h25M1441 3009.2h25M1464.5 2951.8V3009M1452 2951.8h25M1452 3009h25M1475.5 2954.6V3024.3M1463 2954.6h25M1463 3024.3h25M1486.5 2960.2V3027.1M1474 2960.2h25M1474 3027.1h25M1497.5 2963.7V3037.6M1485 2963.7h25M1485 3037.6h25M1508.5 2969.6V3041.3M1496 2969.6h25M1496 3041.3h25M1519.5 2974.5V3032M1507 2974.5h25M1507 3032h25M1530.5 2983.3V3044.1M1518 2983.3h25M1518 3044.1h25M1541.5 2997.6V3071M1529 2997.6h25M1529 3071h25M1552.5 2994.5V3059.3M1540 2994.5h25M1540 3059.3h25M1563.5 2997.9V3069.8M1551 2997.9h25M1551 3069.8h25M1574.5 3007.8V3073.2M1562 3007.8h25M1562 3073.2h25M1585.5 3004.5V3072.2M1573 3004.5h25M1573 3072.2h25M1596.5 3005.1V3075.2M1584 3005.1h25M1584 3075.2h25M1607.5 2999.9V3072.4M1595 2999.9h25M1595 3072.4h25M1618.5 2996.3V3073.3M1606 2996.3h25M1606 3073.3h25M1629.5 2998V3068M1617 2998h25M1617 3068h25M1640.5 3001.6V3078.5M1628 3001.6h25M1628 3078.5h25M1651.5 3009.4V3078M1639 3009.4h25M1639 3078h25M1662.5 3011.3V3084M1650 3011.3h25M1650 3084h25M1673.5 3015.1V3083.6M1661 3015.1h25M1661 3083.6h25M1684.5 3016.4V3079M1672 3016.4h25M1672 3079h25M1695.5 3023.3V3086.8M1683 3023.3h25M1683 3086.8h25M1706.5 3026.5V3112.7M1694 3026.5h25M1694 3112.7h25M1717.5 3034.6V3119.8M1705 3034.6h25M1705 3119.8h25M1728.5 3041.7V3127.8M1716 3041.7h25M1716 3127.8h25M1739.5 3044.2V3131.5M1727 3044.2h25M1727 3131.5h25M1750.5 3057.1V3122M1738 3057.1h25M1738 3122h25M1761.5 3038.7V3127.2M1749 3038.7h25M1749 3127.2h25M1772.5 3069.5V3150.1M1760 3069.5h25M1760 3150.1h25M1783.5 3110.4V3206M1771 3110.4h25M1771 3206h25M1794.5 3141V3232.2M1782 3141h25M1782 3232.2h25M1805.5 3166.2V3288.2M1793 3166.2h25M1793 3288.2h25M1816.5 3185.1V3322M1804 3185.1h25M1827.5 3214.1V3322M1815 3214.1h25M1838.5 3242.3V3322M1826 3242.3h25M1849.5 3256.3V3322M1837 3256.3h25M1860.5 3270.8V3322M1848 3270.8h25M1871.5 3272.2V3322M1859 3272.2h25M1882.5 3273.5V3322M1870 3273.5h25M1893.5 3286.7V3322M1881 3286.7h25" stroke="#ff8c00" stroke-width="4.6" fill="none"/>
<path d="M463.5 1980.2L474.5 2018.6L485.5 2057.7L496.5 2082.4L507.5 2095.2L518.5 2111.5L529.5 2121.9L540.5 2148.4L551.5 2173.1L562.5 2217.8L573.5 2258.5L584.5 2294.8L595.5 2318.1L606.5 2345.9L617.5 2360.4L628.5 2370.8L639.5 2369L650.5 2369L661.5 2385.4L672.5 2405.4L683.5 2417.5L694.5 2433L705.5 2441L716.5 2443.7L727.5 2447.4L738.5 2437.6L749.5 2435L760.5 2428.2L771.5 2425.8L782.5 2422.4L793.5 2413.5L804.5 2413.5L815.5 2415.1L826.5 2421.1L837.5 2432.3L848.5 2438L859.5 2456.3L870.5 2473L881.5 2489.1L892.5 2509.9L903.5 2521.3L914.5 2531.4L925.5 2543.1L936.5 2553.9L947.5 2561.6L958.5 2572.2L969.5 2584.6L980.5 2592.2L991.5 2603.2L1002.5 2608.8L1013.5 2623.5L1024.5 2635.3L1035.5 2646.7L1046.5 2664.6L1057.5 2677.6L1068.5 2695L1079.5 2715.1L1090.5 2728.2L1101.5 2735.3L1112.5 2744.9L1123.5 2757.3L1134.5 2765.6L1145.5 2782.7L1156.5 2792.3L1167.5 2805.6L1178.5 2814L1189.5 2827.9L1200.5 2834.9L1211.5 2851L1222.5 2863.2L1233.5 2872L1244.5 2890L1255.5 2895.4L1266.5 2911.5L1277.5 2916.8L1288.5 2920.4L1299.5 2924.4L1310.5 2934.3L1321.5 2949.4L1332.5 2954.3L1343.5 2968L1354.5 2966.9L1365.5 2976.6L1376.5 2977L1387.5 2980.1L1398.5 2979.3L1409.5 2980.7L1420.5 2982.8L1431.5 2974.6L1442.5 2983.4L1453.5 2977.5L1464.5 2978L1475.5 2985.8L1486.5 2990.3L1497.5 2996.6L1508.5 3001.6L1519.5 3000.8L1530.5 3010.9L1541.5 3030.3L1552.5 3023.8L1563.5 3030L1574.5 3037.3L1585.5 3034.9L1596.5 3036.5L1607.5 3032.3L1618.5 3030.4L1629.5 3029.3L1640.5 3035.6L1651.5 3040.2L1662.5 3043.7L1673.5 3045.8L1684.5 3044.7L1695.5 3052L1706.5 3064L1717.5 3071.8L1728.5 3079.2L1739.5 3082.2L1750.5 3086.4L1761.5 3077.1L1772.5 3105L1783.5 3151.4L1794.5 3180.4L1805.5 3216.3L1816.5 3243L1827.5 3270.9L1838.5 3309.2L1849.5 3322.9L1854.8 3326" stroke="#ff8c00" stroke-width="4.2" fill="none" stroke-linejoin="round"/>
<path d="M463.5 1946.6V2226.9M451 1946.6h25M451 2226.9h25M474.5 1992.2V2279.9M462 1992.2h25M462 2279.9h25M485.5 2028.1V2438.6M473 2028.1h25M473 2438.6h25M496.5 2051.2V2703.2M484 2051.2h25M484 2703.2h25M507.5 2067.8V2719.8M495 2067.8h25M495 2719.8h25M518.5 2082.5V2507.5M506 2082.5h25M506 2507.5h25M529.5 2085.5V2737.5M517 2085.5h25M517 2737.5h25M540.5 2137.6V2403.1M528 2137.6h25M528 2403.1h25M551.5 2140.2V2580.1M539 2140.2h25M539 2580.1h25M562.5 2162.7V2684.5M550 2162.7h25M550 2684.5h25M573.5 2224.2V2538M561 2224.2h25M561 2538h25M584.5 2260.2V2542.4M572 2260.2h25M572 2542.4h25M595.5 2270.7V2743.5M583 2270.7h25M583 2743.5h25M606.5 2299.5V2646.7M594 2299.5h25M594 2646.7h25M617.5 2324.8V2594.3M605 2324.8h25M605 2594.3h25M628.5 2323.9V2631.8M616 2323.9h25M616 2631.8h25M639.5 2313.5V2804.8M627 2313.5h25M627 2804.8h25M650.5 2333.7V2746.8M638 2333.7h25M638 2746.8h25M661.5 2361.3V2704.6M649 2361.3h25M649 2704.6h25M672.5 2383.8V2655.8M660 2383.8h25M660 2655.8h25M683.5 2401V2600M671 2401h25M671 2600h25M694.5 2416.5V2565.2M682 2416.5h25M682 2565.2h25M705.5 2421.1V2543.9M693 2421.1h25M693 2543.9h25M716.5 2412.3V2540.2M704 2412.3h25M704 2540.2h25M727.5 2413.5V2526.7M715 2413.5h25M715 2526.7h25M738.5 2412.8V2513.9M726 2412.8h25M726 2513.9h25M749.5 2413.2V2497.6M737 2413.2h25M737 2497.6h25M760.5 2405V2479M748 2405h25M748 2479h25M771.5 2398.4V2454.1M759 2398.4h25M759 2454.1h25M782.5 2379.2V2446.2M770 2379.2h25M770 2446.2h25M793.5 2380V2432.1M781 2380h25M781 2432.1h25M804.5 2370.8V2430.1M792 2370.8h25M792 2430.1h25M815.5 2369.6V2422.9M803 2369.6h25M803 2422.9h25M826.5 2378V2426.2M814 2378h25M814 2426.2h25M837.5 2388.9V2434.7M825 2388.9h25M825 2434.7h25M848.5 2400.2V2445.4M836 2400.2h25M836 2445.4h25M859.5 2416.3V2459.8M847 2416.3h25M847 2459.8h25M870.5 2430V2483.1M858 2430h25M858 2483.1h25M881.5 2444.6V2500.3M869 2444.6h25M869 2500.3h25M892.5 2464.8V2505.2M880 2464.8h25M880 2505.2h25M903.5 2478.8V2526.4M891 2478.8h25M891 2526.4h25M914.5 2494.7V2540.5M902 2494.7h25M902 2540.5h25M925.5 2508.2V2558M913 2508.2h25M913 2558h25M936.5 2515.7V2569M924 2515.7h25M924 2569h25M947.5 2530.9V2579.3M935 2530.9h25M935 2579.3h25M958.5 2542V2593.3M946 2542h25M946 2593.3h25M969.5 2556.3V2603.7M957 2556.3h25M957 2603.7h25M980.5 2565.1V2606M968 2565.1h25M968 2606h25M991.5 2569.3V2622.1M979 2569.3h25M979 2622.1h25M1002.5 2585.5V2631.4M990 2585.5h25M990 2631.4h25M1013.5 2594.4V2637.2M1001 2594.4h25M1001 2637.2h25M1024.5 2615.5V2657.2M1012 2615.5h25M1012 2657.2h25M1035.5 2626.9V2667.8M1023 2626.9h25M1023 2667.8h25M1046.5 2640.8V2685.8M1034 2640.8h25M1034 2685.8h25M1057.5 2657V2711.9M1045 2657h25M1045 2711.9h25M1068.5 2671.5V2724.1M1056 2671.5h25M1056 2724.1h25M1079.5 2692.1V2738.9M1067 2692.1h25M1067 2738.9h25M1090.5 2709.1V2749.4M1078 2709.1h25M1078 2749.4h25M1101.5 2711.3V2763.9M1089 2711.3h25M1089 2763.9h25M1112.5 2726.2V2777.6M1100 2726.2h25M1100 2777.6h25M1123.5 2737V2792.1M1111 2737h25M1111 2792.1h25M1134.5 2749.9V2795.2M1122 2749.9h25M1122 2795.2h25M1145.5 2756.1V2814M1133 2756.1h25M1133 2814h25M1156.5 2769.2V2826.5M1144 2769.2h25M1144 2826.5h25M1167.5 2786V2837M1155 2786h25M1155 2837h25M1178.5 2794.7V2854.7M1166 2794.7h25M1166 2854.7h25M1189.5 2807.2V2863.5M1177 2807.2h25M1177 2863.5h25M1200.5 2819.7V2875.7M1188 2819.7h25M1188 2875.7h25M1211.5 2828.3V2888.8M1199 2828.3h25M1199 2888.8h25M1222.5 2847.4V2903.7M1210 2847.4h25M1210 2903.7h25M1233.5 2854.7V2915.4M1221 2854.7h25M1221 2915.4h25M1244.5 2859.2V2934.3M1232 2859.2h25M1232 2934.3h25M1255.5 2879.7V2938.2M1243 2879.7h25M1243 2938.2h25M1266.5 2885.3V2951.7M1254 2885.3h25M1254 2951.7h25M1277.5 2895.9V2958.7M1265 2895.9h25M1265 2958.7h25M1288.5 2903.9V2974.7M1276 2903.9h25M1276 2974.7h25M1299.5 2915.4V2982.2M1287 2915.4h25M1287 2982.2h25M1310.5 2918.9V2997.2M1298 2918.9h25M1298 2997.2h25M1321.5 2933.3V3003.9M1309 2933.3h25M1309 3003.9h25M1332.5 2939.8V3026.8M1320 2939.8h25M1320 3026.8h25M1343.5 2947.3V3026.4M1331 2947.3h25M1331 3026.4h25M1354.5 2958.5V3035.7M1342 2958.5h25M1342 3035.7h25M1365.5 2957.5V3047.1M1353 2957.5h25M1353 3047.1h25M1376.5 2951.5V3068.3M1364 2951.5h25M1364 3068.3h25M1387.5 2960.2V3051.6M1375 2960.2h25M1375 3051.6h25M1398.5 2956.6V3057.8M1386 2956.6h25M1386 3057.8h25M1409.5 2961.6V3053.5M1397 2961.6h25M1397 3053.5h25M1420.5 2957.6V3089.9M1408 2957.6h25M1408 3089.9h25M1431.5 2963.9V3084.5M1419 2963.9h25M1419 3084.5h25M1442.5 2984.5V3089.8M1430 2984.5h25M1430 3089.8h25M1453.5 2978.1V3101.2M1441 2978.1h25M1441 3101.2h25M1464.5 2974.8V3105M1452 2974.8h25M1452 3105h25M1475.5 2975.8V3125.5M1463 2975.8h25M1463 3125.5h25M1486.5 2971.2V3107.5M1474 2971.2h25M1474 3107.5h25M1497.5 2976.8V3111.1M1485 2976.8h25M1485 3111.1h25M1508.5 2976.6V3117.9M1496 2976.6h25M1496 3117.9h25M1519.5 2981.2V3123.8M1507 2981.2h25M1507 3123.8h25M1530.5 2997.4V3103.8M1518 2997.4h25M1518 3103.8h25M1541.5 3003.5V3123.5M1529 3003.5h25M1529 3123.5h25M1552.5 2997.2V3124.5M1540 2997.2h25M1540 3124.5h25M1563.5 3007.2V3110.4M1551 3007.2h25M1551 3110.4h25M1574.5 2998.5V3146.3M1562 2998.5h25M1562 3146.3h25M1585.5 3006.8V3119.7M1573 3006.8h25M1573 3119.7h25M1596.5 3004.6V3133.6M1584 3004.6h25M1584 3133.6h25M1607.5 3012.9V3135.8M1595 3012.9h25M1595 3135.8h25M1618.5 3024.3V3132.7M1606 3024.3h25M1606 3132.7h25M1629.5 3026V3145.2M1617 3026h25M1617 3145.2h25M1640.5 3032.7V3155.3M1628 3032.7h25M1628 3155.3h25M1651.5 3050.9V3150.7M1639 3050.9h25M1639 3150.7h25M1662.5 3041V3159M1650 3041h25M1650 3159h25M1673.5 3042.4V3149.8M1661 3042.4h25M1661 3149.8h25M1684.5 3043.7V3157.1M1672 3043.7h25M1672 3157.1h25M1695.5 3054.8V3155.7M1683 3054.8h25M1683 3155.7h25M1706.5 3053V3149.8M1694 3053h25M1694 3149.8h25M1717.5 3042.7V3167.8M1705 3042.7h25M1705 3167.8h25M1728.5 3058.7V3156.3M1716 3058.7h25M1716 3156.3h25M1739.5 3055.5V3144.3M1727 3055.5h25M1727 3144.3h25M1750.5 3055.8V3168.5M1738 3055.8h25M1738 3168.5h25M1761.5 3052V3145M1749 3052h25M1749 3145h25M1772.5 3070.7V3170.8M1760 3070.7h25M1760 3170.8h25M1783.5 3062.9V3308.1M1771 3062.9h25M1771 3308.1h25M1794.5 3067.1V3322M1782 3067.1h25M1805.5 3076V3322M1793 3076h25M1816.5 3079.3V3322M1804 3079.3h25M1827.5 3051V3322M1815 3051h25M1838.5 3088.5V3322M1826 3088.5h25M1849.5 3027.6V3322M1837 3027.6h25M1860.5 3057.8V3322M1848 3057.8h25M1871.5 3089.2V3322M1859 3089.2h25M1882.5 3025.5V3322M1870 3025.5h25M1893.5 3059.4V3322M1881 3059.4h25" stroke="#ff0000" stroke-width="4.6" fill="none"/>
<path d="M463.5 2033.6L474.5 2080.3L485.5 2129.8L496.5 2163.2L507.5 2179.8L518.5 2185.3L529.5 2197.5L540.5 2222.2L551.5 2244L562.5 2270.9L573.5 2316L584.5 2347.4L595.5 2376.6L606.5 2395.3L617.5 2410L628.5 2414.9L639.5 2420.3L650.5 2435.6L661.5 2456.7L672.5 2469.4L683.5 2472.3L694.5 2474.8L705.5 2471.4L716.5 2464.2L727.5 2460.7L738.5 2455.8L749.5 2450.1L760.5 2437.9L771.5 2424L782.5 2409.4L793.5 2404L804.5 2397.8L815.5 2394.1L826.5 2400.4L837.5 2410.2L848.5 2421.3L859.5 2436.6L870.5 2454.4L881.5 2470.1L892.5 2483.8L903.5 2500.9L914.5 2516.1L925.5 2531.2L936.5 2540.2L947.5 2553.3L958.5 2565.7L969.5 2578.3L980.5 2584.3L991.5 2593.7L1002.5 2606.9L1013.5 2614.4L1024.5 2635L1035.5 2646.1L1046.5 2661.8L1057.5 2682.2L1068.5 2695.7L1079.5 2713.9L1090.5 2728L1101.5 2735.5L1112.5 2749.9L1123.5 2762.3L1134.5 2771L1145.5 2782.5L1156.5 2795.4L1167.5 2809.5L1178.5 2822L1189.5 2833L1200.5 2845.3L1211.5 2855.8L1222.5 2873.2L1233.5 2882.3L1244.5 2892.6L1255.5 2906.4L1266.5 2915.2L1277.5 2924.4L1288.5 2935.5L1299.5 2945.5L1310.5 2953.5L1321.5 2964.9L1332.5 2977.6L1343.5 2982.2L1354.5 2992.7L1365.5 2996.4L1376.5 2999.8L1387.5 2999.7L1398.5 2999.6L1409.5 3001.3L1420.5 3010.9L1431.5 3013.5L1442.5 3028.9L1453.5 3028.5L1464.5 3027.5L1475.5 3034.4L1486.5 3025.7L1497.5 3030.7L1508.5 3032.7L1519.5 3037.6L1530.5 3042.2L1541.5 3052.9L1552.5 3049L1563.5 3050.9L1574.5 3056.5L1585.5 3053.8L1596.5 3056.9L1607.5 3063.3L1618.5 3069.8L1629.5 3075.2L1640.5 3083L1651.5 3093.4L1662.5 3089.8L1673.5 3087.5L1684.5 3090.9L1695.5 3097.7L1706.5 3094.5L1717.5 3093.8L1728.5 3100.5L1739.5 3094.1L1750.5 3102.8L1761.5 3092.1L1772.5 3113.4L1783.5 3143.9L1794.5 3179.1L1805.5 3227L1816.5 3271.4L1827.5 3325.5L1828 3326" stroke="#ff0000" stroke-width="10" fill="none" stroke-linejoin="round"/>
<path d="M453.5 1890.6h20v20h-20zM475.5 1957h20v20h-20zM497.5 2011h20v20h-20zM519.5 2034.5h20v20h-20zM541.5 2074.5h20v20h-20zM563.5 2115.4h20v20h-20zM585.5 2158.5h20v20h-20zM607.5 2199.2h20v20h-20zM629.5 2235.7h20v20h-20zM651.5 2271.2h20v20h-20zM673.5 2294.4h20v20h-20zM695.5 2311.7h20v20h-20zM717.5 2325.5h20v20h-20zM739.5 2331.2h20v20h-20zM761.5 2347.5h20v20h-20zM783.5 2356.2h20v20h-20zM805.5 2366h20v20h-20zM827.5 2389.2h20v20h-20zM849.5 2416.7h20v20h-20zM871.5 2446.8h20v20h-20zM893.5 2476.9h20v20h-20zM915.5 2502.5h20v20h-20zM937.5 2526h20v20h-20zM959.5 2550.4h20v20h-20zM981.5 2571.6h20v20h-20zM1003.5 2593.5h20v20h-20zM1025.5 2621.2h20v20h-20zM1047.5 2652.7h20v20h-20zM1069.5 2683.1h20v20h-20zM1091.5 2713.2h20v20h-20zM1113.5 2732.5h20v20h-20zM1135.5 2758.1h20v20h-20zM1157.5 2782.2h20v20h-20zM1179.5 2802.3h20v20h-20zM1201.5 2831.4h20v20h-20zM1223.5 2855.9h20v20h-20zM1245.5 2882.2h20v20h-20zM1267.5 2904.6h20v20h-20zM1289.5 2920.3h20v20h-20zM1311.5 2935h20v20h-20zM1333.5 2947.7h20v20h-20zM1355.5 2953h20v20h-20zM1377.5 2959.4h20v20h-20zM1399.5 2969.3h20v20h-20zM1421.5 2972.5h20v20h-20zM1443.5 2979.5h20v20h-20zM1465.5 2984.6h20v20h-20zM1487.5 2984.4h20v20h-20zM1509.5 2999.8h20v20h-20zM1531.5 3012h20v20h-20zM1553.5 3015.8h20v20h-20zM1575.5 3023.5h20v20h-20zM1597.5 3024.1h20v20h-20zM1619.5 3026.4h20v20h-20zM1641.5 3031.8h20v20h-20zM1663.5 3035.8h20v20h-20zM1685.5 3041.2h20v20h-20zM1707.5 3048.1h20v20h-20zM1729.5 3070.3h20v20h-20zM1751.5 3071h20v20h-20zM1773.5 3103.9h20v20h-20zM1795.5 3166h20v20h-20zM1817.5 3222.1h20v20h-20zM1839.5 3271.1h20v20h-20zM1861.5 3298.3h20v20h-20zM1883.5 3314.2h20v20h-20z" stroke="#7f00ff" stroke-width="4.3" fill="none"/>
<path d="M453.2 1867.7a10.3 10.3 0 1 0 20.6 0a10.3 10.3 0 1 0 -20.6 0zM475.2 1940a10.3 10.3 0 1 0 20.6 0a10.3 10.3 0 1 0 -20.6 0zM497.2 1983.9a10.3 10.3 0 1 0 20.6 0a10.3 10.3 0 1 0 -20.6 0zM519.2 2015.8a10.3 10.3 0 1 0 20.6 0a10.3 10.3 0 1 0 -20.6 0zM541.2 2065.1a10.3 10.3 0 1 0 20.6 0a10.3 10.3 0 1 0 -20.6 0zM563.2 2099.9a10.3 10.3 0 1 0 20.6 0a10.3 10.3 0 1 0 -20.6 0zM585.2 2132.3a10.3 10.3 0 1 0 20.6 0a10.3 10.3 0 1 0 -20.6 0zM607.2 2156.2a10.3 10.3 0 1 0 20.6 0a10.3 10.3 0 1 0 -20.6 0zM629.2 2189.8a10.3 10.3 0 1 0 20.6 0a10.3 10.3 0 1 0 -20.6 0zM651.2 2225.3a10.3 10.3 0 1 0 20.6 0a10.3 10.3 0 1 0 -20.6 0zM673.2 2251.2a10.3 10.3 0 1 0 20.6 0a10.3 10.3 0 1 0 -20.6 0zM695.2 2274.9a10.3 10.3 0 1 0 20.6 0a10.3 10.3 0 1 0 -20.6 0zM717.2 2294.5a10.3 10.3 0 1 0 20.6 0a10.3 10.3 0 1 0 -20.6 0zM739.2 2314.1a10.3 10.3 0 1 0 20.6 0a10.3 10.3 0 1 0 -20.6 0zM761.2 2330.1a10.3 10.3 0 1 0 20.6 0a10.3 10.3 0 1 0 -20.6 0zM783.2 2342.9a10.3 10.3 0 1 0 20.6 0a10.3 10.3 0 1 0 -20.6 0zM805.2 2360.1a10.3 10.3 0 1 0 20.6 0a10.3 10.3 0 1 0 -20.6 0zM827.2 2385.2a10.3 10.3 0 1 0 20.6 0a10.3 10.3 0 1 0 -20.6 0zM849.2 2418.7a10.3 10.3 0 1 0 20.6 0a10.3 10.3 0 1 0 -20.6 0zM871.2 2448.6a10.3 10.3 0 1 0 20.6 0a10.3 10.3 0 1 0 -20.6 0zM893.2 2480.1a10.3 10.3 0 1 0 20.6 0a10.3 10.3 0 1 0 -20.6 0zM915.2 2516.7a10.3 10.3 0 1 0 20.6 0a10.3 10.3 0 1 0 -20.6 0zM937.2 2538.4a10.3 10.3 0 1 0 20.6 0a10.3 10.3 0 1 0 -20.6 0zM959.2 2560.1a10.3 10.3 0 1 0 20.6 0a10.3 10.3 0 1 0 -20.6 0zM981.2 2580.8a10.3 10.3 0 1 0 20.6 0a10.3 10.3 0 1 0 -20.6 0zM1003.2 2606a10.3 10.3 0 1 0 20.6 0a10.3 10.3 0 1 0 -20.6 0zM1025.2 2634.6a10.3 10.3 0 1 0 20.6 0a10.3 10.3 0 1 0 -20.6 0zM1047.2 2666.1a10.3 10.3 0 1 0 20.6 0a10.3 10.3 0 1 0 -20.6 0zM1069.2 2694.9a10.3 10.3 0 1 0 20.6 0a10.3 10.3 0 1 0 -20.6 0zM1091.2 2723.7a10.3 10.3 0 1 0 20.6 0a10.3 10.3 0 1 0 -20.6 0zM1113.2 2745.9a10.3 10.3 0 1 0 20.6 0a10.3 10.3 0 1 0 -20.6 0zM1135.2 2767.9a10.3 10.3 0 1 0 20.6 0a10.3 10.3 0 1 0 -20.6 0zM1157.2 2790.7a10.3 10.3 0 1 0 20.6 0a10.3 10.3 0 1 0 -20.6 0zM1179.2 2814.5a10.3 10.3 0 1 0 20.6 0a10.3 10.3 0 1 0 -20.6 0zM1201.2 2840.9a10.3 10.3 0 1 0 20.6 0a10.3 10.3 0 1 0 -20.6 0zM1223.2 2867.9a10.3 10.3 0 1 0 20.6 0a10.3 10.3 0 1 0 -20.6 0zM1245.2 2888.8a10.3 10.3 0 1 0 20.6 0a10.3 10.3 0 1 0 -20.6 0zM1267.2 2914.5a10.3 10.3 0 1 0 20.6 0a10.3 10.3 0 1 0 -20.6 0zM1289.2 2929.9a10.3 10.3 0 1 0 20.6 0a10.3 10.3 0 1 0 -20.6 0zM1311.2 2942.3a10.3 10.3 0 1 0 20.6 0a10.3 10.3 0 1 0 -20.6 0zM1333.2 2949.3a10.3 10.3 0 1 0 20.6 0a10.3 10.3 0 1 0 -20.6 0zM1355.2 2953.1a10.3 10.3 0 1 0 20.6 0a10.3 10.3 0 1 0 -20.6 0zM1377.2 2956.6a10.3 10.3 0 1 0 20.6 0a10.3 10.3 0 1 0 -20.6 0zM1399.2 2967.9a10.3 10.3 0 1 0 20.6 0a10.3 10.3 0 1 0 -20.6 0zM1421.2 2982.8a10.3 10.3 0 1 0 20.6 0a10.3 10.3 0 1 0 -20.6 0zM1443.2 2994.6a10.3 10.3 0 1 0 20.6 0a10.3 10.3 0 1 0 -20.6 0zM1465.2 2999.8a10.3 10.3 0 1 0 20.6 0a10.3 10.3 0 1 0 -20.6 0zM1487.2 3010.9a10.3 10.3 0 1 0 20.6 0a10.3 10.3 0 1 0 -20.6 0zM1509.2 3036.8a10.3 10.3 0 1 0 20.6 0a10.3 10.3 0 1 0 -20.6 0zM1531.2 3060a10.3 10.3 0 1 0 20.6 0a10.3 10.3 0 1 0 -20.6 0zM1553.2 3082.7a10.3 10.3 0 1 0 20.6 0a10.3 10.3 0 1 0 -20.6 0zM1575.2 3105.1a10.3 10.3 0 1 0 20.6 0a10.3 10.3 0 1 0 -20.6 0zM1597.2 3121a10.3 10.3 0 1 0 20.6 0a10.3 10.3 0 1 0 -20.6 0zM1619.2 3126.7a10.3 10.3 0 1 0 20.6 0a10.3 10.3 0 1 0 -20.6 0zM1641.2 3140.9a10.3 10.3 0 1 0 20.6 0a10.3 10.3 0 1 0 -20.6 0zM1663.2 3152a10.3 10.3 0 1 0 20.6 0a10.3 10.3 0 1 0 -20.6 0zM1685.2 3147.7a10.3 10.3 0 1 0 20.6 0a10.3 10.3 0 1 0 -20.6 0zM1707.2 3133.3a10.3 10.3 0 1 0 20.6 0a10.3 10.3 0 1 0 -20.6 0zM1729.2 3101.9a10.3 10.3 0 1 0 20.6 0a10.3 10.3 0 1 0 -20.6 0zM1751.2 3125.5a10.3 10.3 0 1 0 20.6 0a10.3 10.3 0 1 0 -20.6 0zM1773.2 3173.1a10.3 10.3 0 1 0 20.6 0a10.3 10.3 0 1 0 -20.6 0zM1795.2 3307.6a10.3 10.3 0 1 0 20.6 0a10.3 10.3 0 1 0 -20.6 0z" stroke="#000" stroke-width="4.3" fill="none"/>
<path d="M463.5 1964l9.1 9.1l-9.1 9.1l-9.1 -9.1zM485.5 2041.2l9.1 9.1l-9.1 9.1l-9.1 -9.1zM507.5 2149.3l9.1 9.1l-9.1 9.1l-9.1 -9.1zM529.5 2238.3l9.1 9.1l-9.1 9.1l-9.1 -9.1zM551.5 2317.6l9.1 9.1l-9.1 9.1l-9.1 -9.1zM573.5 2393.7l9.1 9.1l-9.1 9.1l-9.1 -9.1zM595.5 2494.3l9.1 9.1l-9.1 9.1l-9.1 -9.1zM617.5 2594.1l9.1 9.1l-9.1 9.1l-9.1 -9.1zM639.5 2656l9.1 9.1l-9.1 9.1l-9.1 -9.1zM661.5 2672.9l9.1 9.1l-9.1 9.1l-9.1 -9.1zM683.5 2641.1l9.1 9.1l-9.1 9.1l-9.1 -9.1zM705.5 2610.9l9.1 9.1l-9.1 9.1l-9.1 -9.1zM727.5 2595l9.1 9.1l-9.1 9.1l-9.1 -9.1zM749.5 2493.9l9.1 9.1l-9.1 9.1l-9.1 -9.1zM771.5 2453.5l9.1 9.1l-9.1 9.1l-9.1 -9.1zM793.5 2432.4l9.1 9.1l-9.1 9.1l-9.1 -9.1zM815.5 2427.2l9.1 9.1l-9.1 9.1l-9.1 -9.1zM837.5 2441.9l9.1 9.1l-9.1 9.1l-9.1 -9.1zM859.5 2463.4l9.1 9.1l-9.1 9.1l-9.1 -9.1zM881.5 2498.4l9.1 9.1l-9.1 9.1l-9.1 -9.1zM903.5 2524.4l9.1 9.1l-9.1 9.1l-9.1 -9.1zM925.5 2543.8l9.1 9.1l-9.1 9.1l-9.1 -9.1zM947.5 2565.2l9.1 9.1l-9.1 9.1l-9.1 -9.1zM969.5 2579.2l9.1 9.1l-9.1 9.1l-9.1 -9.1zM991.5 2597.1l9.1 9.1l-9.1 9.1l-9.1 -9.1zM1013.5 2616.2l9.1 9.1l-9.1 9.1l-9.1 -9.1zM1035.5 2638.6l9.1 9.1l-9.1 9.1l-9.1 -9.1zM1057.5 2670.4l9.1 9.1l-9.1 9.1l-9.1 -9.1zM1079.5 2698.1l9.1 9.1l-9.1 9.1l-9.1 -9.1zM1101.5 2725.7l9.1 9.1l-9.1 9.1l-9.1 -9.1zM1123.5 2746.2l9.1 9.1l-9.1 9.1l-9.1 -9.1zM1145.5 2764.7l9.1 9.1l-9.1 9.1l-9.1 -9.1zM1167.5 2790.6l9.1 9.1l-9.1 9.1l-9.1 -9.1zM1189.5 2807.6l9.1 9.1l-9.1 9.1l-9.1 -9.1zM1211.5 2833.9l9.1 9.1l-9.1 9.1l-9.1 -9.1zM1233.5 2857.6l9.1 9.1l-9.1 9.1l-9.1 -9.1zM1255.5 2882.6l9.1 9.1l-9.1 9.1l-9.1 -9.1zM1277.5 2905.8l9.1 9.1l-9.1 9.1l-9.1 -9.1zM1299.5 2921.6l9.1 9.1l-9.1 9.1l-9.1 -9.1zM1321.5 2937.4l9.1 9.1l-9.1 9.1l-9.1 -9.1zM1343.5 2951.6l9.1 9.1l-9.1 9.1l-9.1 -9.1zM1365.5 2963.4l9.1 9.1l-9.1 9.1l-9.1 -9.1zM1387.5 2974.6l9.1 9.1l-9.1 9.1l-9.1 -9.1zM1409.5 3003.8l9.1 9.1l-9.1 9.1l-9.1 -9.1zM1431.5 3002.1l9.1 9.1l-9.1 9.1l-9.1 -9.1zM1453.5 2990.9l9.1 9.1l-9.1 9.1l-9.1 -9.1zM1475.5 2981l9.1 9.1l-9.1 9.1l-9.1 -9.1zM1497.5 2965.8l9.1 9.1l-9.1 9.1l-9.1 -9.1zM1519.5 2981.9l9.1 9.1l-9.1 9.1l-9.1 -9.1zM1541.5 2992.3l9.1 9.1l-9.1 9.1l-9.1 -9.1zM1563.5 3003.2l9.1 9.1l-9.1 9.1l-9.1 -9.1zM1585.5 3004.9l9.1 9.1l-9.1 9.1l-9.1 -9.1zM1607.5 3013l9.1 9.1l-9.1 9.1l-9.1 -9.1zM1629.5 3028.8l9.1 9.1l-9.1 9.1l-9.1 -9.1zM1651.5 3051.8l9.1 9.1l-9.1 9.1l-9.1 -9.1zM1673.5 3071.6l9.1 9.1l-9.1 9.1l-9.1 -9.1zM1695.5 3068.9l9.1 9.1l-9.1 9.1l-9.1 -9.1zM1717.5 3041l9.1 9.1l-9.1 9.1l-9.1 -9.1zM1739.5 3016.7l9.1 9.1l-9.1 9.1l-9.1 -9.1zM1761.5 3012l9.1 9.1l-9.1 9.1l-9.1 -9.1zM1783.5 3035.1l9.1 9.1l-9.1 9.1l-9.1 -9.1zM1805.5 3060.3l9.1 9.1l-9.1 9.1l-9.1 -9.1zM1827.5 3088l9.1 9.1l-9.1 9.1l-9.1 -9.1zM1849.5 3122.8l9.1 9.1l-9.1 9.1l-9.1 -9.1zM1871.5 3200.2l9.1 9.1l-9.1 9.1l-9.1 -9.1zM1893.5 3277.9l9.1 9.1l-9.1 9.1l-9.1 -9.1z" stroke="#0000e6" stroke-width="4.3" fill="none"/>
<path d="M452.7 2038.8l21.6 21.6M452.7 2060.5l21.6 -21.6M474.7 2154l21.6 21.6M474.7 2175.6l21.6 -21.6M496.7 2204.1l21.6 21.6M496.7 2225.8l21.6 -21.6M518.7 2192.4l21.6 21.6M518.7 2214l21.6 -21.6M540.7 2287.8l21.6 21.6M540.7 2309.4l21.6 -21.6M562.7 2361.1l21.6 21.6M562.7 2382.7l21.6 -21.6M584.7 2495.1l21.6 21.6M584.7 2516.7l21.6 -21.6M606.7 2679.2l21.6 21.6M606.7 2700.8l21.6 -21.6M628.7 2814.1l21.6 21.6M628.7 2835.8l21.6 -21.6M650.7 2797.6l21.6 21.6M650.7 2819.2l21.6 -21.6M672.7 2649l21.6 21.6M672.7 2670.6l21.6 -21.6M694.7 2559.8l21.6 21.6M694.7 2581.4l21.6 -21.6M716.7 2544.2l21.6 21.6M716.7 2565.8l21.6 -21.6M738.7 2499.3l21.6 21.6M738.7 2520.9l21.6 -21.6M760.7 2461.8l21.6 21.6M760.7 2483.4l21.6 -21.6M782.7 2433.6l21.6 21.6M782.7 2455.3l21.6 -21.6M804.7 2433.1l21.6 21.6M804.7 2454.7l21.6 -21.6M826.7 2438.5l21.6 21.6M826.7 2460.1l21.6 -21.6M848.7 2468l21.6 21.6M848.7 2489.7l21.6 -21.6M870.7 2497.3l21.6 21.6M870.7 2518.9l21.6 -21.6M892.7 2523.4l21.6 21.6M892.7 2545l21.6 -21.6M914.7 2541.6l21.6 21.6M914.7 2563.2l21.6 -21.6M936.7 2563l21.6 21.6M936.7 2584.7l21.6 -21.6M958.7 2579.7l21.6 21.6M958.7 2601.4l21.6 -21.6M980.7 2590.6l21.6 21.6M980.7 2612.2l21.6 -21.6M1002.7 2612.3l21.6 21.6M1002.7 2633.9l21.6 -21.6M1024.7 2635.5l21.6 21.6M1024.7 2657.2l21.6 -21.6M1046.7 2664l21.6 21.6M1046.7 2685.6l21.6 -21.6M1068.7 2699.9l21.6 21.6M1068.7 2721.5l21.6 -21.6M1090.7 2721.1l21.6 21.6M1090.7 2742.7l21.6 -21.6M1112.7 2737.9l21.6 21.6M1112.7 2759.5l21.6 -21.6M1134.7 2757.4l21.6 21.6M1134.7 2779l21.6 -21.6M1156.7 2779.1l21.6 21.6M1156.7 2800.7l21.6 -21.6M1178.7 2807.5l21.6 21.6M1178.7 2829.1l21.6 -21.6M1200.7 2825.9l21.6 21.6M1200.7 2847.6l21.6 -21.6M1222.7 2848.7l21.6 21.6M1222.7 2870.3l21.6 -21.6M1244.7 2870.6l21.6 21.6M1244.7 2892.2l21.6 -21.6M1266.7 2896.3l21.6 21.6M1266.7 2918l21.6 -21.6M1288.7 2907.6l21.6 21.6M1288.7 2929.3l21.6 -21.6M1310.7 2929.3l21.6 21.6M1310.7 2951l21.6 -21.6M1332.7 2935.5l21.6 21.6M1332.7 2957.1l21.6 -21.6M1354.7 2943l21.6 21.6M1354.7 2964.7l21.6 -21.6M1376.7 2948.1l21.6 21.6M1376.7 2969.8l21.6 -21.6M1398.7 2951.5l21.6 21.6M1398.7 2973.1l21.6 -21.6M1420.7 2948.8l21.6 21.6M1420.7 2970.4l21.6 -21.6M1442.7 2944.7l21.6 21.6M1442.7 2966.3l21.6 -21.6M1464.7 2937.1l21.6 21.6M1464.7 2958.8l21.6 -21.6M1486.7 2932.2l21.6 21.6M1486.7 2953.9l21.6 -21.6M1508.7 2963.7l21.6 21.6M1508.7 2985.4l21.6 -21.6M1530.7 2990.5l21.6 21.6M1530.7 3012.1l21.6 -21.6M1552.7 3035.1l21.6 21.6M1552.7 3056.7l21.6 -21.6M1574.7 3058.4l21.6 21.6M1574.7 3080l21.6 -21.6M1596.7 3077l21.6 21.6M1596.7 3098.6l21.6 -21.6M1618.7 3079.6l21.6 21.6M1618.7 3101.2l21.6 -21.6M1640.7 3091.5l21.6 21.6M1640.7 3113.2l21.6 -21.6M1662.7 3116.1l21.6 21.6M1662.7 3137.8l21.6 -21.6M1684.7 3097.6l21.6 21.6M1684.7 3119.2l21.6 -21.6M1706.7 3053.5l21.6 21.6M1706.7 3075.1l21.6 -21.6M1728.7 3002.1l21.6 21.6M1728.7 3023.8l21.6 -21.6M1750.7 3004l21.6 21.6M1750.7 3025.7l21.6 -21.6M1772.7 3016.5l21.6 21.6M1772.7 3038.1l21.6 -21.6M1794.7 3037.7l21.6 21.6M1794.7 3059.3l21.6 -21.6M1816.7 3052.9l21.6 21.6M1816.7 3074.6l21.6 -21.6M1838.7 3119.8l21.6 21.6M1838.7 3141.4l21.6 -21.6M1860.7 3242.9l21.6 21.6M1860.7 3264.5l21.6 -21.6M1882.7 3304.5l21.6 21.6M1882.7 3326.1l21.6 -21.6" stroke="#008000" stroke-width="4.3" fill="none"/>
<path d="M453.2 2041.8h20.6l-10.3 -18zM475.2 2138.1h20.6l-10.3 -18zM497.2 2188h20.6l-10.3 -18zM519.2 2205.7h20.6l-10.3 -18zM541.2 2252.3h20.6l-10.3 -18zM563.2 2324.2h20.6l-10.3 -18zM585.2 2384.8h20.6l-10.3 -18zM607.2 2418.3h20.6l-10.3 -18zM629.2 2428.5h20.6l-10.3 -18zM651.2 2465h20.6l-10.3 -18zM673.2 2480.6h20.6l-10.3 -18zM695.2 2479.7h20.6l-10.3 -18zM717.2 2468.9h20.6l-10.3 -18zM739.2 2458.3h20.6l-10.3 -18zM761.2 2432.2h20.6l-10.3 -18zM783.2 2412.2h20.6l-10.3 -18zM805.2 2402.4h20.6l-10.3 -18zM827.2 2418.5h20.6l-10.3 -18zM849.2 2444.9h20.6l-10.3 -18zM871.2 2478.3h20.6l-10.3 -18zM893.2 2509.1h20.6l-10.3 -18zM915.2 2539.5h20.6l-10.3 -18zM937.2 2561.6h20.6l-10.3 -18zM959.2 2586.5h20.6l-10.3 -18zM981.2 2601.9h20.6l-10.3 -18zM1003.2 2622.6h20.6l-10.3 -18zM1025.2 2654.3h20.6l-10.3 -18zM1047.2 2690.4h20.6l-10.3 -18zM1069.2 2722.1h20.6l-10.3 -18zM1091.2 2743.8h20.6l-10.3 -18zM1113.2 2770.5h20.6l-10.3 -18zM1135.2 2790.8h20.6l-10.3 -18zM1157.2 2817.8h20.6l-10.3 -18zM1179.2 2841.2h20.6l-10.3 -18zM1201.2 2864h20.6l-10.3 -18zM1223.2 2890.5h20.6l-10.3 -18zM1245.2 2914.6h20.6l-10.3 -18zM1267.2 2932.6h20.6l-10.3 -18zM1289.2 2953.7h20.6l-10.3 -18zM1311.2 2973.1h20.6l-10.3 -18zM1333.2 2990.4h20.6l-10.3 -18zM1355.2 3004.6h20.6l-10.3 -18zM1377.2 3007.9h20.6l-10.3 -18zM1399.2 3009.5h20.6l-10.3 -18zM1421.2 3021.7h20.6l-10.3 -18zM1443.2 3036.7h20.6l-10.3 -18zM1465.2 3042.6h20.6l-10.3 -18zM1487.2 3039h20.6l-10.3 -18zM1509.2 3045.9h20.6l-10.3 -18zM1531.2 3061.1h20.6l-10.3 -18zM1553.2 3059.1h20.6l-10.3 -18zM1575.2 3062.1h20.6l-10.3 -18zM1597.2 3071.5h20.6l-10.3 -18zM1619.2 3083.4h20.6l-10.3 -18zM1641.2 3101.7h20.6l-10.3 -18zM1663.2 3095.8h20.6l-10.3 -18zM1685.2 3105.9h20.6l-10.3 -18zM1707.2 3102h20.6l-10.3 -18zM1729.2 3102.3h20.6l-10.3 -18zM1751.2 3100.4h20.6l-10.3 -18zM1773.2 3152.1h20.6l-10.3 -18zM1795.2 3235.2h20.6l-10.3 -18zM1817.2 3333.7h20.6l-10.3 -18z" stroke="#ff0000" stroke-width="4.3" fill="none"/>
<path d="M453.4 1972.1h20.2l-10.1 17.7zM475.4 2049.6h20.2l-10.1 17.7zM497.4 2087.1h20.2l-10.1 17.7zM519.4 2113.8h20.2l-10.1 17.7zM541.4 2165h20.2l-10.1 17.7zM563.4 2250.4h20.2l-10.1 17.7zM585.4 2310h20.2l-10.1 17.7zM607.4 2352.3h20.2l-10.1 17.7zM629.4 2360.9h20.2l-10.1 17.7zM651.4 2377.3h20.2l-10.1 17.7zM673.4 2409.4h20.2l-10.1 17.7zM695.4 2432.9h20.2l-10.1 17.7zM717.4 2439.3h20.2l-10.1 17.7zM739.4 2427h20.2l-10.1 17.7zM761.4 2417.7h20.2l-10.1 17.7zM783.4 2405.4h20.2l-10.1 17.7zM805.4 2407h20.2l-10.1 17.7zM827.4 2424.2h20.2l-10.1 17.7zM849.4 2448.3h20.2l-10.1 17.7zM871.4 2481.1h20.2l-10.1 17.7zM893.4 2513.2h20.2l-10.1 17.7zM915.4 2535h20.2l-10.1 17.7zM937.4 2553.5h20.2l-10.1 17.7zM959.4 2576.6h20.2l-10.1 17.7zM981.4 2595.1h20.2l-10.1 17.7zM1003.4 2615.5h20.2l-10.1 17.7zM1025.4 2638.6h20.2l-10.1 17.7zM1047.4 2669.5h20.2l-10.1 17.7zM1069.4 2707h20.2l-10.1 17.7zM1091.4 2727.3h20.2l-10.1 17.7zM1113.4 2749.2h20.2l-10.1 17.7zM1135.4 2774.6h20.2l-10.1 17.7zM1157.4 2797.5h20.2l-10.1 17.7zM1179.4 2819.8h20.2l-10.1 17.7zM1201.4 2843h20.2l-10.1 17.7zM1223.4 2863.9h20.2l-10.1 17.7zM1245.4 2887.4h20.2l-10.1 17.7zM1267.4 2908.7h20.2l-10.1 17.7zM1289.4 2916.3h20.2l-10.1 17.7zM1311.4 2941.3h20.2l-10.1 17.7zM1333.4 2960h20.2l-10.1 17.7zM1355.4 2968.5h20.2l-10.1 17.7zM1377.4 2972h20.2l-10.1 17.7zM1399.4 2972.6h20.2l-10.1 17.7zM1421.4 2966.6h20.2l-10.1 17.7zM1443.4 2969.4h20.2l-10.1 17.7zM1465.4 2977.7h20.2l-10.1 17.7zM1487.4 2988.5h20.2l-10.1 17.7zM1509.4 2992.7h20.2l-10.1 17.7zM1531.4 3022.2h20.2l-10.1 17.7zM1553.4 3021.9h20.2l-10.1 17.7zM1575.4 3026.9h20.2l-10.1 17.7zM1597.4 3024.2h20.2l-10.1 17.7zM1619.4 3021.2h20.2l-10.1 17.7zM1641.4 3032.1h20.2l-10.1 17.7zM1663.4 3037.8h20.2l-10.1 17.7zM1685.4 3043.9h20.2l-10.1 17.7zM1707.4 3063.7h20.2l-10.1 17.7zM1729.4 3074.1h20.2l-10.1 17.7zM1751.4 3069.1h20.2l-10.1 17.7zM1773.4 3143.3h20.2l-10.1 17.7zM1795.4 3208.2h20.2l-10.1 17.7zM1817.4 3262.8h20.2l-10.1 17.7zM1839.4 3314.8h20.2l-10.1 17.7z" stroke="#ff8c00" stroke-width="3.9" fill="#fff"/>
</g>
</g>
<path d="M1896.2 1791H357.4V3322H1896.2" fill="none" stroke="#000" stroke-width="5.6" stroke-linecap="square"/>
<path d="M1896.6 1791V3322" fill="none" stroke="#000" stroke-width="4.6"/>
<path d="M415.7 3322v-18M460.7 3322v-18M498.8 3322v-18M531.8 3322v-18M560.9 3322v-18M586.9 3322v-34M758.1 3322v-18M858.2 3322v-18M929.3 3322v-18M984.4 3322v-18M1029.4 3322v-18M1067.5 3322v-18M1100.5 3322v-18M1129.6 3322v-18M1155.6 3322v-34M1326.8 3322v-18M1426.9 3322v-18M1498 3322v-18M1553.1 3322v-18M1598.1 3322v-18M1636.2 3322v-18M1669.2 3322v-18M1698.3 3322v-18M1724.3 3322v-34M415.7 1791v18M460.7 1791v18M498.8 1791v18M531.8 1791v18M560.9 1791v18M586.9 1791v34M758.1 1791v18M858.2 1791v18M929.3 1791v18M984.4 1791v18M1029.4 1791v18M1067.5 1791v18M1100.5 1791v18M1129.6 1791v18M1155.6 1791v34M1326.8 1791v18M1426.9 1791v18M1498 1791v18M1553.1 1791v18M1598.1 1791v18M1636.2 1791v18M1669.2 1791v18M1698.3 1791v18M1724.3 1791v34M357.4 3300.8h19M357.4 3281.2h19M357.4 3263.7h35M357.4 3148.4h19M357.4 3081h19M357.4 3033.2h19M357.4 2996.1h19M357.4 2965.7h19M357.4 2940.1h19M357.4 2917.9h19M357.4 2898.3h19M357.4 2880.8h35M357.4 2765.5h19M357.4 2698.1h19M357.4 2650.3h19M357.4 2613.2h19M357.4 2582.8h19M357.4 2557.2h19M357.4 2535h19M357.4 2515.4h19M357.4 2497.9h35M357.4 2382.6h19M357.4 2315.2h19M357.4 2267.4h19M357.4 2230.3h19M357.4 2199.9h19M357.4 2174.3h19M357.4 2152.1h19M357.4 2132.5h19M357.4 2115h35M357.4 1999.7h19M357.4 1932.3h19M357.4 1884.5h19M357.4 1847.4h19M357.4 1817h19M357.4 1791.4h19" stroke="#000" stroke-width="5" fill="none"/>
<path d="M1896.2 3300.8h-19M1896.2 3281.2h-19M1896.2 3263.7h-36M1896.2 3148.4h-19M1896.2 3081h-19M1896.2 3033.2h-19M1896.2 2996.1h-19M1896.2 2965.7h-19M1896.2 2940.1h-19M1896.2 2917.9h-19M1896.2 2898.3h-19M1896.2 2880.8h-36M1896.2 2765.5h-19M1896.2 2698.1h-19M1896.2 2650.3h-19M1896.2 2613.2h-19M1896.2 2582.8h-19M1896.2 2557.2h-19M1896.2 2535h-19M1896.2 2515.4h-19M1896.2 2497.9h-36M1896.2 2382.6h-19M1896.2 2315.2h-19M1896.2 2267.4h-19M1896.2 2230.3h-19M1896.2 2199.9h-19M1896.2 2174.3h-19M1896.2 2152.1h-19M1896.2 2132.5h-19M1896.2 2115h-36M1896.2 1999.7h-19M1896.2 1932.3h-19M1896.2 1884.5h-19M1896.2 1847.4h-19M1896.2 1817h-19M1896.2 1791.4h-19" stroke="#000" stroke-width="4" fill="none"/>
<text x="315" y="2129" font-size="75" text-anchor="end">10<tspan font-size="52.5" dy="-32.2">-1</tspan></text>
<text x="315" y="2512" font-size="75" text-anchor="end">10<tspan font-size="52.5" dy="-32.2">-2</tspan></text>
<text x="315" y="2894.5" font-size="75" text-anchor="end">10<tspan font-size="52.5" dy="-32.2">-3</tspan></text>
<text x="315" y="3278" font-size="75" text-anchor="end">10<tspan font-size="52.5" dy="-32.2">-4</tspan></text>
<text transform="translate(149 2684.5) rotate(-90)" font-size="98" style="white-space:pre"><tspan font-style="italic">I</tspan>(<tspan font-style="italic">q</tspan>)  <tspan dx="15.5">(cm</tspan><tspan font-size="68" dy="-58">-1</tspan><tspan dy="58" dx="1">)</tspan></text>
<text x="581.5" y="3405" font-size="75" text-anchor="middle">0.01</text>
<text x="1147" y="3405" font-size="75" text-anchor="middle">0.1</text>
<text x="1719" y="3405" font-size="75" text-anchor="middle">1</text>
<text x="958" y="3538" font-size="98" style="white-space:pre"><tspan font-style="italic">q</tspan>  <tspan dx="21.5">(Å</tspan><tspan font-size="68" dy="-43">-1</tspan><tspan dy="43" dx="9">)</tspan></text>
<text x="541" y="1958.5" font-size="131">B</text>
<text x="762" y="2060" font-size="82" letter-spacing="2">1st</text>
<text x="952" y="2283.5" font-size="81" letter-spacing="0.5">2nd</text>
<path d="M817 2093V2278" stroke="#000" stroke-width="8.5"/>
<path d="M817 2308L790 2239Q811 2257 817 2261Q823 2257 844 2239Z" fill="#000"/>
<path d="M1010 2317V2501" stroke="#000" stroke-width="8.5"/>
<path d="M1010 2531L983 2462Q1004 2480 1010 2484Q1016 2480 1037 2462Z" fill="#000"/>
<g>
<path d="M1276 2056.5H1456.5" stroke="#000" stroke-width="10.5"/>
<path d="M1362.6 2056.5a9.4 9.4 0 1 0 18.8 0a9.4 9.4 0 1 0 -18.8 0z" stroke="#000" stroke-width="4.2" fill="none"/>
<path d="M1276 2142.5H1456.5" stroke="#7f00ff" stroke-width="4.5"/>
<path d="M1361.8 2132.3h20.5v20.5h-20.5z" stroke="#7f00ff" stroke-width="4.2" fill="none"/>
<path d="M1276 2226H1456.5" stroke="#0000e6" stroke-width="4.5"/>
<path d="M1372 2217.6l8.4 8.4l-8.4 8.4l-8.4 -8.4z" stroke="#0000e6" stroke-width="4.2" fill="none"/>
<path d="M1276 2310.5H1456.5" stroke="#008000" stroke-width="5"/>
<path d="M1360.5 2299l23 23M1360.5 2322l23 -23" stroke="#008000" stroke-width="4.2" fill="none"/>
<path d="M1276 2395H1456.5" stroke="#ff8c00" stroke-width="4.5"/>
<path d="M1362.4 2387.3h19.2l-9.6 16.8z" stroke="#ff8c00" stroke-width="4.2" fill="none"/>
<path d="M1276 2480.5H1456.5" stroke="#ff0000" stroke-width="10.5"/>
<path d="M1360.5 2492.7h23l-11.5 -20.2z" stroke="#ff0000" stroke-width="4.2" fill="none"/>
<text x="1543" y="2010.5" font-size="80">time (hr)</text>
<text x="1541.5" y="2089.5" font-size="80">0.5</text>
<text x="1541.5" y="2170" font-size="80">2.7</text>
<text x="1541.5" y="2250.5" font-size="80">4.9</text>
<text x="1541.5" y="2330" font-size="80">9.5</text>
<text x="1541.5" y="2410.5" font-size="80">16.8</text>
<text x="1541.5" y="2490.5" font-size="80">32.6</text>
</g>
</g>
<path d="M1459.2 1106.5H1495.8V1234.5H1514L1477.5 1266.5L1441 1234.5H1459.2Z" fill="#fff" stroke="#0b3d91" stroke-width="4.8" stroke-linejoin="miter"/>
<path d="M1464.2 2681H1500.8V2809.5H1519L1482.5 2841.5L1446 2809.5H1464.2Z" fill="#fff" stroke="#0b3d91" stroke-width="4.8" stroke-linejoin="miter"/>
</g>
</svg></body></html>
